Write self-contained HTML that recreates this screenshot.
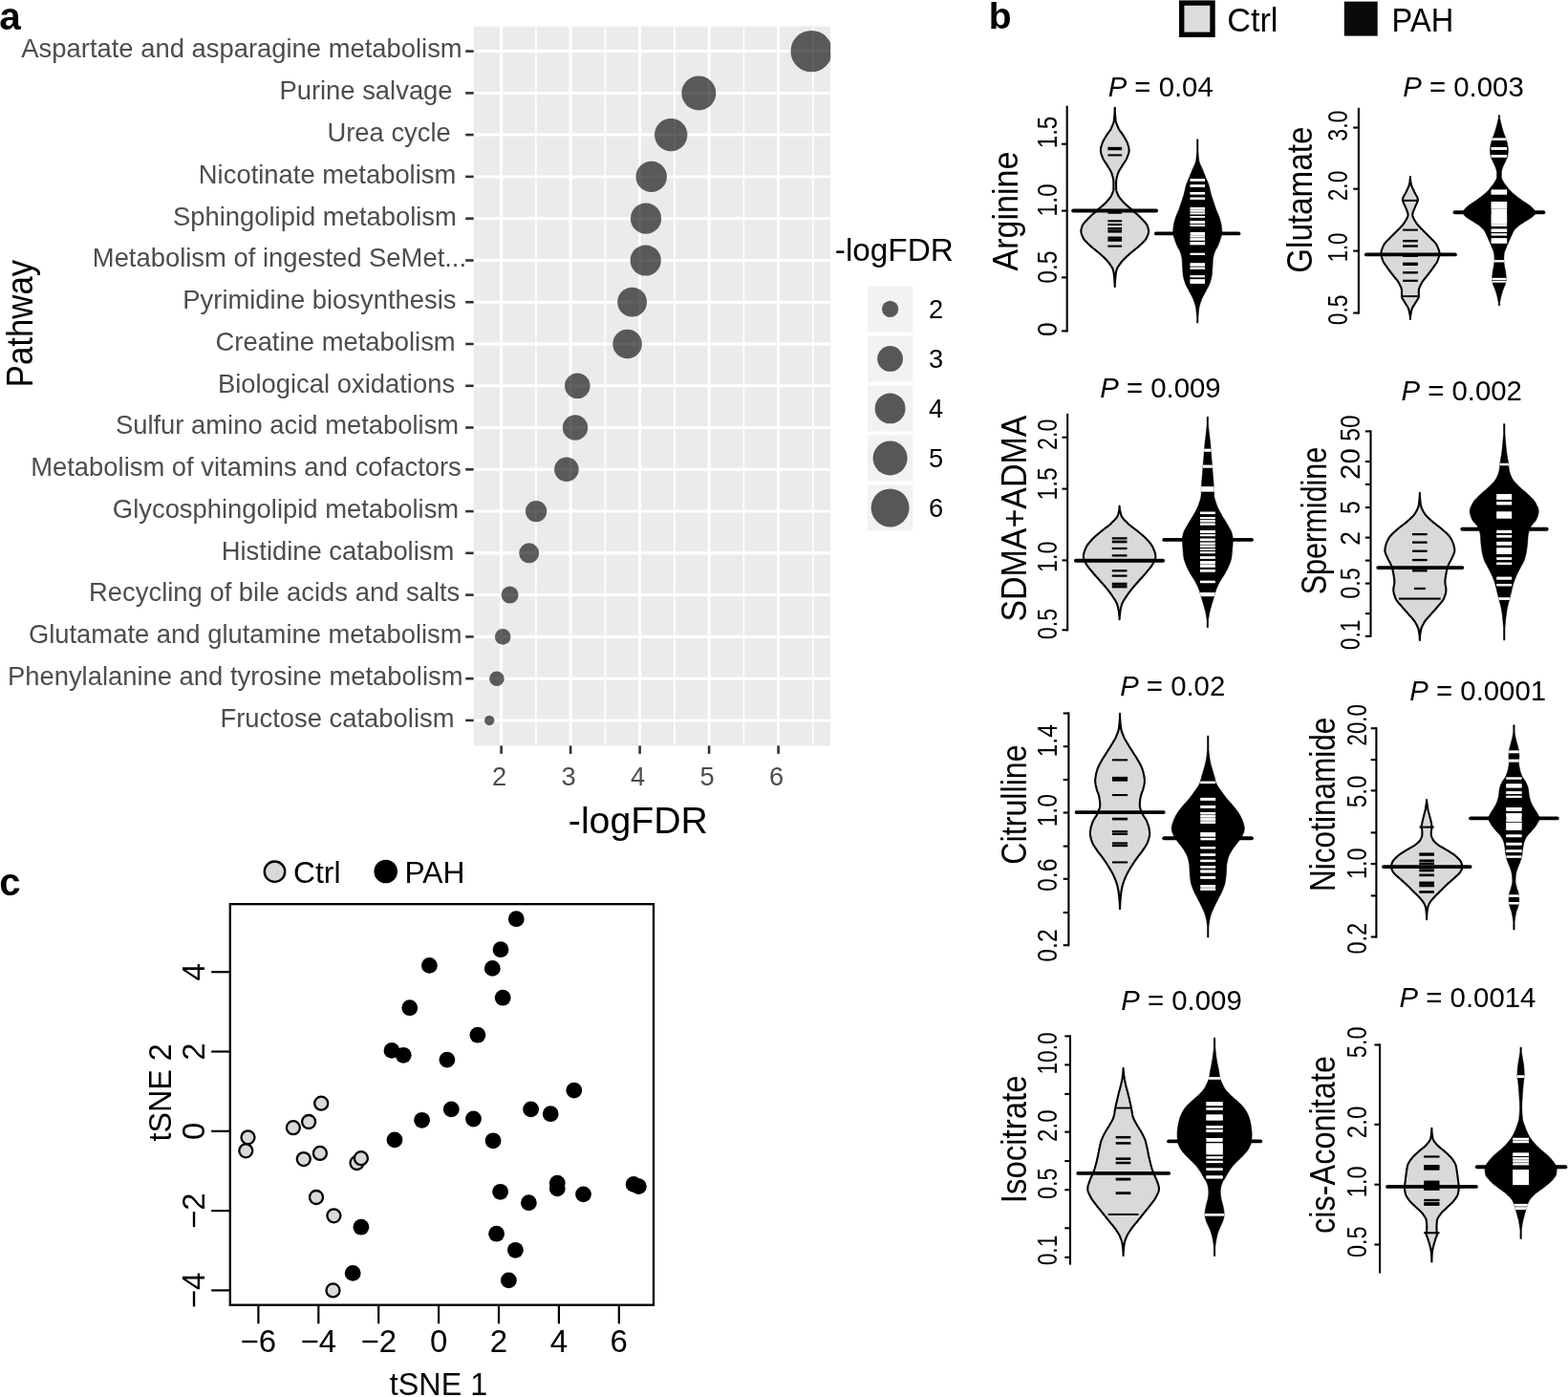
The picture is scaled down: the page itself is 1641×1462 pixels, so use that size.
<!DOCTYPE html>
<html lang="en"><head><meta charset="utf-8"><title>Figure</title>
<style>
html,body{margin:0;padding:0;background:#fff;}
svg{display:block;font-family:"Liberation Sans", Arial, Helvetica, sans-serif;}
</style></head><body>
<svg width="1641" height="1462" viewBox="0 0 1641 1462">
<rect width="1641" height="1462" fill="#fff"/>
<g id="panelA">
<rect x="495.7" y="27.6" width="373.5" height="752.8" fill="#ebebeb"/>
<line x1="560.9" x2="560.9" y1="27.6" y2="780.4" stroke="#fff" stroke-width="1.6"/>
<line x1="633.4" x2="633.4" y1="27.6" y2="780.4" stroke="#fff" stroke-width="1.6"/>
<line x1="705.9" x2="705.9" y1="27.6" y2="780.4" stroke="#fff" stroke-width="1.6"/>
<line x1="778.4" x2="778.4" y1="27.6" y2="780.4" stroke="#fff" stroke-width="1.6"/>
<line x1="850.9" x2="850.9" y1="27.6" y2="780.4" stroke="#fff" stroke-width="1.6"/>
<line x1="524.6" x2="524.6" y1="27.6" y2="780.4" stroke="#fff" stroke-width="3.0"/>
<line x1="597.1" x2="597.1" y1="27.6" y2="780.4" stroke="#fff" stroke-width="3.0"/>
<line x1="669.6" x2="669.6" y1="27.6" y2="780.4" stroke="#fff" stroke-width="3.0"/>
<line x1="742.1" x2="742.1" y1="27.6" y2="780.4" stroke="#fff" stroke-width="3.0"/>
<line x1="814.6" x2="814.6" y1="27.6" y2="780.4" stroke="#fff" stroke-width="3.0"/>
<line x1="495.7" x2="869.2" y1="53.6" y2="53.6" stroke="#fff" stroke-width="3.0"/>
<line x1="495.7" x2="869.2" y1="97.4" y2="97.4" stroke="#fff" stroke-width="3.0"/>
<line x1="495.7" x2="869.2" y1="141.1" y2="141.1" stroke="#fff" stroke-width="3.0"/>
<line x1="495.7" x2="869.2" y1="184.9" y2="184.9" stroke="#fff" stroke-width="3.0"/>
<line x1="495.7" x2="869.2" y1="228.7" y2="228.7" stroke="#fff" stroke-width="3.0"/>
<line x1="495.7" x2="869.2" y1="272.5" y2="272.5" stroke="#fff" stroke-width="3.0"/>
<line x1="495.7" x2="869.2" y1="316.2" y2="316.2" stroke="#fff" stroke-width="3.0"/>
<line x1="495.7" x2="869.2" y1="360.0" y2="360.0" stroke="#fff" stroke-width="3.0"/>
<line x1="495.7" x2="869.2" y1="403.8" y2="403.8" stroke="#fff" stroke-width="3.0"/>
<line x1="495.7" x2="869.2" y1="447.5" y2="447.5" stroke="#fff" stroke-width="3.0"/>
<line x1="495.7" x2="869.2" y1="491.3" y2="491.3" stroke="#fff" stroke-width="3.0"/>
<line x1="495.7" x2="869.2" y1="535.1" y2="535.1" stroke="#fff" stroke-width="3.0"/>
<line x1="495.7" x2="869.2" y1="578.8" y2="578.8" stroke="#fff" stroke-width="3.0"/>
<line x1="495.7" x2="869.2" y1="622.6" y2="622.6" stroke="#fff" stroke-width="3.0"/>
<line x1="495.7" x2="869.2" y1="666.4" y2="666.4" stroke="#fff" stroke-width="3.0"/>
<line x1="495.7" x2="869.2" y1="710.2" y2="710.2" stroke="#fff" stroke-width="3.0"/>
<line x1="495.7" x2="869.2" y1="753.9" y2="753.9" stroke="#fff" stroke-width="3.0"/>
<line x1="487.2" x2="495.7" y1="53.6" y2="53.6" stroke="#333" stroke-width="2.6"/>
<text x="483.7" y="60.4" font-size="27.4" text-anchor="end" fill="#4d4d4d">Aspartate and asparagine metabolism</text>
<line x1="487.2" x2="495.7" y1="97.4" y2="97.4" stroke="#333" stroke-width="2.6"/>
<text x="473.6" y="104.2" font-size="27.4" text-anchor="end" fill="#4d4d4d">Purine salvage</text>
<line x1="487.2" x2="495.7" y1="141.1" y2="141.1" stroke="#333" stroke-width="2.6"/>
<text x="471.8" y="147.9" font-size="27.4" text-anchor="end" fill="#4d4d4d">Urea cycle</text>
<line x1="487.2" x2="495.7" y1="184.9" y2="184.9" stroke="#333" stroke-width="2.6"/>
<text x="477.3" y="191.7" font-size="27.4" text-anchor="end" fill="#4d4d4d">Nicotinate metabolism</text>
<line x1="487.2" x2="495.7" y1="228.7" y2="228.7" stroke="#333" stroke-width="2.6"/>
<text x="477.9" y="235.5" font-size="27.4" text-anchor="end" fill="#4d4d4d">Sphingolipid metabolism</text>
<line x1="487.2" x2="495.7" y1="272.5" y2="272.5" stroke="#333" stroke-width="2.6"/>
<text x="488.1" y="279.3" font-size="27.4" text-anchor="end" fill="#4d4d4d">Metabolism of ingested SeMet...</text>
<line x1="487.2" x2="495.7" y1="316.2" y2="316.2" stroke="#333" stroke-width="2.6"/>
<text x="477.5" y="323.0" font-size="27.4" text-anchor="end" fill="#4d4d4d">Pyrimidine biosynthesis</text>
<line x1="487.2" x2="495.7" y1="360.0" y2="360.0" stroke="#333" stroke-width="2.6"/>
<text x="476.7" y="366.8" font-size="27.4" text-anchor="end" fill="#4d4d4d">Creatine metabolism</text>
<line x1="487.2" x2="495.7" y1="403.8" y2="403.8" stroke="#333" stroke-width="2.6"/>
<text x="476.1" y="410.6" font-size="27.4" text-anchor="end" fill="#4d4d4d">Biological oxidations</text>
<line x1="487.2" x2="495.7" y1="447.5" y2="447.5" stroke="#333" stroke-width="2.6"/>
<text x="480.2" y="454.3" font-size="27.4" text-anchor="end" fill="#4d4d4d">Sulfur amino acid metabolism</text>
<line x1="487.2" x2="495.7" y1="491.3" y2="491.3" stroke="#333" stroke-width="2.6"/>
<text x="482.8" y="498.1" font-size="27.4" text-anchor="end" fill="#4d4d4d">Metabolism of vitamins and cofactors</text>
<line x1="487.2" x2="495.7" y1="535.1" y2="535.1" stroke="#333" stroke-width="2.6"/>
<text x="480.2" y="541.9" font-size="27.4" text-anchor="end" fill="#4d4d4d">Glycosphingolipid metabolism</text>
<line x1="487.2" x2="495.7" y1="578.8" y2="578.8" stroke="#333" stroke-width="2.6"/>
<text x="475.3" y="585.6" font-size="27.4" text-anchor="end" fill="#4d4d4d">Histidine catabolism</text>
<line x1="487.2" x2="495.7" y1="622.6" y2="622.6" stroke="#333" stroke-width="2.6"/>
<text x="481.3" y="629.4" font-size="27.4" text-anchor="end" fill="#4d4d4d">Recycling of bile acids and salts</text>
<line x1="487.2" x2="495.7" y1="666.4" y2="666.4" stroke="#333" stroke-width="2.6"/>
<text x="483.6" y="673.2" font-size="27.4" text-anchor="end" fill="#4d4d4d">Glutamate and glutamine metabolism</text>
<line x1="487.2" x2="495.7" y1="710.2" y2="710.2" stroke="#333" stroke-width="2.6"/>
<text x="484.5" y="717.0" font-size="27.4" text-anchor="end" fill="#4d4d4d">Phenylalanine and tyrosine metabolism</text>
<line x1="487.2" x2="495.7" y1="753.9" y2="753.9" stroke="#333" stroke-width="2.6"/>
<text x="475.5" y="760.7" font-size="27.4" text-anchor="end" fill="#4d4d4d">Fructose catabolism</text>
<g clip-path="url(#clipA)">
<circle cx="849.2" cy="53.6" r="21.7" fill="#000" fill-opacity="0.62"/>
<circle cx="731.3" cy="97.4" r="18.0" fill="#000" fill-opacity="0.62"/>
<circle cx="702.2" cy="141.1" r="17.2" fill="#000" fill-opacity="0.62"/>
<circle cx="681.7" cy="184.9" r="16.2" fill="#000" fill-opacity="0.62"/>
<circle cx="676.0" cy="228.7" r="16.1" fill="#000" fill-opacity="0.62"/>
<circle cx="675.7" cy="272.5" r="16.1" fill="#000" fill-opacity="0.62"/>
<circle cx="661.6" cy="316.2" r="15.4" fill="#000" fill-opacity="0.62"/>
<circle cx="656.6" cy="360.0" r="15.3" fill="#000" fill-opacity="0.62"/>
<circle cx="604.3" cy="403.8" r="13.3" fill="#000" fill-opacity="0.62"/>
<circle cx="602.0" cy="447.5" r="13.2" fill="#000" fill-opacity="0.62"/>
<circle cx="592.9" cy="491.3" r="12.8" fill="#000" fill-opacity="0.62"/>
<circle cx="561.1" cy="535.1" r="11.2" fill="#000" fill-opacity="0.62"/>
<circle cx="553.7" cy="578.8" r="10.5" fill="#000" fill-opacity="0.62"/>
<circle cx="533.6" cy="622.6" r="9.0" fill="#000" fill-opacity="0.62"/>
<circle cx="526.2" cy="666.4" r="8.3" fill="#000" fill-opacity="0.62"/>
<circle cx="519.9" cy="710.2" r="7.8" fill="#000" fill-opacity="0.62"/>
<circle cx="512.2" cy="753.9" r="5.2" fill="#000" fill-opacity="0.62"/>
</g>
<clipPath id="clipA"><rect x="495.7" y="27.6" width="373.5" height="752.8"/></clipPath>
<line x1="524.6" x2="524.6" y1="780.4" y2="788.9" stroke="#333" stroke-width="2.6"/>
<text x="522.6" y="822.1" font-size="27.3" text-anchor="middle" fill="#4d4d4d">2</text>
<line x1="597.1" x2="597.1" y1="780.4" y2="788.9" stroke="#333" stroke-width="2.6"/>
<text x="595.1" y="822.1" font-size="27.3" text-anchor="middle" fill="#4d4d4d">3</text>
<line x1="669.6" x2="669.6" y1="780.4" y2="788.9" stroke="#333" stroke-width="2.6"/>
<text x="667.6" y="822.1" font-size="27.3" text-anchor="middle" fill="#4d4d4d">4</text>
<line x1="742.1" x2="742.1" y1="780.4" y2="788.9" stroke="#333" stroke-width="2.6"/>
<text x="740.1" y="822.1" font-size="27.3" text-anchor="middle" fill="#4d4d4d">5</text>
<line x1="814.6" x2="814.6" y1="780.4" y2="788.9" stroke="#333" stroke-width="2.6"/>
<text x="812.6" y="822.1" font-size="27.3" text-anchor="middle" fill="#4d4d4d">6</text>
<text x="667.8" y="871.5" font-size="39.2" text-anchor="middle" fill="#000">-logFDR</text>
<text x="33.5" y="338.5" font-size="39.2" text-anchor="middle" fill="#000" transform="rotate(-90 33.5 338.5)" textLength="133.5" lengthAdjust="spacingAndGlyphs">Pathway</text>
<text x="873.8" y="272.6" font-size="33.3" text-anchor="start" fill="#000">-logFDR</text>
<rect x="908" y="299.3" width="47.3" height="48.2" fill="#f2f2f2"/>
<circle cx="931.6" cy="323.4" r="8.6" fill="#000" fill-opacity="0.64"/>
<text x="972.0" y="332.8" font-size="27.3" text-anchor="start" fill="#000">2</text>
<rect x="908" y="351.3" width="47.3" height="48.2" fill="#f2f2f2"/>
<circle cx="931.6" cy="375.4" r="13.399999999999999" fill="#000" fill-opacity="0.64"/>
<text x="972.0" y="384.8" font-size="27.3" text-anchor="start" fill="#000">3</text>
<rect x="908" y="403.3" width="47.3" height="48.2" fill="#f2f2f2"/>
<circle cx="931.6" cy="427.4" r="15.95" fill="#000" fill-opacity="0.64"/>
<text x="972.0" y="436.8" font-size="27.3" text-anchor="start" fill="#000">4</text>
<rect x="908" y="455.3" width="47.3" height="48.2" fill="#f2f2f2"/>
<circle cx="931.6" cy="479.4" r="18.0" fill="#000" fill-opacity="0.64"/>
<text x="972.0" y="488.8" font-size="27.3" text-anchor="start" fill="#000">5</text>
<rect x="908" y="507.3" width="47.3" height="48.2" fill="#f2f2f2"/>
<circle cx="931.6" cy="531.4" r="20.0" fill="#000" fill-opacity="0.64"/>
<text x="972.0" y="540.8" font-size="27.3" text-anchor="start" fill="#000">6</text>
<text x="-0.8" y="31.0" font-size="40.5" text-anchor="start" fill="#000" font-weight="bold">a</text>
</g>
<g id="panelC">
<rect x="240.8" y="946.2" width="443.2" height="419.5" fill="none" stroke="#000" stroke-width="2.3"/>
<line x1="270.4" x2="270.4" y1="1365.7" y2="1385.3" stroke="#000" stroke-width="2.2"/>
<text x="270.4" y="1414.6" font-size="33" text-anchor="middle" fill="#000">−6</text>
<line x1="333.3" x2="333.3" y1="1365.7" y2="1385.3" stroke="#000" stroke-width="2.2"/>
<text x="333.3" y="1414.6" font-size="33" text-anchor="middle" fill="#000">−4</text>
<line x1="396.2" x2="396.2" y1="1365.7" y2="1385.3" stroke="#000" stroke-width="2.2"/>
<text x="396.2" y="1414.6" font-size="33" text-anchor="middle" fill="#000">−2</text>
<line x1="459.1" x2="459.1" y1="1365.7" y2="1385.3" stroke="#000" stroke-width="2.2"/>
<text x="459.1" y="1414.6" font-size="33" text-anchor="middle" fill="#000">0</text>
<line x1="522.0" x2="522.0" y1="1365.7" y2="1385.3" stroke="#000" stroke-width="2.2"/>
<text x="522.0" y="1414.6" font-size="33" text-anchor="middle" fill="#000">2</text>
<line x1="584.9" x2="584.9" y1="1365.7" y2="1385.3" stroke="#000" stroke-width="2.2"/>
<text x="584.9" y="1414.6" font-size="33" text-anchor="middle" fill="#000">4</text>
<line x1="647.8" x2="647.8" y1="1365.7" y2="1385.3" stroke="#000" stroke-width="2.2"/>
<text x="647.8" y="1414.6" font-size="33" text-anchor="middle" fill="#000">6</text>
<line x1="221.20000000000002" x2="240.8" y1="1350.4" y2="1350.4" stroke="#000" stroke-width="2.2"/>
<text x="213.6" y="1350.4" font-size="33" text-anchor="middle" fill="#000" transform="rotate(-90 213.6 1350.4)">−4</text>
<line x1="221.20000000000002" x2="240.8" y1="1267.1" y2="1267.1" stroke="#000" stroke-width="2.2"/>
<text x="213.6" y="1267.1" font-size="33" text-anchor="middle" fill="#000" transform="rotate(-90 213.6 1267.1)">−2</text>
<line x1="221.20000000000002" x2="240.8" y1="1183.8" y2="1183.8" stroke="#000" stroke-width="2.2"/>
<text x="213.6" y="1183.8" font-size="33" text-anchor="middle" fill="#000" transform="rotate(-90 213.6 1183.8)">0</text>
<line x1="221.20000000000002" x2="240.8" y1="1100.5" y2="1100.5" stroke="#000" stroke-width="2.2"/>
<text x="213.6" y="1100.5" font-size="33" text-anchor="middle" fill="#000" transform="rotate(-90 213.6 1100.5)">2</text>
<line x1="221.20000000000002" x2="240.8" y1="1017.2" y2="1017.2" stroke="#000" stroke-width="2.2"/>
<text x="213.6" y="1017.2" font-size="33" text-anchor="middle" fill="#000" transform="rotate(-90 213.6 1017.2)">4</text>
<text x="459.0" y="1459.8" font-size="32.3" text-anchor="middle" fill="#000">tSNE 1</text>
<text x="178.7" y="1143.4" font-size="32.3" text-anchor="middle" fill="#000" transform="rotate(-90 178.7 1143.4)">tSNE 2</text>
<circle cx="336.2" cy="1154.7" r="7.0" fill="#d9d9d9" stroke="#000" stroke-width="2.3"/>
<circle cx="323.1" cy="1174.0" r="7.0" fill="#d9d9d9" stroke="#000" stroke-width="2.3"/>
<circle cx="306.9" cy="1180.2" r="7.0" fill="#d9d9d9" stroke="#000" stroke-width="2.3"/>
<circle cx="259.5" cy="1190.3" r="7.0" fill="#d9d9d9" stroke="#000" stroke-width="2.3"/>
<circle cx="257.3" cy="1204.3" r="7.0" fill="#d9d9d9" stroke="#000" stroke-width="2.3"/>
<circle cx="334.9" cy="1206.9" r="7.0" fill="#d9d9d9" stroke="#000" stroke-width="2.3"/>
<circle cx="317.8" cy="1213.1" r="7.0" fill="#d9d9d9" stroke="#000" stroke-width="2.3"/>
<circle cx="373.5" cy="1217.0" r="7.0" fill="#d9d9d9" stroke="#000" stroke-width="2.3"/>
<circle cx="377.9" cy="1212.2" r="7.0" fill="#d9d9d9" stroke="#000" stroke-width="2.3"/>
<circle cx="331.0" cy="1253.0" r="7.0" fill="#d9d9d9" stroke="#000" stroke-width="2.3"/>
<circle cx="349.4" cy="1272.3" r="7.0" fill="#d9d9d9" stroke="#000" stroke-width="2.3"/>
<circle cx="348.5" cy="1350.4" r="7.0" fill="#d9d9d9" stroke="#000" stroke-width="2.3"/>
<circle cx="540.3" cy="961.7" r="8.4" fill="#000"/>
<circle cx="524.0" cy="993.7" r="8.4" fill="#000"/>
<circle cx="449.4" cy="1010.4" r="8.4" fill="#000"/>
<circle cx="515.3" cy="1013.4" r="8.4" fill="#000"/>
<circle cx="526.2" cy="1044.2" r="8.4" fill="#000"/>
<circle cx="428.8" cy="1054.7" r="8.4" fill="#000"/>
<circle cx="499.9" cy="1083.2" r="8.4" fill="#000"/>
<circle cx="410.0" cy="1099.4" r="8.4" fill="#000"/>
<circle cx="422.2" cy="1104.3" r="8.4" fill="#000"/>
<circle cx="467.9" cy="1109.1" r="8.4" fill="#000"/>
<circle cx="600.8" cy="1141.1" r="8.4" fill="#000"/>
<circle cx="472.3" cy="1160.9" r="8.4" fill="#000"/>
<circle cx="555.6" cy="1160.9" r="8.4" fill="#000"/>
<circle cx="576.2" cy="1165.7" r="8.4" fill="#000"/>
<circle cx="441.6" cy="1172.3" r="8.4" fill="#000"/>
<circle cx="495.5" cy="1171.0" r="8.4" fill="#000"/>
<circle cx="413.0" cy="1192.9" r="8.4" fill="#000"/>
<circle cx="516.1" cy="1193.8" r="8.4" fill="#000"/>
<circle cx="583.3" cy="1238.1" r="8.4" fill="#000"/>
<circle cx="583.3" cy="1243.8" r="8.4" fill="#000"/>
<circle cx="663.1" cy="1239.4" r="8.4" fill="#000"/>
<circle cx="668.4" cy="1241.6" r="8.4" fill="#000"/>
<circle cx="523.6" cy="1247.3" r="8.4" fill="#000"/>
<circle cx="610.5" cy="1249.9" r="8.4" fill="#000"/>
<circle cx="553.4" cy="1258.7" r="8.4" fill="#000"/>
<circle cx="377.9" cy="1284.2" r="8.4" fill="#000"/>
<circle cx="519.6" cy="1291.2" r="8.4" fill="#000"/>
<circle cx="539.4" cy="1308.3" r="8.4" fill="#000"/>
<circle cx="369.2" cy="1332.4" r="8.4" fill="#000"/>
<circle cx="532.4" cy="1339.9" r="8.4" fill="#000"/>
<circle cx="287.5" cy="912.2" r="10.7" fill="#d9d9d9" stroke="#000" stroke-width="2.4"/>
<text x="307.0" y="924.0" font-size="32" text-anchor="start" fill="#000" textLength="49.5" lengthAdjust="spacingAndGlyphs">Ctrl</text>
<circle cx="403.7" cy="912" r="12.3" fill="#000"/>
<text x="423.4" y="924.0" font-size="32" text-anchor="start" fill="#000" textLength="63.0" lengthAdjust="spacingAndGlyphs">PAH</text>
<text x="-0.8" y="937.0" font-size="40" text-anchor="start" fill="#000" font-weight="bold">c</text>
</g>
<g id="panelB">
<text x="1034.8" y="30.2" font-size="39" text-anchor="start" fill="#000" font-weight="bold">b</text>
<rect x="1236.7" y="3.1" width="32.3" height="33.2" fill="#dcdcdc" stroke="#000" stroke-width="5.4"/>
<text x="1284.3" y="32.8" font-size="34.2" text-anchor="start" fill="#000">Ctrl</text>
<rect x="1406.8" y="1.6" width="34.9" height="36" fill="#0a0a0a"/>
<text x="1456.6" y="32.8" font-size="34.2" text-anchor="start" fill="#000" textLength="64.6" lengthAdjust="spacingAndGlyphs">PAH</text>
<line x1="1116.7" x2="1116.7" y1="110.7" y2="347.4" stroke="#000" stroke-width="2.1" stroke-linecap="butt"/>
<line x1="1111.0" x2="1117.2" y1="150.7" y2="150.7" stroke="#000" stroke-width="2.1"/>
<line x1="1111.0" x2="1117.2" y1="220.6" y2="220.6" stroke="#000" stroke-width="2.1"/>
<line x1="1111.0" x2="1117.2" y1="290.4" y2="290.4" stroke="#000" stroke-width="2.1"/>
<line x1="1111.0" x2="1117.2" y1="346.4" y2="346.4" stroke="#000" stroke-width="2.1"/>
<text x="1105.6" y="138.5" font-size="28.6" text-anchor="middle" fill="#000" transform="rotate(-90 1105.6 138.5)" textLength="33.7" lengthAdjust="spacingAndGlyphs">1.5</text>
<text x="1105.6" y="209.4" font-size="28.6" text-anchor="middle" fill="#000" transform="rotate(-90 1105.6 209.4)" textLength="34.2" lengthAdjust="spacingAndGlyphs">1.0</text>
<text x="1105.6" y="279.7" font-size="28.6" text-anchor="middle" fill="#000" transform="rotate(-90 1105.6 279.7)" textLength="34.2" lengthAdjust="spacingAndGlyphs">0.5</text>
<text x="1105.6" y="344.7" font-size="28.6" text-anchor="middle" fill="#000" transform="rotate(-90 1105.6 344.7)" textLength="14.7" lengthAdjust="spacingAndGlyphs">0</text>
<text x="1064.7" y="221.0" font-size="36" text-anchor="middle" fill="#000" transform="rotate(-90 1064.7 221.0)" textLength="124.8" lengthAdjust="spacingAndGlyphs">Arginine</text>
<text x="1214.7" y="101.0" font-size="30" text-anchor="middle" textLength="110.1" lengthAdjust="spacingAndGlyphs"><tspan font-style="italic">P</tspan> = 0.04</text>
<path d="M1166.8,112.8 L1166.8,113.6 L1166.8,114.4 L1166.8,115.2 L1166.8,116.0 L1166.8,116.8 L1166.9,117.6 L1166.9,118.4 L1167.0,119.2 L1167.1,120.0 L1167.1,120.8 L1167.2,121.6 L1167.3,122.4 L1167.3,123.2 L1167.4,124.0 L1167.5,124.8 L1167.6,125.6 L1167.7,126.4 L1167.9,127.2 L1168.1,128.0 L1168.3,128.8 L1168.6,129.6 L1168.9,130.4 L1169.2,131.2 L1169.6,132.0 L1169.9,132.8 L1170.3,133.6 L1170.6,134.4 L1171.0,135.2 L1171.5,136.0 L1172.0,136.8 L1172.6,137.6 L1173.2,138.4 L1173.8,139.2 L1174.4,140.0 L1174.9,140.8 L1175.5,141.6 L1176.0,142.4 L1176.4,143.2 L1176.9,144.0 L1177.4,144.8 L1177.8,145.6 L1178.3,146.4 L1178.7,147.2 L1179.1,148.0 L1179.5,148.8 L1179.9,149.6 L1180.2,150.4 L1180.4,151.2 L1180.6,152.0 L1180.9,152.8 L1181.1,153.6 L1181.3,154.4 L1181.4,155.2 L1181.5,156.0 L1181.6,156.8 L1181.6,157.6 L1181.6,158.4 L1181.4,159.2 L1181.3,160.0 L1181.0,160.8 L1180.8,161.6 L1180.5,162.4 L1180.2,163.2 L1179.9,164.0 L1179.6,164.8 L1179.3,165.6 L1178.9,166.4 L1178.5,167.2 L1178.0,168.0 L1177.5,168.8 L1177.0,169.6 L1176.4,170.4 L1175.9,171.2 L1175.4,172.0 L1174.8,172.8 L1174.4,173.6 L1173.9,174.4 L1173.4,175.2 L1172.9,176.0 L1172.4,176.8 L1171.9,177.6 L1171.5,178.4 L1171.0,179.2 L1170.6,180.0 L1170.3,180.8 L1170.0,181.6 L1169.7,182.4 L1169.5,183.2 L1169.3,184.0 L1169.0,184.8 L1168.8,185.6 L1168.6,186.4 L1168.5,187.2 L1168.3,188.0 L1168.2,188.8 L1168.2,189.6 L1168.1,190.4 L1168.1,191.2 L1168.1,192.0 L1168.1,192.8 L1168.1,193.6 L1168.1,194.4 L1168.1,195.2 L1168.1,196.0 L1168.1,196.8 L1168.1,197.6 L1168.2,198.4 L1168.3,199.2 L1168.5,200.0 L1168.8,200.8 L1169.1,201.6 L1169.4,202.4 L1169.7,203.2 L1170.1,204.0 L1170.4,204.8 L1170.9,205.6 L1171.4,206.4 L1172.0,207.2 L1172.6,208.0 L1173.3,208.8 L1174.0,209.6 L1174.7,210.4 L1175.4,211.2 L1176.1,212.0 L1176.9,212.8 L1177.8,213.6 L1178.7,214.4 L1179.6,215.2 L1180.5,216.0 L1181.4,216.8 L1182.4,217.6 L1183.3,218.4 L1184.2,219.2 L1185.1,220.0 L1186.0,220.8 L1186.9,221.6 L1187.8,222.4 L1188.8,223.2 L1189.7,224.0 L1190.6,224.8 L1191.5,225.6 L1192.3,226.4 L1193.2,227.2 L1193.9,228.0 L1194.7,228.8 L1195.4,229.6 L1196.2,230.4 L1197.0,231.2 L1197.7,232.0 L1198.4,232.8 L1199.1,233.6 L1199.7,234.4 L1200.2,235.2 L1200.6,236.0 L1201.0,236.8 L1201.2,237.6 L1201.5,238.4 L1201.7,239.2 L1201.9,240.0 L1202.1,240.8 L1202.1,241.6 L1202.1,242.4 L1202.0,243.2 L1201.9,244.0 L1201.6,244.8 L1201.4,245.6 L1201.1,246.4 L1200.7,247.2 L1200.4,248.0 L1200.0,248.8 L1199.6,249.6 L1199.1,250.4 L1198.5,251.2 L1197.8,252.0 L1197.0,252.8 L1196.2,253.6 L1195.4,254.4 L1194.6,255.2 L1193.7,256.0 L1192.9,256.8 L1192.0,257.6 L1191.1,258.4 L1190.2,259.2 L1189.2,260.0 L1188.2,260.8 L1187.2,261.6 L1186.2,262.4 L1185.2,263.2 L1184.2,264.0 L1183.3,264.8 L1182.3,265.6 L1181.5,266.4 L1180.6,267.2 L1179.7,268.0 L1178.8,268.8 L1178.0,269.6 L1177.2,270.4 L1176.3,271.2 L1175.6,272.0 L1174.8,272.8 L1174.2,273.6 L1173.5,274.4 L1172.9,275.2 L1172.3,276.0 L1171.7,276.8 L1171.2,277.6 L1170.6,278.4 L1170.1,279.2 L1169.6,280.0 L1169.2,280.8 L1168.9,281.6 L1168.6,282.4 L1168.4,283.2 L1168.2,284.0 L1168.1,284.8 L1167.9,285.6 L1167.8,286.4 L1167.7,287.2 L1167.6,288.0 L1167.5,288.8 L1167.4,289.6 L1167.4,290.4 L1167.3,291.2 L1167.2,292.0 L1167.2,292.8 L1167.1,293.6 L1167.0,294.4 L1167.0,295.2 L1166.9,296.0 L1166.9,296.8 L1166.8,297.6 L1166.8,298.4 L1166.8,299.2 L1166.8,300.0 L1166.8,300.0 L1166.7,299.2 L1166.7,298.4 L1166.7,297.6 L1166.6,296.8 L1166.6,296.0 L1166.5,295.2 L1166.5,294.4 L1166.4,293.6 L1166.4,292.8 L1166.3,292.0 L1166.2,291.2 L1166.1,290.4 L1166.1,289.6 L1166.0,288.8 L1165.9,288.0 L1165.8,287.2 L1165.7,286.4 L1165.6,285.6 L1165.4,284.8 L1165.3,284.0 L1165.1,283.2 L1164.9,282.4 L1164.6,281.6 L1164.3,280.8 L1163.9,280.0 L1163.4,279.2 L1162.9,278.4 L1162.3,277.6 L1161.8,276.8 L1161.2,276.0 L1160.6,275.2 L1160.0,274.4 L1159.3,273.6 L1158.7,272.8 L1157.9,272.0 L1157.2,271.2 L1156.4,270.4 L1155.5,269.6 L1154.7,268.8 L1153.8,268.0 L1152.9,267.2 L1152.0,266.4 L1151.2,265.6 L1150.2,264.8 L1149.3,264.0 L1148.3,263.2 L1147.3,262.4 L1146.3,261.6 L1145.3,260.8 L1144.3,260.0 L1143.3,259.2 L1142.4,258.4 L1141.5,257.6 L1140.6,256.8 L1139.8,256.0 L1138.9,255.2 L1138.1,254.4 L1137.3,253.6 L1136.5,252.8 L1135.7,252.0 L1135.0,251.2 L1134.4,250.4 L1133.9,249.6 L1133.5,248.8 L1133.1,248.0 L1132.8,247.2 L1132.4,246.4 L1132.1,245.6 L1131.9,244.8 L1131.6,244.0 L1131.5,243.2 L1131.4,242.4 L1131.4,241.6 L1131.4,240.8 L1131.6,240.0 L1131.8,239.2 L1132.0,238.4 L1132.3,237.6 L1132.5,236.8 L1132.9,236.0 L1133.3,235.2 L1133.8,234.4 L1134.4,233.6 L1135.1,232.8 L1135.8,232.0 L1136.5,231.2 L1137.3,230.4 L1138.1,229.6 L1138.8,228.8 L1139.6,228.0 L1140.4,227.2 L1141.2,226.4 L1142.0,225.6 L1142.9,224.8 L1143.8,224.0 L1144.7,223.2 L1145.7,222.4 L1146.6,221.6 L1147.5,220.8 L1148.4,220.0 L1149.3,219.2 L1150.2,218.4 L1151.1,217.6 L1152.1,216.8 L1153.0,216.0 L1153.9,215.2 L1154.8,214.4 L1155.7,213.6 L1156.6,212.8 L1157.4,212.0 L1158.1,211.2 L1158.8,210.4 L1159.5,209.6 L1160.2,208.8 L1160.9,208.0 L1161.5,207.2 L1162.1,206.4 L1162.6,205.6 L1163.1,204.8 L1163.4,204.0 L1163.8,203.2 L1164.1,202.4 L1164.4,201.6 L1164.7,200.8 L1165.0,200.0 L1165.2,199.2 L1165.3,198.4 L1165.4,197.6 L1165.4,196.8 L1165.4,196.0 L1165.4,195.2 L1165.4,194.4 L1165.4,193.6 L1165.4,192.8 L1165.4,192.0 L1165.4,191.2 L1165.4,190.4 L1165.4,189.6 L1165.3,188.8 L1165.2,188.0 L1165.0,187.2 L1164.9,186.4 L1164.7,185.6 L1164.5,184.8 L1164.2,184.0 L1164.0,183.2 L1163.8,182.4 L1163.5,181.6 L1163.2,180.8 L1162.9,180.0 L1162.5,179.2 L1162.0,178.4 L1161.6,177.6 L1161.1,176.8 L1160.6,176.0 L1160.1,175.2 L1159.6,174.4 L1159.1,173.6 L1158.7,172.8 L1158.2,172.0 L1157.6,171.2 L1157.1,170.4 L1156.5,169.6 L1156.0,168.8 L1155.5,168.0 L1155.0,167.2 L1154.6,166.4 L1154.2,165.6 L1153.9,164.8 L1153.6,164.0 L1153.3,163.2 L1153.0,162.4 L1152.7,161.6 L1152.5,160.8 L1152.2,160.0 L1152.1,159.2 L1152.0,158.4 L1151.9,157.6 L1151.9,156.8 L1152.0,156.0 L1152.1,155.2 L1152.2,154.4 L1152.4,153.6 L1152.6,152.8 L1152.9,152.0 L1153.1,151.2 L1153.3,150.4 L1153.7,149.6 L1154.0,148.8 L1154.4,148.0 L1154.8,147.2 L1155.2,146.4 L1155.7,145.6 L1156.1,144.8 L1156.6,144.0 L1157.1,143.2 L1157.5,142.4 L1158.0,141.6 L1158.6,140.8 L1159.2,140.0 L1159.7,139.2 L1160.3,138.4 L1160.9,137.6 L1161.5,136.8 L1162.0,136.0 L1162.5,135.2 L1162.9,134.4 L1163.2,133.6 L1163.6,132.8 L1164.0,132.0 L1164.3,131.2 L1164.6,130.4 L1164.9,129.6 L1165.2,128.8 L1165.4,128.0 L1165.6,127.2 L1165.8,126.4 L1165.9,125.6 L1166.0,124.8 L1166.1,124.0 L1166.2,123.2 L1166.2,122.4 L1166.3,121.6 L1166.4,120.8 L1166.5,120.0 L1166.5,119.2 L1166.6,118.4 L1166.6,117.6 L1166.7,116.8 L1166.7,116.0 L1166.7,115.2 L1166.7,114.4 L1166.7,113.6 L1166.8,112.8Z" fill="#d9d9d9" stroke="#000" stroke-width="2.1" stroke-linejoin="round"/>
<g fill="#000"><rect x="1159.4" y="153.86" width="14.7" height="3.39"/><rect x="1159.4" y="161.38" width="14.7" height="2.03"/><rect x="1159.4" y="221.72" width="14.7" height="2.03"/><rect x="1159.4" y="230.27" width="14.7" height="2.03"/><rect x="1159.4" y="234.03" width="14.7" height="2.03"/><rect x="1159.4" y="237.96" width="14.7" height="2.71"/><rect x="1159.4" y="240.87" width="14.7" height="2.71"/><rect x="1159.4" y="247.53" width="14.7" height="2.37"/><rect x="1159.4" y="249.76" width="14.7" height="3.05"/><rect x="1159.4" y="256.59" width="14.7" height="2.03"/></g>
<line x1="1123.2" x2="1210.1" y1="220.5" y2="220.5" stroke="#000" stroke-width="3.9" stroke-linecap="round"/>
<path d="M1254.0,145.8 L1254.0,146.6 L1254.0,147.4 L1254.0,148.2 L1254.0,149.0 L1254.0,149.8 L1254.0,150.6 L1254.0,151.4 L1254.0,152.2 L1254.0,153.0 L1254.0,153.8 L1254.0,154.6 L1254.0,155.4 L1254.0,156.2 L1254.0,157.0 L1254.0,157.8 L1254.0,158.6 L1254.1,159.4 L1254.1,160.2 L1254.2,161.0 L1254.3,161.8 L1254.3,162.6 L1254.4,163.4 L1254.5,164.2 L1254.5,165.0 L1254.6,165.8 L1254.7,166.6 L1254.8,167.4 L1254.9,168.2 L1255.1,169.0 L1255.3,169.8 L1255.6,170.6 L1255.9,171.4 L1256.2,172.2 L1256.6,173.0 L1257.0,173.8 L1257.3,174.6 L1257.7,175.4 L1258.1,176.2 L1258.4,177.0 L1258.7,177.8 L1259.1,178.6 L1259.4,179.4 L1259.7,180.2 L1260.0,181.0 L1260.3,181.8 L1260.7,182.6 L1261.0,183.4 L1261.3,184.2 L1261.6,185.0 L1261.9,185.8 L1262.3,186.6 L1262.6,187.4 L1263.0,188.2 L1263.3,189.0 L1263.6,189.8 L1264.0,190.6 L1264.3,191.4 L1264.6,192.2 L1264.9,193.0 L1265.2,193.8 L1265.4,194.6 L1265.6,195.4 L1265.8,196.2 L1266.0,197.0 L1266.2,197.8 L1266.3,198.6 L1266.5,199.4 L1266.7,200.2 L1266.9,201.0 L1267.1,201.8 L1267.3,202.6 L1267.5,203.4 L1267.7,204.2 L1268.0,205.0 L1268.2,205.8 L1268.5,206.6 L1268.8,207.4 L1269.0,208.2 L1269.3,209.0 L1269.6,209.8 L1269.8,210.6 L1270.1,211.4 L1270.4,212.2 L1270.6,213.0 L1270.9,213.8 L1271.2,214.6 L1271.4,215.4 L1271.7,216.2 L1272.0,217.0 L1272.2,217.8 L1272.5,218.6 L1272.8,219.4 L1273.1,220.2 L1273.4,221.0 L1273.8,221.8 L1274.1,222.6 L1274.5,223.4 L1274.8,224.2 L1275.1,225.0 L1275.5,225.8 L1275.8,226.6 L1276.1,227.4 L1276.3,228.2 L1276.6,229.0 L1276.8,229.8 L1277.0,230.6 L1277.3,231.4 L1277.5,232.2 L1277.7,233.0 L1277.9,233.8 L1278.0,234.6 L1278.2,235.4 L1278.3,236.2 L1278.4,237.0 L1278.5,237.8 L1278.6,238.6 L1278.7,239.4 L1278.7,240.2 L1278.8,241.0 L1278.8,241.8 L1278.9,242.6 L1278.9,243.4 L1278.9,244.2 L1278.8,245.0 L1278.6,245.8 L1278.4,246.6 L1278.2,247.4 L1277.9,248.2 L1277.6,249.0 L1277.4,249.8 L1277.1,250.6 L1276.9,251.4 L1276.6,252.2 L1276.3,253.0 L1276.0,253.8 L1275.7,254.6 L1275.4,255.4 L1275.1,256.2 L1274.7,257.0 L1274.4,257.8 L1274.0,258.6 L1273.5,259.4 L1273.1,260.2 L1272.6,261.0 L1272.2,261.8 L1271.8,262.6 L1271.5,263.4 L1271.2,264.2 L1270.9,265.0 L1270.6,265.8 L1270.4,266.6 L1270.2,267.4 L1270.0,268.2 L1269.8,269.0 L1269.6,269.8 L1269.5,270.6 L1269.4,271.4 L1269.4,272.2 L1269.3,273.0 L1269.3,273.8 L1269.2,274.6 L1269.2,275.4 L1269.2,276.2 L1269.1,277.0 L1269.1,277.8 L1269.0,278.6 L1269.0,279.4 L1268.9,280.2 L1268.9,281.0 L1268.8,281.8 L1268.8,282.6 L1268.7,283.4 L1268.7,284.2 L1268.6,285.0 L1268.5,285.8 L1268.4,286.6 L1268.4,287.4 L1268.3,288.2 L1268.2,289.0 L1268.0,289.8 L1267.8,290.6 L1267.6,291.4 L1267.4,292.2 L1267.2,293.0 L1267.0,293.8 L1266.7,294.6 L1266.5,295.4 L1266.2,296.2 L1265.9,297.0 L1265.6,297.8 L1265.2,298.6 L1264.9,299.4 L1264.4,300.2 L1264.0,301.0 L1263.6,301.8 L1263.1,302.6 L1262.7,303.4 L1262.3,304.2 L1261.9,305.0 L1261.4,305.8 L1261.0,306.6 L1260.6,307.4 L1260.2,308.2 L1259.7,309.0 L1259.3,309.8 L1258.9,310.6 L1258.5,311.4 L1258.1,312.2 L1257.8,313.0 L1257.5,313.8 L1257.2,314.6 L1256.9,315.4 L1256.6,316.2 L1256.3,317.0 L1256.0,317.8 L1255.8,318.6 L1255.6,319.4 L1255.4,320.2 L1255.2,321.0 L1255.0,321.8 L1254.9,322.6 L1254.8,323.4 L1254.7,324.2 L1254.6,325.0 L1254.5,325.8 L1254.5,326.6 L1254.4,327.4 L1254.3,328.2 L1254.3,329.0 L1254.2,329.8 L1254.1,330.6 L1254.0,331.4 L1254.0,332.2 L1254.0,333.0 L1254.0,333.8 L1254.0,334.6 L1254.0,335.4 L1254.0,336.2 L1254.0,337.0 L1254.0,337.8 L1254.0,337.9 L1252.5,337.9 L1252.5,337.8 L1252.5,337.0 L1252.5,336.2 L1252.5,335.4 L1252.5,334.6 L1252.5,333.8 L1252.5,333.0 L1252.5,332.2 L1252.5,331.4 L1252.4,330.6 L1252.3,329.8 L1252.2,329.0 L1252.2,328.2 L1252.1,327.4 L1252.0,326.6 L1251.9,325.8 L1251.9,325.0 L1251.8,324.2 L1251.7,323.4 L1251.6,322.6 L1251.5,321.8 L1251.3,321.0 L1251.1,320.2 L1250.9,319.4 L1250.7,318.6 L1250.5,317.8 L1250.2,317.0 L1249.9,316.2 L1249.6,315.4 L1249.3,314.6 L1249.0,313.8 L1248.7,313.0 L1248.4,312.2 L1248.0,311.4 L1247.6,310.6 L1247.2,309.8 L1246.8,309.0 L1246.3,308.2 L1245.9,307.4 L1245.5,306.6 L1245.0,305.8 L1244.6,305.0 L1244.2,304.2 L1243.8,303.4 L1243.4,302.6 L1242.9,301.8 L1242.5,301.0 L1242.1,300.2 L1241.6,299.4 L1241.3,298.6 L1240.9,297.8 L1240.6,297.0 L1240.3,296.2 L1240.0,295.4 L1239.8,294.6 L1239.5,293.8 L1239.3,293.0 L1239.1,292.2 L1238.8,291.4 L1238.7,290.6 L1238.5,289.8 L1238.3,289.0 L1238.2,288.2 L1238.1,287.4 L1238.0,286.6 L1238.0,285.8 L1237.9,285.0 L1237.8,284.2 L1237.8,283.4 L1237.7,282.6 L1237.7,281.8 L1237.6,281.0 L1237.6,280.2 L1237.5,279.4 L1237.5,278.6 L1237.4,277.8 L1237.4,277.0 L1237.3,276.2 L1237.3,275.4 L1237.3,274.6 L1237.2,273.8 L1237.2,273.0 L1237.1,272.2 L1237.1,271.4 L1237.0,270.6 L1236.9,269.8 L1236.7,269.0 L1236.5,268.2 L1236.3,267.4 L1236.1,266.6 L1235.9,265.8 L1235.6,265.0 L1235.3,264.2 L1235.0,263.4 L1234.7,262.6 L1234.3,261.8 L1233.9,261.0 L1233.4,260.2 L1233.0,259.4 L1232.5,258.6 L1232.1,257.8 L1231.8,257.0 L1231.4,256.2 L1231.1,255.4 L1230.8,254.6 L1230.5,253.8 L1230.2,253.0 L1229.9,252.2 L1229.6,251.4 L1229.4,250.6 L1229.1,249.8 L1228.9,249.0 L1228.6,248.2 L1228.3,247.4 L1228.1,246.6 L1227.9,245.8 L1227.7,245.0 L1227.6,244.2 L1227.6,243.4 L1227.6,242.6 L1227.7,241.8 L1227.7,241.0 L1227.8,240.2 L1227.8,239.4 L1227.9,238.6 L1228.0,237.8 L1228.1,237.0 L1228.2,236.2 L1228.3,235.4 L1228.5,234.6 L1228.6,233.8 L1228.8,233.0 L1229.0,232.2 L1229.2,231.4 L1229.5,230.6 L1229.7,229.8 L1229.9,229.0 L1230.2,228.2 L1230.4,227.4 L1230.7,226.6 L1231.0,225.8 L1231.3,225.0 L1231.7,224.2 L1232.0,223.4 L1232.4,222.6 L1232.7,221.8 L1233.1,221.0 L1233.4,220.2 L1233.7,219.4 L1234.0,218.6 L1234.3,217.8 L1234.5,217.0 L1234.8,216.2 L1235.1,215.4 L1235.3,214.6 L1235.6,213.8 L1235.9,213.0 L1236.1,212.2 L1236.4,211.4 L1236.7,210.6 L1236.9,209.8 L1237.2,209.0 L1237.5,208.2 L1237.7,207.4 L1238.0,206.6 L1238.3,205.8 L1238.5,205.0 L1238.8,204.2 L1239.0,203.4 L1239.2,202.6 L1239.4,201.8 L1239.6,201.0 L1239.8,200.2 L1240.0,199.4 L1240.2,198.6 L1240.3,197.8 L1240.5,197.0 L1240.7,196.2 L1240.9,195.4 L1241.1,194.6 L1241.3,193.8 L1241.6,193.0 L1241.9,192.2 L1242.2,191.4 L1242.5,190.6 L1242.9,189.8 L1243.2,189.0 L1243.5,188.2 L1243.9,187.4 L1244.2,186.6 L1244.6,185.8 L1244.9,185.0 L1245.2,184.2 L1245.5,183.4 L1245.8,182.6 L1246.2,181.8 L1246.5,181.0 L1246.8,180.2 L1247.1,179.4 L1247.4,178.6 L1247.8,177.8 L1248.1,177.0 L1248.4,176.2 L1248.8,175.4 L1249.2,174.6 L1249.5,173.8 L1249.9,173.0 L1250.3,172.2 L1250.6,171.4 L1250.9,170.6 L1251.2,169.8 L1251.4,169.0 L1251.6,168.2 L1251.7,167.4 L1251.8,166.6 L1251.9,165.8 L1252.0,165.0 L1252.0,164.2 L1252.1,163.4 L1252.2,162.6 L1252.2,161.8 L1252.3,161.0 L1252.4,160.2 L1252.4,159.4 L1252.5,158.6 L1252.5,157.8 L1252.5,157.0 L1252.5,156.2 L1252.5,155.4 L1252.5,154.6 L1252.5,153.8 L1252.5,153.0 L1252.5,152.2 L1252.5,151.4 L1252.5,150.6 L1252.5,149.8 L1252.5,149.0 L1252.5,148.2 L1252.5,147.4 L1252.5,146.6 L1252.5,145.8Z" fill="#000" stroke="#000" stroke-width="0.5" stroke-linejoin="round"/>
<clipPath id="bc1"><path d="M1254.0,145.8 L1254.0,146.6 L1254.0,147.4 L1254.0,148.2 L1254.0,149.0 L1254.0,149.8 L1254.0,150.6 L1254.0,151.4 L1254.0,152.2 L1254.0,153.0 L1254.0,153.8 L1254.0,154.6 L1254.0,155.4 L1254.0,156.2 L1254.0,157.0 L1254.0,157.8 L1254.0,158.6 L1254.1,159.4 L1254.1,160.2 L1254.2,161.0 L1254.3,161.8 L1254.3,162.6 L1254.4,163.4 L1254.5,164.2 L1254.5,165.0 L1254.6,165.8 L1254.7,166.6 L1254.8,167.4 L1254.9,168.2 L1255.1,169.0 L1255.3,169.8 L1255.6,170.6 L1255.9,171.4 L1256.2,172.2 L1256.6,173.0 L1257.0,173.8 L1257.3,174.6 L1257.7,175.4 L1258.1,176.2 L1258.4,177.0 L1258.7,177.8 L1259.1,178.6 L1259.4,179.4 L1259.7,180.2 L1260.0,181.0 L1260.3,181.8 L1260.7,182.6 L1261.0,183.4 L1261.3,184.2 L1261.6,185.0 L1261.9,185.8 L1262.3,186.6 L1262.6,187.4 L1263.0,188.2 L1263.3,189.0 L1263.6,189.8 L1264.0,190.6 L1264.3,191.4 L1264.6,192.2 L1264.9,193.0 L1265.2,193.8 L1265.4,194.6 L1265.6,195.4 L1265.8,196.2 L1266.0,197.0 L1266.2,197.8 L1266.3,198.6 L1266.5,199.4 L1266.7,200.2 L1266.9,201.0 L1267.1,201.8 L1267.3,202.6 L1267.5,203.4 L1267.7,204.2 L1268.0,205.0 L1268.2,205.8 L1268.5,206.6 L1268.8,207.4 L1269.0,208.2 L1269.3,209.0 L1269.6,209.8 L1269.8,210.6 L1270.1,211.4 L1270.4,212.2 L1270.6,213.0 L1270.9,213.8 L1271.2,214.6 L1271.4,215.4 L1271.7,216.2 L1272.0,217.0 L1272.2,217.8 L1272.5,218.6 L1272.8,219.4 L1273.1,220.2 L1273.4,221.0 L1273.8,221.8 L1274.1,222.6 L1274.5,223.4 L1274.8,224.2 L1275.1,225.0 L1275.5,225.8 L1275.8,226.6 L1276.1,227.4 L1276.3,228.2 L1276.6,229.0 L1276.8,229.8 L1277.0,230.6 L1277.3,231.4 L1277.5,232.2 L1277.7,233.0 L1277.9,233.8 L1278.0,234.6 L1278.2,235.4 L1278.3,236.2 L1278.4,237.0 L1278.5,237.8 L1278.6,238.6 L1278.7,239.4 L1278.7,240.2 L1278.8,241.0 L1278.8,241.8 L1278.9,242.6 L1278.9,243.4 L1278.9,244.2 L1278.8,245.0 L1278.6,245.8 L1278.4,246.6 L1278.2,247.4 L1277.9,248.2 L1277.6,249.0 L1277.4,249.8 L1277.1,250.6 L1276.9,251.4 L1276.6,252.2 L1276.3,253.0 L1276.0,253.8 L1275.7,254.6 L1275.4,255.4 L1275.1,256.2 L1274.7,257.0 L1274.4,257.8 L1274.0,258.6 L1273.5,259.4 L1273.1,260.2 L1272.6,261.0 L1272.2,261.8 L1271.8,262.6 L1271.5,263.4 L1271.2,264.2 L1270.9,265.0 L1270.6,265.8 L1270.4,266.6 L1270.2,267.4 L1270.0,268.2 L1269.8,269.0 L1269.6,269.8 L1269.5,270.6 L1269.4,271.4 L1269.4,272.2 L1269.3,273.0 L1269.3,273.8 L1269.2,274.6 L1269.2,275.4 L1269.2,276.2 L1269.1,277.0 L1269.1,277.8 L1269.0,278.6 L1269.0,279.4 L1268.9,280.2 L1268.9,281.0 L1268.8,281.8 L1268.8,282.6 L1268.7,283.4 L1268.7,284.2 L1268.6,285.0 L1268.5,285.8 L1268.4,286.6 L1268.4,287.4 L1268.3,288.2 L1268.2,289.0 L1268.0,289.8 L1267.8,290.6 L1267.6,291.4 L1267.4,292.2 L1267.2,293.0 L1267.0,293.8 L1266.7,294.6 L1266.5,295.4 L1266.2,296.2 L1265.9,297.0 L1265.6,297.8 L1265.2,298.6 L1264.9,299.4 L1264.4,300.2 L1264.0,301.0 L1263.6,301.8 L1263.1,302.6 L1262.7,303.4 L1262.3,304.2 L1261.9,305.0 L1261.4,305.8 L1261.0,306.6 L1260.6,307.4 L1260.2,308.2 L1259.7,309.0 L1259.3,309.8 L1258.9,310.6 L1258.5,311.4 L1258.1,312.2 L1257.8,313.0 L1257.5,313.8 L1257.2,314.6 L1256.9,315.4 L1256.6,316.2 L1256.3,317.0 L1256.0,317.8 L1255.8,318.6 L1255.6,319.4 L1255.4,320.2 L1255.2,321.0 L1255.0,321.8 L1254.9,322.6 L1254.8,323.4 L1254.7,324.2 L1254.6,325.0 L1254.5,325.8 L1254.5,326.6 L1254.4,327.4 L1254.3,328.2 L1254.3,329.0 L1254.2,329.8 L1254.1,330.6 L1254.0,331.4 L1254.0,332.2 L1254.0,333.0 L1254.0,333.8 L1254.0,334.6 L1254.0,335.4 L1254.0,336.2 L1254.0,337.0 L1254.0,337.8 L1254.0,337.9 L1252.5,337.9 L1252.5,337.8 L1252.5,337.0 L1252.5,336.2 L1252.5,335.4 L1252.5,334.6 L1252.5,333.8 L1252.5,333.0 L1252.5,332.2 L1252.5,331.4 L1252.4,330.6 L1252.3,329.8 L1252.2,329.0 L1252.2,328.2 L1252.1,327.4 L1252.0,326.6 L1251.9,325.8 L1251.9,325.0 L1251.8,324.2 L1251.7,323.4 L1251.6,322.6 L1251.5,321.8 L1251.3,321.0 L1251.1,320.2 L1250.9,319.4 L1250.7,318.6 L1250.5,317.8 L1250.2,317.0 L1249.9,316.2 L1249.6,315.4 L1249.3,314.6 L1249.0,313.8 L1248.7,313.0 L1248.4,312.2 L1248.0,311.4 L1247.6,310.6 L1247.2,309.8 L1246.8,309.0 L1246.3,308.2 L1245.9,307.4 L1245.5,306.6 L1245.0,305.8 L1244.6,305.0 L1244.2,304.2 L1243.8,303.4 L1243.4,302.6 L1242.9,301.8 L1242.5,301.0 L1242.1,300.2 L1241.6,299.4 L1241.3,298.6 L1240.9,297.8 L1240.6,297.0 L1240.3,296.2 L1240.0,295.4 L1239.8,294.6 L1239.5,293.8 L1239.3,293.0 L1239.1,292.2 L1238.8,291.4 L1238.7,290.6 L1238.5,289.8 L1238.3,289.0 L1238.2,288.2 L1238.1,287.4 L1238.0,286.6 L1238.0,285.8 L1237.9,285.0 L1237.8,284.2 L1237.8,283.4 L1237.7,282.6 L1237.7,281.8 L1237.6,281.0 L1237.6,280.2 L1237.5,279.4 L1237.5,278.6 L1237.4,277.8 L1237.4,277.0 L1237.3,276.2 L1237.3,275.4 L1237.3,274.6 L1237.2,273.8 L1237.2,273.0 L1237.1,272.2 L1237.1,271.4 L1237.0,270.6 L1236.9,269.8 L1236.7,269.0 L1236.5,268.2 L1236.3,267.4 L1236.1,266.6 L1235.9,265.8 L1235.6,265.0 L1235.3,264.2 L1235.0,263.4 L1234.7,262.6 L1234.3,261.8 L1233.9,261.0 L1233.4,260.2 L1233.0,259.4 L1232.5,258.6 L1232.1,257.8 L1231.8,257.0 L1231.4,256.2 L1231.1,255.4 L1230.8,254.6 L1230.5,253.8 L1230.2,253.0 L1229.9,252.2 L1229.6,251.4 L1229.4,250.6 L1229.1,249.8 L1228.9,249.0 L1228.6,248.2 L1228.3,247.4 L1228.1,246.6 L1227.9,245.8 L1227.7,245.0 L1227.6,244.2 L1227.6,243.4 L1227.6,242.6 L1227.7,241.8 L1227.7,241.0 L1227.8,240.2 L1227.8,239.4 L1227.9,238.6 L1228.0,237.8 L1228.1,237.0 L1228.2,236.2 L1228.3,235.4 L1228.5,234.6 L1228.6,233.8 L1228.8,233.0 L1229.0,232.2 L1229.2,231.4 L1229.5,230.6 L1229.7,229.8 L1229.9,229.0 L1230.2,228.2 L1230.4,227.4 L1230.7,226.6 L1231.0,225.8 L1231.3,225.0 L1231.7,224.2 L1232.0,223.4 L1232.4,222.6 L1232.7,221.8 L1233.1,221.0 L1233.4,220.2 L1233.7,219.4 L1234.0,218.6 L1234.3,217.8 L1234.5,217.0 L1234.8,216.2 L1235.1,215.4 L1235.3,214.6 L1235.6,213.8 L1235.9,213.0 L1236.1,212.2 L1236.4,211.4 L1236.7,210.6 L1236.9,209.8 L1237.2,209.0 L1237.5,208.2 L1237.7,207.4 L1238.0,206.6 L1238.3,205.8 L1238.5,205.0 L1238.8,204.2 L1239.0,203.4 L1239.2,202.6 L1239.4,201.8 L1239.6,201.0 L1239.8,200.2 L1240.0,199.4 L1240.2,198.6 L1240.3,197.8 L1240.5,197.0 L1240.7,196.2 L1240.9,195.4 L1241.1,194.6 L1241.3,193.8 L1241.6,193.0 L1241.9,192.2 L1242.2,191.4 L1242.5,190.6 L1242.9,189.8 L1243.2,189.0 L1243.5,188.2 L1243.9,187.4 L1244.2,186.6 L1244.6,185.8 L1244.9,185.0 L1245.2,184.2 L1245.5,183.4 L1245.8,182.6 L1246.2,181.8 L1246.5,181.0 L1246.8,180.2 L1247.1,179.4 L1247.4,178.6 L1247.8,177.8 L1248.1,177.0 L1248.4,176.2 L1248.8,175.4 L1249.2,174.6 L1249.5,173.8 L1249.9,173.0 L1250.3,172.2 L1250.6,171.4 L1250.9,170.6 L1251.2,169.8 L1251.4,169.0 L1251.6,168.2 L1251.7,167.4 L1251.8,166.6 L1251.9,165.8 L1252.0,165.0 L1252.0,164.2 L1252.1,163.4 L1252.2,162.6 L1252.2,161.8 L1252.3,161.0 L1252.4,160.2 L1252.4,159.4 L1252.5,158.6 L1252.5,157.8 L1252.5,157.0 L1252.5,156.2 L1252.5,155.4 L1252.5,154.6 L1252.5,153.8 L1252.5,153.0 L1252.5,152.2 L1252.5,151.4 L1252.5,150.6 L1252.5,149.8 L1252.5,149.0 L1252.5,148.2 L1252.5,147.4 L1252.5,146.6 L1252.5,145.8Z"/></clipPath>
<g fill="#fff" clip-path="url(#bc1)"><rect x="1245.6" y="187.22" width="15.4" height="2.31"/><rect x="1245.6" y="193.38" width="15.4" height="2.31"/><rect x="1245.6" y="201.07" width="15.4" height="2.31"/><rect x="1245.6" y="206.71" width="15.4" height="1.97"/><rect x="1245.6" y="216.96" width="15.4" height="1.97"/><rect x="1245.6" y="219.53" width="15.4" height="1.97"/><rect x="1245.6" y="222.61" width="15.4" height="1.63"/><rect x="1245.6" y="226.02" width="15.4" height="1.63"/><rect x="1245.6" y="231.15" width="15.4" height="2.65"/><rect x="1245.6" y="234.91" width="15.4" height="1.97"/><rect x="1245.6" y="242.95" width="15.4" height="2.99"/><rect x="1245.6" y="246.37" width="15.4" height="1.97"/><rect x="1245.6" y="249.27" width="15.4" height="2.31"/><rect x="1245.6" y="253.20" width="15.4" height="2.99"/><rect x="1245.6" y="264.83" width="15.4" height="1.97"/><rect x="1245.6" y="275.43" width="15.4" height="2.99"/><rect x="1245.6" y="279.70" width="15.4" height="1.97"/><rect x="1245.6" y="288.25" width="15.4" height="1.97"/><rect x="1245.6" y="292.35" width="15.4" height="4.36"/></g>
<line x1="1209.9" x2="1296.4" y1="244.4" y2="244.4" stroke="#000" stroke-width="3.9" stroke-linecap="round"/>
<g fill="#fff" clip-path="url(#bc1)"><rect x="1245.6" y="187.22" width="15.4" height="2.31"/><rect x="1245.6" y="193.38" width="15.4" height="2.31"/><rect x="1245.6" y="201.07" width="15.4" height="2.31"/><rect x="1245.6" y="206.71" width="15.4" height="1.97"/><rect x="1245.6" y="216.96" width="15.4" height="1.97"/><rect x="1245.6" y="219.53" width="15.4" height="1.97"/><rect x="1245.6" y="222.61" width="15.4" height="1.63"/><rect x="1245.6" y="226.02" width="15.4" height="1.63"/><rect x="1245.6" y="231.15" width="15.4" height="2.65"/><rect x="1245.6" y="234.91" width="15.4" height="1.97"/><rect x="1245.6" y="242.95" width="15.4" height="2.99"/><rect x="1245.6" y="246.37" width="15.4" height="1.97"/><rect x="1245.6" y="249.27" width="15.4" height="2.31"/><rect x="1245.6" y="253.20" width="15.4" height="2.99"/><rect x="1245.6" y="264.83" width="15.4" height="1.97"/><rect x="1245.6" y="275.43" width="15.4" height="2.99"/><rect x="1245.6" y="279.70" width="15.4" height="1.97"/><rect x="1245.6" y="288.25" width="15.4" height="1.97"/><rect x="1245.6" y="292.35" width="15.4" height="4.36"/></g>
<line x1="1421.9" x2="1421.9" y1="112.8" y2="328.5" stroke="#000" stroke-width="2.1" stroke-linecap="butt"/>
<line x1="1416.2" x2="1422.4" y1="133.6" y2="133.6" stroke="#000" stroke-width="2.1"/>
<line x1="1416.2" x2="1422.4" y1="197.7" y2="197.7" stroke="#000" stroke-width="2.1"/>
<line x1="1416.2" x2="1422.4" y1="262.6" y2="262.6" stroke="#000" stroke-width="2.1"/>
<line x1="1416.2" x2="1422.4" y1="327.5" y2="327.5" stroke="#000" stroke-width="2.1"/>
<text x="1410.3" y="131.6" font-size="28.6" text-anchor="middle" fill="#000" transform="rotate(-90 1410.3 131.6)" textLength="32.1" lengthAdjust="spacingAndGlyphs">3.0</text>
<text x="1410.3" y="194.5" font-size="28.6" text-anchor="middle" fill="#000" transform="rotate(-90 1410.3 194.5)" textLength="31.5" lengthAdjust="spacingAndGlyphs">2.0</text>
<text x="1410.3" y="259.0" font-size="28.6" text-anchor="middle" fill="#000" transform="rotate(-90 1410.3 259.0)" textLength="30.7" lengthAdjust="spacingAndGlyphs">1.0</text>
<text x="1410.3" y="324.4" font-size="28.6" text-anchor="middle" fill="#000" transform="rotate(-90 1410.3 324.4)" textLength="31.5" lengthAdjust="spacingAndGlyphs">0.5</text>
<text x="1372.9" y="209.2" font-size="36" text-anchor="middle" fill="#000" transform="rotate(-90 1372.9 209.2)" textLength="153.2" lengthAdjust="spacingAndGlyphs">Glutamate</text>
<text x="1531.5" y="100.5" font-size="30" text-anchor="middle" textLength="126.5" lengthAdjust="spacingAndGlyphs"><tspan font-style="italic">P</tspan> = 0.003</text>
<path d="M1475.9,185.1 L1475.9,185.9 L1476.0,186.7 L1476.0,187.5 L1476.1,188.3 L1476.2,189.1 L1476.3,189.9 L1476.5,190.7 L1476.6,191.5 L1476.8,192.3 L1476.9,193.1 L1477.1,193.9 L1477.4,194.7 L1477.7,195.5 L1478.0,196.3 L1478.4,197.1 L1478.8,197.9 L1479.2,198.7 L1479.6,199.5 L1480.0,200.3 L1480.3,201.1 L1480.7,201.9 L1481.2,202.7 L1481.6,203.5 L1482.1,204.3 L1482.6,205.1 L1483.0,205.9 L1483.4,206.7 L1483.6,207.5 L1483.8,208.3 L1483.8,209.1 L1483.8,209.9 L1483.6,210.7 L1483.3,211.5 L1483.0,212.3 L1482.6,213.1 L1482.2,213.9 L1481.8,214.7 L1481.4,215.5 L1481.1,216.3 L1480.8,217.1 L1480.5,217.9 L1480.1,218.7 L1479.8,219.5 L1479.4,220.3 L1479.1,221.1 L1478.8,221.9 L1478.6,222.7 L1478.4,223.5 L1478.3,224.3 L1478.3,225.1 L1478.4,225.9 L1478.6,226.7 L1478.9,227.5 L1479.3,228.3 L1479.7,229.1 L1480.1,229.9 L1480.6,230.7 L1481.1,231.5 L1481.6,232.3 L1482.1,233.1 L1482.6,233.9 L1483.3,234.7 L1483.9,235.5 L1484.6,236.3 L1485.4,237.1 L1486.2,237.9 L1486.9,238.7 L1487.7,239.5 L1488.5,240.3 L1489.2,241.1 L1490.0,241.9 L1490.8,242.7 L1491.6,243.5 L1492.4,244.3 L1493.3,245.1 L1494.1,245.9 L1494.9,246.7 L1495.7,247.5 L1496.5,248.3 L1497.2,249.1 L1498.0,249.9 L1498.8,250.7 L1499.6,251.5 L1500.4,252.3 L1501.2,253.1 L1501.9,253.9 L1502.6,254.7 L1503.1,255.5 L1503.6,256.3 L1504.0,257.1 L1504.3,257.9 L1504.7,258.7 L1505.0,259.5 L1505.3,260.3 L1505.6,261.1 L1505.9,261.9 L1506.1,262.7 L1506.3,263.5 L1506.4,264.3 L1506.5,265.1 L1506.5,265.9 L1506.4,266.7 L1506.2,267.5 L1506.1,268.3 L1505.8,269.1 L1505.6,269.9 L1505.3,270.7 L1505.0,271.5 L1504.7,272.3 L1504.4,273.1 L1504.0,273.9 L1503.6,274.7 L1503.1,275.5 L1502.6,276.3 L1502.0,277.1 L1501.4,277.9 L1500.9,278.7 L1500.3,279.5 L1499.7,280.3 L1499.2,281.1 L1498.6,281.9 L1498.0,282.7 L1497.4,283.5 L1496.8,284.3 L1496.2,285.1 L1495.6,285.9 L1495.0,286.7 L1494.4,287.5 L1493.8,288.3 L1493.1,289.1 L1492.5,289.9 L1491.8,290.7 L1491.2,291.5 L1490.5,292.3 L1489.9,293.1 L1489.3,293.9 L1488.7,294.7 L1488.2,295.5 L1487.8,296.3 L1487.4,297.1 L1486.9,297.9 L1486.5,298.7 L1486.1,299.5 L1485.8,300.3 L1485.5,301.1 L1485.2,301.9 L1485.0,302.7 L1484.9,303.5 L1484.8,304.3 L1484.8,305.1 L1484.8,305.9 L1484.8,306.7 L1484.8,307.5 L1484.8,308.3 L1484.8,309.1 L1484.8,309.9 L1484.8,310.7 L1484.6,311.5 L1484.2,312.3 L1483.7,313.1 L1483.2,313.9 L1482.7,314.7 L1482.2,315.5 L1481.7,316.3 L1481.3,317.1 L1480.8,317.9 L1480.3,318.7 L1479.7,319.5 L1479.2,320.3 L1478.8,321.1 L1478.3,321.9 L1477.9,322.7 L1477.6,323.5 L1477.4,324.3 L1477.2,325.1 L1477.0,325.9 L1476.8,326.7 L1476.7,327.5 L1476.5,328.3 L1476.4,329.1 L1476.2,329.9 L1476.1,330.7 L1476.0,331.5 L1476.0,332.3 L1475.9,333.1 L1475.9,333.9 L1475.9,333.9 L1475.9,333.9 L1475.9,333.9 L1475.9,333.1 L1475.9,332.3 L1475.8,331.5 L1475.7,330.7 L1475.6,329.9 L1475.5,329.1 L1475.3,328.3 L1475.2,327.5 L1475.0,326.7 L1474.8,325.9 L1474.6,325.1 L1474.4,324.3 L1474.2,323.5 L1473.9,322.7 L1473.5,321.9 L1473.1,321.1 L1472.6,320.3 L1472.1,319.5 L1471.6,318.7 L1471.0,317.9 L1470.6,317.1 L1470.1,316.3 L1469.7,315.5 L1469.1,314.7 L1468.6,313.9 L1468.1,313.1 L1467.6,312.3 L1467.3,311.5 L1467.0,310.7 L1467.0,309.9 L1467.0,309.1 L1467.0,308.3 L1467.0,307.5 L1467.0,306.7 L1467.0,305.9 L1467.0,305.1 L1467.0,304.3 L1467.0,303.5 L1466.8,302.7 L1466.6,301.9 L1466.4,301.1 L1466.0,300.3 L1465.7,299.5 L1465.3,298.7 L1464.9,297.9 L1464.5,297.1 L1464.1,296.3 L1463.6,295.5 L1463.1,294.7 L1462.6,293.9 L1462.0,293.1 L1461.3,292.3 L1460.7,291.5 L1460.0,290.7 L1459.3,289.9 L1458.7,289.1 L1458.1,288.3 L1457.5,287.5 L1456.9,286.7 L1456.2,285.9 L1455.6,285.1 L1455.0,284.3 L1454.4,283.5 L1453.8,282.7 L1453.2,281.9 L1452.6,281.1 L1452.1,280.3 L1451.5,279.5 L1450.9,278.7 L1450.4,277.9 L1449.8,277.1 L1449.3,276.3 L1448.7,275.5 L1448.2,274.7 L1447.8,273.9 L1447.4,273.1 L1447.1,272.3 L1446.8,271.5 L1446.5,270.7 L1446.2,269.9 L1446.0,269.1 L1445.8,268.3 L1445.6,267.5 L1445.4,266.7 L1445.4,265.9 L1445.4,265.1 L1445.4,264.3 L1445.5,263.5 L1445.7,262.7 L1445.9,261.9 L1446.2,261.1 L1446.5,260.3 L1446.8,259.5 L1447.1,258.7 L1447.5,257.9 L1447.9,257.1 L1448.2,256.3 L1448.7,255.5 L1449.3,254.7 L1449.9,253.9 L1450.6,253.1 L1451.4,252.3 L1452.2,251.5 L1453.0,250.7 L1453.8,249.9 L1454.6,249.1 L1455.4,248.3 L1456.1,247.5 L1456.9,246.7 L1457.7,245.9 L1458.6,245.1 L1459.4,244.3 L1460.2,243.5 L1461.0,242.7 L1461.8,241.9 L1462.6,241.1 L1463.4,240.3 L1464.1,239.5 L1464.9,238.7 L1465.7,237.9 L1466.4,237.1 L1467.2,236.3 L1467.9,235.5 L1468.6,234.7 L1469.2,233.9 L1469.7,233.1 L1470.2,232.3 L1470.7,231.5 L1471.2,230.7 L1471.7,229.9 L1472.1,229.1 L1472.6,228.3 L1472.9,227.5 L1473.2,226.7 L1473.4,225.9 L1473.5,225.1 L1473.5,224.3 L1473.4,223.5 L1473.2,222.7 L1473.0,221.9 L1472.7,221.1 L1472.4,220.3 L1472.0,219.5 L1471.7,218.7 L1471.4,217.9 L1471.0,217.1 L1470.7,216.3 L1470.4,215.5 L1470.0,214.7 L1469.6,213.9 L1469.2,213.1 L1468.9,212.3 L1468.5,211.5 L1468.3,210.7 L1468.1,209.9 L1468.0,209.1 L1468.0,208.3 L1468.2,207.5 L1468.5,206.7 L1468.8,205.9 L1469.2,205.1 L1469.7,204.3 L1470.2,203.5 L1470.7,202.7 L1471.1,201.9 L1471.5,201.1 L1471.9,200.3 L1472.2,199.5 L1472.6,198.7 L1473.0,197.9 L1473.4,197.1 L1473.8,196.3 L1474.2,195.5 L1474.5,194.7 L1474.7,193.9 L1474.9,193.1 L1475.1,192.3 L1475.2,191.5 L1475.4,190.7 L1475.5,189.9 L1475.6,189.1 L1475.7,188.3 L1475.8,187.5 L1475.9,186.7 L1475.9,185.9 L1475.9,185.1Z" fill="#d9d9d9" stroke="#000" stroke-width="2.1" stroke-linejoin="round"/>
<g fill="#000"><rect x="1468.0" y="208.88" width="15.9" height="1.99"/><rect x="1468.0" y="239.64" width="15.9" height="1.99"/><rect x="1468.0" y="250.95" width="15.9" height="2.39"/><rect x="1468.0" y="256.31" width="15.9" height="2.39"/><rect x="1468.0" y="265.93" width="15.9" height="2.98"/><rect x="1468.0" y="274.66" width="15.9" height="3.38"/><rect x="1468.0" y="284.08" width="15.9" height="2.39"/><rect x="1468.0" y="292.71" width="15.9" height="2.19"/><rect x="1468.0" y="309.08" width="15.9" height="1.99"/></g>
<line x1="1429.9" x2="1522.9" y1="266.4" y2="266.4" stroke="#000" stroke-width="3.9" stroke-linecap="round"/>
<path d="M1569.7,120.6 L1569.7,121.4 L1569.7,122.2 L1569.7,123.0 L1569.7,123.8 L1569.8,124.6 L1570.0,125.4 L1570.2,126.2 L1570.4,127.0 L1570.6,127.8 L1570.8,128.6 L1571.0,129.4 L1571.2,130.2 L1571.4,131.0 L1571.6,131.8 L1571.8,132.6 L1572.0,133.4 L1572.2,134.2 L1572.5,135.0 L1572.7,135.8 L1572.9,136.6 L1573.2,137.4 L1573.4,138.2 L1573.7,139.0 L1574.0,139.8 L1574.3,140.6 L1574.6,141.4 L1574.9,142.2 L1575.2,143.0 L1575.5,143.8 L1575.8,144.6 L1576.1,145.4 L1576.4,146.2 L1576.6,147.0 L1576.8,147.8 L1577.1,148.6 L1577.3,149.4 L1577.5,150.2 L1577.7,151.0 L1577.8,151.8 L1578.0,152.6 L1578.1,153.4 L1578.2,154.2 L1578.3,155.0 L1578.4,155.8 L1578.4,156.6 L1578.5,157.4 L1578.4,158.2 L1578.4,159.0 L1578.3,159.8 L1578.2,160.6 L1578.1,161.4 L1578.0,162.2 L1577.9,163.0 L1577.7,163.8 L1577.4,164.6 L1577.1,165.4 L1576.8,166.2 L1576.4,167.0 L1576.0,167.8 L1575.7,168.6 L1575.3,169.4 L1575.0,170.2 L1574.6,171.0 L1574.2,171.8 L1573.8,172.6 L1573.4,173.4 L1573.1,174.2 L1572.7,175.0 L1572.5,175.8 L1572.2,176.6 L1572.0,177.4 L1571.7,178.2 L1571.6,179.0 L1571.4,179.8 L1571.4,180.6 L1571.4,181.4 L1571.4,182.2 L1571.4,183.0 L1571.4,183.8 L1571.4,184.6 L1571.4,185.4 L1571.5,186.2 L1571.7,187.0 L1572.1,187.8 L1572.5,188.6 L1573.0,189.4 L1573.4,190.2 L1573.9,191.0 L1574.4,191.8 L1575.0,192.6 L1575.6,193.4 L1576.3,194.2 L1576.9,195.0 L1577.5,195.8 L1578.1,196.6 L1578.8,197.4 L1579.4,198.2 L1580.1,199.0 L1580.8,199.8 L1581.6,200.6 L1582.5,201.4 L1583.4,202.2 L1584.3,203.0 L1585.3,203.8 L1586.3,204.6 L1587.3,205.4 L1588.3,206.2 L1589.3,207.0 L1590.4,207.8 L1591.5,208.6 L1592.6,209.4 L1593.7,210.2 L1594.9,211.0 L1596.2,211.8 L1597.5,212.6 L1598.7,213.4 L1599.9,214.2 L1600.9,215.0 L1601.9,215.8 L1602.8,216.6 L1603.7,217.4 L1604.5,218.2 L1605.2,219.0 L1605.8,219.8 L1606.3,220.6 L1606.8,221.4 L1607.0,222.2 L1606.9,223.0 L1606.6,223.8 L1606.0,224.6 L1605.3,225.4 L1604.5,226.2 L1603.7,227.0 L1602.7,227.8 L1601.5,228.6 L1600.2,229.4 L1598.8,230.2 L1597.5,231.0 L1596.3,231.8 L1595.0,232.6 L1593.8,233.4 L1592.5,234.2 L1591.3,235.0 L1590.2,235.8 L1589.2,236.6 L1588.2,237.4 L1587.3,238.2 L1586.5,239.0 L1585.7,239.8 L1585.0,240.6 L1584.5,241.4 L1584.0,242.2 L1583.5,243.0 L1583.2,243.8 L1582.8,244.6 L1582.4,245.4 L1582.1,246.2 L1581.7,247.0 L1581.3,247.8 L1581.0,248.6 L1580.6,249.4 L1580.2,250.2 L1579.9,251.0 L1579.5,251.8 L1579.2,252.6 L1578.8,253.4 L1578.5,254.2 L1578.1,255.0 L1577.8,255.8 L1577.4,256.6 L1577.1,257.4 L1576.8,258.2 L1576.5,259.0 L1576.2,259.8 L1575.8,260.6 L1575.5,261.4 L1575.2,262.2 L1574.9,263.0 L1574.6,263.8 L1574.4,264.6 L1574.2,265.4 L1574.2,266.2 L1574.1,267.0 L1574.0,267.8 L1574.0,268.6 L1573.9,269.4 L1573.9,270.2 L1573.9,271.0 L1573.9,271.8 L1573.9,272.6 L1573.9,273.4 L1573.9,274.2 L1574.0,275.0 L1574.2,275.8 L1574.3,276.6 L1574.4,277.4 L1574.5,278.2 L1574.7,279.0 L1574.8,279.8 L1574.9,280.6 L1575.1,281.4 L1575.3,282.2 L1575.4,283.0 L1575.6,283.8 L1575.7,284.6 L1575.8,285.4 L1575.9,286.2 L1576.0,287.0 L1576.1,287.8 L1576.1,288.6 L1576.2,289.4 L1576.3,290.2 L1576.3,291.0 L1576.3,291.8 L1576.3,292.6 L1576.3,293.4 L1576.1,294.2 L1576.0,295.0 L1575.8,295.8 L1575.6,296.6 L1575.4,297.4 L1575.2,298.2 L1574.8,299.0 L1574.5,299.8 L1574.1,300.6 L1573.8,301.4 L1573.5,302.2 L1573.2,303.0 L1572.9,303.8 L1572.6,304.6 L1572.4,305.4 L1572.1,306.2 L1571.9,307.0 L1571.6,307.8 L1571.4,308.6 L1571.2,309.4 L1571.0,310.2 L1570.8,311.0 L1570.6,311.8 L1570.5,312.6 L1570.3,313.4 L1570.1,314.2 L1570.0,315.0 L1569.8,315.8 L1569.7,316.6 L1569.7,317.4 L1569.7,318.2 L1569.7,319.0 L1569.7,319.8 L1568.2,319.8 L1568.2,319.0 L1568.2,318.2 L1568.2,317.4 L1568.2,316.6 L1568.1,315.8 L1567.9,315.0 L1567.7,314.2 L1567.6,313.4 L1567.4,312.6 L1567.2,311.8 L1567.0,311.0 L1566.9,310.2 L1566.7,309.4 L1566.5,308.6 L1566.2,307.8 L1566.0,307.0 L1565.8,306.2 L1565.5,305.4 L1565.2,304.6 L1565.0,303.8 L1564.7,303.0 L1564.4,302.2 L1564.1,301.4 L1563.7,300.6 L1563.4,299.8 L1563.0,299.0 L1562.7,298.2 L1562.4,297.4 L1562.2,296.6 L1562.1,295.8 L1561.9,295.0 L1561.7,294.2 L1561.6,293.4 L1561.6,292.6 L1561.5,291.8 L1561.6,291.0 L1561.6,290.2 L1561.7,289.4 L1561.7,288.6 L1561.8,287.8 L1561.9,287.0 L1562.0,286.2 L1562.1,285.4 L1562.2,284.6 L1562.3,283.8 L1562.4,283.0 L1562.6,282.2 L1562.8,281.4 L1562.9,280.6 L1563.1,279.8 L1563.2,279.0 L1563.3,278.2 L1563.5,277.4 L1563.6,276.6 L1563.7,275.8 L1563.8,275.0 L1563.9,274.2 L1564.0,273.4 L1564.0,272.6 L1564.0,271.8 L1564.0,271.0 L1564.0,270.2 L1563.9,269.4 L1563.9,268.6 L1563.8,267.8 L1563.8,267.0 L1563.7,266.2 L1563.6,265.4 L1563.5,264.6 L1563.2,263.8 L1563.0,263.0 L1562.7,262.2 L1562.4,261.4 L1562.0,260.6 L1561.7,259.8 L1561.4,259.0 L1561.1,258.2 L1560.8,257.4 L1560.4,256.6 L1560.1,255.8 L1559.7,255.0 L1559.4,254.2 L1559.0,253.4 L1558.7,252.6 L1558.3,251.8 L1558.0,251.0 L1557.6,250.2 L1557.3,249.4 L1556.9,248.6 L1556.5,247.8 L1556.2,247.0 L1555.8,246.2 L1555.4,245.4 L1555.1,244.6 L1554.7,243.8 L1554.3,243.0 L1553.9,242.2 L1553.4,241.4 L1552.8,240.6 L1552.1,239.8 L1551.4,239.0 L1550.5,238.2 L1549.6,237.4 L1548.7,236.6 L1547.7,235.8 L1546.6,235.0 L1545.4,234.2 L1544.1,233.4 L1542.8,232.6 L1541.6,231.8 L1540.3,231.0 L1539.0,230.2 L1537.7,229.4 L1536.4,228.6 L1535.2,227.8 L1534.1,227.0 L1533.3,226.2 L1532.6,225.4 L1531.9,224.6 L1531.3,223.8 L1530.9,223.0 L1530.9,222.2 L1531.1,221.4 L1531.6,220.6 L1532.1,219.8 L1532.7,219.0 L1533.4,218.2 L1534.2,217.4 L1535.1,216.6 L1536.0,215.8 L1536.9,215.0 L1538.0,214.2 L1539.2,213.4 L1540.4,212.6 L1541.7,211.8 L1543.0,211.0 L1544.1,210.2 L1545.3,209.4 L1546.4,208.6 L1547.5,207.8 L1548.5,207.0 L1549.6,206.2 L1550.6,205.4 L1551.6,204.6 L1552.6,203.8 L1553.6,203.0 L1554.5,202.2 L1555.4,201.4 L1556.3,200.6 L1557.0,199.8 L1557.8,199.0 L1558.4,198.2 L1559.1,197.4 L1559.7,196.6 L1560.3,195.8 L1561.0,195.0 L1561.6,194.2 L1562.2,193.4 L1562.9,192.6 L1563.4,191.8 L1564.0,191.0 L1564.4,190.2 L1564.9,189.4 L1565.4,188.6 L1565.8,187.8 L1566.2,187.0 L1566.4,186.2 L1566.5,185.4 L1566.5,184.6 L1566.5,183.8 L1566.5,183.0 L1566.5,182.2 L1566.5,181.4 L1566.5,180.6 L1566.4,179.8 L1566.3,179.0 L1566.1,178.2 L1565.9,177.4 L1565.6,176.6 L1565.4,175.8 L1565.1,175.0 L1564.8,174.2 L1564.4,173.4 L1564.1,172.6 L1563.7,171.8 L1563.3,171.0 L1562.9,170.2 L1562.5,169.4 L1562.2,168.6 L1561.8,167.8 L1561.5,167.0 L1561.1,166.2 L1560.8,165.4 L1560.5,164.6 L1560.2,163.8 L1560.0,163.0 L1559.9,162.2 L1559.7,161.4 L1559.6,160.6 L1559.5,159.8 L1559.5,159.0 L1559.4,158.2 L1559.4,157.4 L1559.4,156.6 L1559.5,155.8 L1559.6,155.0 L1559.7,154.2 L1559.8,153.4 L1559.9,152.6 L1560.0,151.8 L1560.2,151.0 L1560.4,150.2 L1560.6,149.4 L1560.8,148.6 L1561.0,147.8 L1561.3,147.0 L1561.5,146.2 L1561.8,145.4 L1562.0,144.6 L1562.3,143.8 L1562.7,143.0 L1563.0,142.2 L1563.3,141.4 L1563.6,140.6 L1563.9,139.8 L1564.2,139.0 L1564.4,138.2 L1564.7,137.4 L1564.9,136.6 L1565.2,135.8 L1565.4,135.0 L1565.6,134.2 L1565.8,133.4 L1566.1,132.6 L1566.3,131.8 L1566.5,131.0 L1566.7,130.2 L1566.9,129.4 L1567.1,128.6 L1567.3,127.8 L1567.5,127.0 L1567.7,126.2 L1567.8,125.4 L1568.0,124.6 L1568.2,123.8 L1568.2,123.0 L1568.2,122.2 L1568.2,121.4 L1568.2,120.6Z" fill="#000" stroke="#000" stroke-width="0.5" stroke-linejoin="round"/>
<clipPath id="bc2"><path d="M1569.7,120.6 L1569.7,121.4 L1569.7,122.2 L1569.7,123.0 L1569.7,123.8 L1569.8,124.6 L1570.0,125.4 L1570.2,126.2 L1570.4,127.0 L1570.6,127.8 L1570.8,128.6 L1571.0,129.4 L1571.2,130.2 L1571.4,131.0 L1571.6,131.8 L1571.8,132.6 L1572.0,133.4 L1572.2,134.2 L1572.5,135.0 L1572.7,135.8 L1572.9,136.6 L1573.2,137.4 L1573.4,138.2 L1573.7,139.0 L1574.0,139.8 L1574.3,140.6 L1574.6,141.4 L1574.9,142.2 L1575.2,143.0 L1575.5,143.8 L1575.8,144.6 L1576.1,145.4 L1576.4,146.2 L1576.6,147.0 L1576.8,147.8 L1577.1,148.6 L1577.3,149.4 L1577.5,150.2 L1577.7,151.0 L1577.8,151.8 L1578.0,152.6 L1578.1,153.4 L1578.2,154.2 L1578.3,155.0 L1578.4,155.8 L1578.4,156.6 L1578.5,157.4 L1578.4,158.2 L1578.4,159.0 L1578.3,159.8 L1578.2,160.6 L1578.1,161.4 L1578.0,162.2 L1577.9,163.0 L1577.7,163.8 L1577.4,164.6 L1577.1,165.4 L1576.8,166.2 L1576.4,167.0 L1576.0,167.8 L1575.7,168.6 L1575.3,169.4 L1575.0,170.2 L1574.6,171.0 L1574.2,171.8 L1573.8,172.6 L1573.4,173.4 L1573.1,174.2 L1572.7,175.0 L1572.5,175.8 L1572.2,176.6 L1572.0,177.4 L1571.7,178.2 L1571.6,179.0 L1571.4,179.8 L1571.4,180.6 L1571.4,181.4 L1571.4,182.2 L1571.4,183.0 L1571.4,183.8 L1571.4,184.6 L1571.4,185.4 L1571.5,186.2 L1571.7,187.0 L1572.1,187.8 L1572.5,188.6 L1573.0,189.4 L1573.4,190.2 L1573.9,191.0 L1574.4,191.8 L1575.0,192.6 L1575.6,193.4 L1576.3,194.2 L1576.9,195.0 L1577.5,195.8 L1578.1,196.6 L1578.8,197.4 L1579.4,198.2 L1580.1,199.0 L1580.8,199.8 L1581.6,200.6 L1582.5,201.4 L1583.4,202.2 L1584.3,203.0 L1585.3,203.8 L1586.3,204.6 L1587.3,205.4 L1588.3,206.2 L1589.3,207.0 L1590.4,207.8 L1591.5,208.6 L1592.6,209.4 L1593.7,210.2 L1594.9,211.0 L1596.2,211.8 L1597.5,212.6 L1598.7,213.4 L1599.9,214.2 L1600.9,215.0 L1601.9,215.8 L1602.8,216.6 L1603.7,217.4 L1604.5,218.2 L1605.2,219.0 L1605.8,219.8 L1606.3,220.6 L1606.8,221.4 L1607.0,222.2 L1606.9,223.0 L1606.6,223.8 L1606.0,224.6 L1605.3,225.4 L1604.5,226.2 L1603.7,227.0 L1602.7,227.8 L1601.5,228.6 L1600.2,229.4 L1598.8,230.2 L1597.5,231.0 L1596.3,231.8 L1595.0,232.6 L1593.8,233.4 L1592.5,234.2 L1591.3,235.0 L1590.2,235.8 L1589.2,236.6 L1588.2,237.4 L1587.3,238.2 L1586.5,239.0 L1585.7,239.8 L1585.0,240.6 L1584.5,241.4 L1584.0,242.2 L1583.5,243.0 L1583.2,243.8 L1582.8,244.6 L1582.4,245.4 L1582.1,246.2 L1581.7,247.0 L1581.3,247.8 L1581.0,248.6 L1580.6,249.4 L1580.2,250.2 L1579.9,251.0 L1579.5,251.8 L1579.2,252.6 L1578.8,253.4 L1578.5,254.2 L1578.1,255.0 L1577.8,255.8 L1577.4,256.6 L1577.1,257.4 L1576.8,258.2 L1576.5,259.0 L1576.2,259.8 L1575.8,260.6 L1575.5,261.4 L1575.2,262.2 L1574.9,263.0 L1574.6,263.8 L1574.4,264.6 L1574.2,265.4 L1574.2,266.2 L1574.1,267.0 L1574.0,267.8 L1574.0,268.6 L1573.9,269.4 L1573.9,270.2 L1573.9,271.0 L1573.9,271.8 L1573.9,272.6 L1573.9,273.4 L1573.9,274.2 L1574.0,275.0 L1574.2,275.8 L1574.3,276.6 L1574.4,277.4 L1574.5,278.2 L1574.7,279.0 L1574.8,279.8 L1574.9,280.6 L1575.1,281.4 L1575.3,282.2 L1575.4,283.0 L1575.6,283.8 L1575.7,284.6 L1575.8,285.4 L1575.9,286.2 L1576.0,287.0 L1576.1,287.8 L1576.1,288.6 L1576.2,289.4 L1576.3,290.2 L1576.3,291.0 L1576.3,291.8 L1576.3,292.6 L1576.3,293.4 L1576.1,294.2 L1576.0,295.0 L1575.8,295.8 L1575.6,296.6 L1575.4,297.4 L1575.2,298.2 L1574.8,299.0 L1574.5,299.8 L1574.1,300.6 L1573.8,301.4 L1573.5,302.2 L1573.2,303.0 L1572.9,303.8 L1572.6,304.6 L1572.4,305.4 L1572.1,306.2 L1571.9,307.0 L1571.6,307.8 L1571.4,308.6 L1571.2,309.4 L1571.0,310.2 L1570.8,311.0 L1570.6,311.8 L1570.5,312.6 L1570.3,313.4 L1570.1,314.2 L1570.0,315.0 L1569.8,315.8 L1569.7,316.6 L1569.7,317.4 L1569.7,318.2 L1569.7,319.0 L1569.7,319.8 L1568.2,319.8 L1568.2,319.0 L1568.2,318.2 L1568.2,317.4 L1568.2,316.6 L1568.1,315.8 L1567.9,315.0 L1567.7,314.2 L1567.6,313.4 L1567.4,312.6 L1567.2,311.8 L1567.0,311.0 L1566.9,310.2 L1566.7,309.4 L1566.5,308.6 L1566.2,307.8 L1566.0,307.0 L1565.8,306.2 L1565.5,305.4 L1565.2,304.6 L1565.0,303.8 L1564.7,303.0 L1564.4,302.2 L1564.1,301.4 L1563.7,300.6 L1563.4,299.8 L1563.0,299.0 L1562.7,298.2 L1562.4,297.4 L1562.2,296.6 L1562.1,295.8 L1561.9,295.0 L1561.7,294.2 L1561.6,293.4 L1561.6,292.6 L1561.5,291.8 L1561.6,291.0 L1561.6,290.2 L1561.7,289.4 L1561.7,288.6 L1561.8,287.8 L1561.9,287.0 L1562.0,286.2 L1562.1,285.4 L1562.2,284.6 L1562.3,283.8 L1562.4,283.0 L1562.6,282.2 L1562.8,281.4 L1562.9,280.6 L1563.1,279.8 L1563.2,279.0 L1563.3,278.2 L1563.5,277.4 L1563.6,276.6 L1563.7,275.8 L1563.8,275.0 L1563.9,274.2 L1564.0,273.4 L1564.0,272.6 L1564.0,271.8 L1564.0,271.0 L1564.0,270.2 L1563.9,269.4 L1563.9,268.6 L1563.8,267.8 L1563.8,267.0 L1563.7,266.2 L1563.6,265.4 L1563.5,264.6 L1563.2,263.8 L1563.0,263.0 L1562.7,262.2 L1562.4,261.4 L1562.0,260.6 L1561.7,259.8 L1561.4,259.0 L1561.1,258.2 L1560.8,257.4 L1560.4,256.6 L1560.1,255.8 L1559.7,255.0 L1559.4,254.2 L1559.0,253.4 L1558.7,252.6 L1558.3,251.8 L1558.0,251.0 L1557.6,250.2 L1557.3,249.4 L1556.9,248.6 L1556.5,247.8 L1556.2,247.0 L1555.8,246.2 L1555.4,245.4 L1555.1,244.6 L1554.7,243.8 L1554.3,243.0 L1553.9,242.2 L1553.4,241.4 L1552.8,240.6 L1552.1,239.8 L1551.4,239.0 L1550.5,238.2 L1549.6,237.4 L1548.7,236.6 L1547.7,235.8 L1546.6,235.0 L1545.4,234.2 L1544.1,233.4 L1542.8,232.6 L1541.6,231.8 L1540.3,231.0 L1539.0,230.2 L1537.7,229.4 L1536.4,228.6 L1535.2,227.8 L1534.1,227.0 L1533.3,226.2 L1532.6,225.4 L1531.9,224.6 L1531.3,223.8 L1530.9,223.0 L1530.9,222.2 L1531.1,221.4 L1531.6,220.6 L1532.1,219.8 L1532.7,219.0 L1533.4,218.2 L1534.2,217.4 L1535.1,216.6 L1536.0,215.8 L1536.9,215.0 L1538.0,214.2 L1539.2,213.4 L1540.4,212.6 L1541.7,211.8 L1543.0,211.0 L1544.1,210.2 L1545.3,209.4 L1546.4,208.6 L1547.5,207.8 L1548.5,207.0 L1549.6,206.2 L1550.6,205.4 L1551.6,204.6 L1552.6,203.8 L1553.6,203.0 L1554.5,202.2 L1555.4,201.4 L1556.3,200.6 L1557.0,199.8 L1557.8,199.0 L1558.4,198.2 L1559.1,197.4 L1559.7,196.6 L1560.3,195.8 L1561.0,195.0 L1561.6,194.2 L1562.2,193.4 L1562.9,192.6 L1563.4,191.8 L1564.0,191.0 L1564.4,190.2 L1564.9,189.4 L1565.4,188.6 L1565.8,187.8 L1566.2,187.0 L1566.4,186.2 L1566.5,185.4 L1566.5,184.6 L1566.5,183.8 L1566.5,183.0 L1566.5,182.2 L1566.5,181.4 L1566.5,180.6 L1566.4,179.8 L1566.3,179.0 L1566.1,178.2 L1565.9,177.4 L1565.6,176.6 L1565.4,175.8 L1565.1,175.0 L1564.8,174.2 L1564.4,173.4 L1564.1,172.6 L1563.7,171.8 L1563.3,171.0 L1562.9,170.2 L1562.5,169.4 L1562.2,168.6 L1561.8,167.8 L1561.5,167.0 L1561.1,166.2 L1560.8,165.4 L1560.5,164.6 L1560.2,163.8 L1560.0,163.0 L1559.9,162.2 L1559.7,161.4 L1559.6,160.6 L1559.5,159.8 L1559.5,159.0 L1559.4,158.2 L1559.4,157.4 L1559.4,156.6 L1559.5,155.8 L1559.6,155.0 L1559.7,154.2 L1559.8,153.4 L1559.9,152.6 L1560.0,151.8 L1560.2,151.0 L1560.4,150.2 L1560.6,149.4 L1560.8,148.6 L1561.0,147.8 L1561.3,147.0 L1561.5,146.2 L1561.8,145.4 L1562.0,144.6 L1562.3,143.8 L1562.7,143.0 L1563.0,142.2 L1563.3,141.4 L1563.6,140.6 L1563.9,139.8 L1564.2,139.0 L1564.4,138.2 L1564.7,137.4 L1564.9,136.6 L1565.2,135.8 L1565.4,135.0 L1565.6,134.2 L1565.8,133.4 L1566.1,132.6 L1566.3,131.8 L1566.5,131.0 L1566.7,130.2 L1566.9,129.4 L1567.1,128.6 L1567.3,127.8 L1567.5,127.0 L1567.7,126.2 L1567.8,125.4 L1568.0,124.6 L1568.2,123.8 L1568.2,123.0 L1568.2,122.2 L1568.2,121.4 L1568.2,120.6Z"/></clipPath>
<g fill="#fff" clip-path="url(#bc2)"><rect x="1560.7" y="144.60" width="16.4" height="2.24"/><rect x="1560.7" y="154.13" width="16.4" height="2.57"/><rect x="1560.7" y="162.01" width="16.4" height="2.57"/><rect x="1560.7" y="198.62" width="16.4" height="4.87"/><rect x="1560.7" y="211.10" width="16.4" height="6.84"/><rect x="1560.7" y="218.49" width="16.4" height="15.38"/><rect x="1560.7" y="234.42" width="16.4" height="2.24"/><rect x="1560.7" y="239.68" width="16.4" height="3.23"/><rect x="1560.7" y="244.44" width="16.4" height="1.91"/><rect x="1560.7" y="249.36" width="16.4" height="5.20"/><rect x="1560.7" y="272.35" width="16.4" height="1.91"/><rect x="1560.7" y="290.91" width="16.4" height="1.91"/><rect x="1560.7" y="293.86" width="16.4" height="1.59"/></g>
<line x1="1522.6" x2="1615.4" y1="222.2" y2="222.2" stroke="#000" stroke-width="3.9" stroke-linecap="round"/>
<g fill="#fff" clip-path="url(#bc2)"><rect x="1560.7" y="144.60" width="16.4" height="2.24"/><rect x="1560.7" y="154.13" width="16.4" height="2.57"/><rect x="1560.7" y="162.01" width="16.4" height="2.57"/><rect x="1560.7" y="198.62" width="16.4" height="4.87"/><rect x="1560.7" y="211.10" width="16.4" height="6.84"/><rect x="1560.7" y="218.49" width="16.4" height="15.38"/><rect x="1560.7" y="234.42" width="16.4" height="2.24"/><rect x="1560.7" y="239.68" width="16.4" height="3.23"/><rect x="1560.7" y="244.44" width="16.4" height="1.91"/><rect x="1560.7" y="249.36" width="16.4" height="5.20"/><rect x="1560.7" y="272.35" width="16.4" height="1.91"/><rect x="1560.7" y="290.91" width="16.4" height="1.91"/><rect x="1560.7" y="293.86" width="16.4" height="1.59"/></g>
<line x1="1117.2" x2="1117.2" y1="432.8" y2="660.3" stroke="#000" stroke-width="2.1" stroke-linecap="butt"/>
<line x1="1111.5" x2="1117.7" y1="457.7" y2="457.7" stroke="#000" stroke-width="2.1"/>
<line x1="1111.5" x2="1117.7" y1="511.6" y2="511.6" stroke="#000" stroke-width="2.1"/>
<line x1="1111.5" x2="1117.7" y1="586.4" y2="586.4" stroke="#000" stroke-width="2.1"/>
<line x1="1111.5" x2="1117.7" y1="659.3" y2="659.3" stroke="#000" stroke-width="2.1"/>
<text x="1106.2" y="454.7" font-size="28.6" text-anchor="middle" fill="#000" transform="rotate(-90 1106.2 454.7)" textLength="32.4" lengthAdjust="spacingAndGlyphs">2.0</text>
<text x="1106.2" y="506.3" font-size="28.6" text-anchor="middle" fill="#000" transform="rotate(-90 1106.2 506.3)" textLength="34.2" lengthAdjust="spacingAndGlyphs">1.5</text>
<text x="1106.2" y="582.8" font-size="28.6" text-anchor="middle" fill="#000" transform="rotate(-90 1106.2 582.8)" textLength="32.4" lengthAdjust="spacingAndGlyphs">1.0</text>
<text x="1106.2" y="653.1" font-size="28.6" text-anchor="middle" fill="#000" transform="rotate(-90 1106.2 653.1)" textLength="32.4" lengthAdjust="spacingAndGlyphs">0.5</text>
<text x="1073.6" y="542.6" font-size="36" text-anchor="middle" fill="#000" transform="rotate(-90 1073.6 542.6)" textLength="215.8" lengthAdjust="spacingAndGlyphs">SDMA+ADMA</text>
<text x="1214.4" y="415.7" font-size="30" text-anchor="middle" textLength="126.5" lengthAdjust="spacingAndGlyphs"><tspan font-style="italic">P</tspan> = 0.009</text>
<path d="M1171.6,529.5 L1171.6,530.3 L1171.7,531.1 L1171.8,531.9 L1171.8,532.7 L1172.0,533.5 L1172.1,534.3 L1172.3,535.1 L1172.5,535.9 L1172.7,536.7 L1172.9,537.5 L1173.1,538.3 L1173.3,539.1 L1173.6,539.9 L1174.1,540.7 L1174.6,541.5 L1175.2,542.3 L1175.8,543.1 L1176.5,543.9 L1177.3,544.7 L1178.1,545.5 L1178.9,546.3 L1179.7,547.1 L1180.5,547.9 L1181.3,548.7 L1182.3,549.5 L1183.3,550.3 L1184.3,551.1 L1185.4,551.9 L1186.4,552.7 L1187.5,553.5 L1188.6,554.3 L1189.6,555.1 L1190.6,555.9 L1191.5,556.7 L1192.5,557.5 L1193.5,558.3 L1194.4,559.1 L1195.4,559.9 L1196.3,560.7 L1197.2,561.5 L1198.1,562.3 L1198.9,563.1 L1199.7,563.9 L1200.4,564.7 L1201.2,565.5 L1201.9,566.3 L1202.6,567.1 L1203.3,567.9 L1203.9,568.7 L1204.5,569.5 L1205.1,570.3 L1205.6,571.1 L1206.1,571.9 L1206.5,572.7 L1206.8,573.5 L1207.2,574.3 L1207.5,575.1 L1207.8,575.9 L1208.1,576.7 L1208.4,577.5 L1208.7,578.3 L1208.9,579.1 L1209.1,579.9 L1209.2,580.7 L1209.3,581.5 L1209.3,582.3 L1209.3,583.1 L1209.2,583.9 L1209.0,584.7 L1208.7,585.5 L1208.4,586.3 L1208.0,587.1 L1207.6,587.9 L1207.2,588.7 L1206.8,589.5 L1206.4,590.3 L1205.9,591.1 L1205.4,591.9 L1204.9,592.7 L1204.3,593.5 L1203.6,594.3 L1203.0,595.1 L1202.3,595.9 L1201.6,596.7 L1201.0,597.5 L1200.3,598.3 L1199.7,599.1 L1199.0,599.9 L1198.3,600.7 L1197.6,601.5 L1196.9,602.3 L1196.2,603.1 L1195.5,603.9 L1194.8,604.7 L1194.0,605.5 L1193.3,606.3 L1192.6,607.1 L1191.9,607.9 L1191.2,608.7 L1190.5,609.5 L1189.8,610.3 L1189.1,611.1 L1188.3,611.9 L1187.6,612.7 L1186.9,613.5 L1186.3,614.3 L1185.6,615.1 L1185.0,615.9 L1184.3,616.7 L1183.7,617.5 L1183.1,618.3 L1182.4,619.1 L1181.8,619.9 L1181.2,620.7 L1180.6,621.5 L1180.1,622.3 L1179.5,623.1 L1179.0,623.9 L1178.5,624.7 L1177.9,625.5 L1177.4,626.3 L1176.9,627.1 L1176.4,627.9 L1175.9,628.7 L1175.4,629.5 L1175.0,630.3 L1174.6,631.1 L1174.3,631.9 L1174.0,632.7 L1173.8,633.5 L1173.6,634.3 L1173.3,635.1 L1173.1,635.9 L1173.0,636.7 L1172.8,637.5 L1172.6,638.3 L1172.5,639.1 L1172.4,639.9 L1172.3,640.7 L1172.2,641.5 L1172.1,642.3 L1172.0,643.1 L1171.9,643.9 L1171.8,644.7 L1171.8,645.5 L1171.7,646.3 L1171.7,647.1 L1171.6,647.9 L1171.6,648.2 L1171.6,648.2 L1171.6,647.9 L1171.6,647.1 L1171.5,646.3 L1171.5,645.5 L1171.4,644.7 L1171.3,643.9 L1171.2,643.1 L1171.2,642.3 L1171.1,641.5 L1171.0,640.7 L1170.9,639.9 L1170.7,639.1 L1170.6,638.3 L1170.4,637.5 L1170.3,636.7 L1170.1,635.9 L1169.9,635.1 L1169.7,634.3 L1169.4,633.5 L1169.2,632.7 L1168.9,631.9 L1168.6,631.1 L1168.2,630.3 L1167.8,629.5 L1167.4,628.7 L1166.9,627.9 L1166.4,627.1 L1165.8,626.3 L1165.3,625.5 L1164.8,624.7 L1164.2,623.9 L1163.7,623.1 L1163.2,622.3 L1162.6,621.5 L1162.0,620.7 L1161.4,619.9 L1160.8,619.1 L1160.2,618.3 L1159.5,617.5 L1158.9,616.7 L1158.3,615.9 L1157.6,615.1 L1157.0,614.3 L1156.3,613.5 L1155.6,612.7 L1154.9,611.9 L1154.2,611.1 L1153.5,610.3 L1152.7,609.5 L1152.0,608.7 L1151.3,607.9 L1150.6,607.1 L1149.9,606.3 L1149.2,605.5 L1148.5,604.7 L1147.8,603.9 L1147.0,603.1 L1146.3,602.3 L1145.6,601.5 L1144.9,600.7 L1144.2,599.9 L1143.6,599.1 L1142.9,598.3 L1142.3,597.5 L1141.6,596.7 L1140.9,595.9 L1140.2,595.1 L1139.6,594.3 L1139.0,593.5 L1138.4,592.7 L1137.8,591.9 L1137.3,591.1 L1136.8,590.3 L1136.4,589.5 L1136.0,588.7 L1135.6,587.9 L1135.2,587.1 L1134.8,586.3 L1134.5,585.5 L1134.2,584.7 L1134.0,583.9 L1133.9,583.1 L1133.9,582.3 L1133.9,581.5 L1134.0,580.7 L1134.2,579.9 L1134.4,579.1 L1134.6,578.3 L1134.8,577.5 L1135.1,576.7 L1135.4,575.9 L1135.7,575.1 L1136.1,574.3 L1136.4,573.5 L1136.7,572.7 L1137.1,571.9 L1137.6,571.1 L1138.1,570.3 L1138.7,569.5 L1139.3,568.7 L1140.0,567.9 L1140.7,567.1 L1141.4,566.3 L1142.1,565.5 L1142.8,564.7 L1143.5,563.9 L1144.3,563.1 L1145.2,562.3 L1146.0,561.5 L1146.9,560.7 L1147.9,559.9 L1148.8,559.1 L1149.8,558.3 L1150.7,557.5 L1151.7,556.7 L1152.7,555.9 L1153.6,555.1 L1154.7,554.3 L1155.7,553.5 L1156.8,552.7 L1157.9,551.9 L1158.9,551.1 L1160.0,550.3 L1161.0,549.5 L1161.9,548.7 L1162.8,547.9 L1163.5,547.1 L1164.3,546.3 L1165.1,545.5 L1165.9,544.7 L1166.7,543.9 L1167.4,543.1 L1168.1,542.3 L1168.7,541.5 L1169.2,540.7 L1169.6,539.9 L1169.9,539.1 L1170.1,538.3 L1170.4,537.5 L1170.6,536.7 L1170.8,535.9 L1170.9,535.1 L1171.1,534.3 L1171.3,533.5 L1171.4,532.7 L1171.5,531.9 L1171.6,531.1 L1171.6,530.3 L1171.6,529.5Z" fill="#d9d9d9" stroke="#000" stroke-width="2.1" stroke-linejoin="round"/>
<g fill="#000"><rect x="1163.8" y="562.24" width="15.7" height="2.27"/><rect x="1163.8" y="565.64" width="15.7" height="2.70"/><rect x="1163.8" y="572.84" width="15.7" height="2.27"/><rect x="1163.8" y="580.26" width="15.7" height="2.27"/><rect x="1163.8" y="596.16" width="15.7" height="2.27"/><rect x="1163.8" y="601.46" width="15.7" height="2.27"/><rect x="1163.8" y="609.73" width="15.7" height="2.70"/><rect x="1163.8" y="612.28" width="15.7" height="3.12"/></g>
<line x1="1125.9" x2="1217.1" y1="586.7" y2="586.7" stroke="#000" stroke-width="3.9" stroke-linecap="round"/>
<path d="M1264.6,436.2 L1264.6,437.0 L1264.6,437.8 L1264.6,438.6 L1264.6,439.4 L1264.6,440.2 L1264.6,441.0 L1264.6,441.8 L1264.6,442.6 L1264.6,443.4 L1264.6,444.2 L1264.6,445.0 L1264.7,445.8 L1264.8,446.6 L1264.8,447.4 L1264.9,448.2 L1265.0,449.0 L1265.1,449.8 L1265.2,450.6 L1265.2,451.4 L1265.3,452.2 L1265.4,453.0 L1265.5,453.8 L1265.6,454.6 L1265.7,455.4 L1265.8,456.2 L1265.9,457.0 L1266.0,457.8 L1266.1,458.6 L1266.2,459.4 L1266.3,460.2 L1266.4,461.0 L1266.5,461.8 L1266.6,462.6 L1266.7,463.4 L1266.7,464.2 L1266.8,465.0 L1266.9,465.8 L1267.0,466.6 L1267.0,467.4 L1267.1,468.2 L1267.2,469.0 L1267.2,469.8 L1267.3,470.6 L1267.3,471.4 L1267.4,472.2 L1267.5,473.0 L1267.5,473.8 L1267.6,474.6 L1267.6,475.4 L1267.7,476.2 L1267.8,477.0 L1267.8,477.8 L1267.9,478.6 L1268.0,479.4 L1268.0,480.2 L1268.1,481.0 L1268.2,481.8 L1268.2,482.6 L1268.3,483.4 L1268.4,484.2 L1268.4,485.0 L1268.5,485.8 L1268.5,486.6 L1268.6,487.4 L1268.7,488.2 L1268.7,489.0 L1268.8,489.8 L1268.9,490.6 L1268.9,491.4 L1269.0,492.2 L1269.1,493.0 L1269.1,493.8 L1269.2,494.6 L1269.2,495.4 L1269.3,496.2 L1269.4,497.0 L1269.4,497.8 L1269.5,498.6 L1269.6,499.4 L1269.7,500.2 L1269.7,501.0 L1269.8,501.8 L1269.9,502.6 L1269.9,503.4 L1270.0,504.2 L1270.1,505.0 L1270.1,505.8 L1270.2,506.6 L1270.2,507.4 L1270.2,508.2 L1270.3,509.0 L1270.3,509.8 L1270.3,510.6 L1270.4,511.4 L1270.4,512.2 L1270.4,513.0 L1270.4,513.8 L1270.5,514.6 L1270.5,515.4 L1270.5,516.2 L1270.6,517.0 L1270.6,517.8 L1270.7,518.6 L1270.8,519.4 L1270.9,520.2 L1271.1,521.0 L1271.3,521.8 L1271.5,522.6 L1271.7,523.4 L1272.0,524.2 L1272.2,525.0 L1272.5,525.8 L1272.8,526.6 L1273.0,527.4 L1273.3,528.2 L1273.6,529.0 L1273.9,529.8 L1274.2,530.6 L1274.6,531.4 L1275.0,532.2 L1275.4,533.0 L1275.8,533.8 L1276.2,534.6 L1276.7,535.4 L1277.1,536.2 L1277.6,537.0 L1278.0,537.8 L1278.4,538.6 L1278.9,539.4 L1279.3,540.2 L1279.8,541.0 L1280.3,541.8 L1280.8,542.6 L1281.3,543.4 L1281.8,544.2 L1282.3,545.0 L1282.8,545.8 L1283.3,546.6 L1283.8,547.4 L1284.2,548.2 L1284.7,549.0 L1285.1,549.8 L1285.6,550.6 L1286.0,551.4 L1286.5,552.2 L1287.0,553.0 L1287.4,553.8 L1287.9,554.6 L1288.3,555.4 L1288.6,556.2 L1288.9,557.0 L1289.2,557.8 L1289.4,558.6 L1289.6,559.4 L1289.8,560.2 L1289.9,561.0 L1290.1,561.8 L1290.2,562.6 L1290.3,563.4 L1290.3,564.2 L1290.3,565.0 L1290.3,565.8 L1290.3,566.6 L1290.3,567.4 L1290.2,568.2 L1290.2,569.0 L1290.1,569.8 L1290.1,570.6 L1290.0,571.4 L1289.9,572.2 L1289.9,573.0 L1289.8,573.8 L1289.7,574.6 L1289.7,575.4 L1289.6,576.2 L1289.6,577.0 L1289.5,577.8 L1289.4,578.6 L1289.3,579.4 L1289.3,580.2 L1289.2,581.0 L1289.1,581.8 L1289.0,582.6 L1288.9,583.4 L1288.7,584.2 L1288.6,585.0 L1288.4,585.8 L1288.1,586.6 L1287.9,587.4 L1287.6,588.2 L1287.3,589.0 L1287.0,589.8 L1286.7,590.6 L1286.3,591.4 L1286.0,592.2 L1285.7,593.0 L1285.3,593.8 L1285.0,594.6 L1284.6,595.4 L1284.2,596.2 L1283.8,597.0 L1283.3,597.8 L1282.9,598.6 L1282.5,599.4 L1282.0,600.2 L1281.6,601.0 L1281.1,601.8 L1280.6,602.6 L1280.1,603.4 L1279.5,604.2 L1279.0,605.0 L1278.5,605.8 L1278.0,606.6 L1277.5,607.4 L1277.0,608.2 L1276.5,609.0 L1276.1,609.8 L1275.7,610.6 L1275.3,611.4 L1274.9,612.2 L1274.6,613.0 L1274.2,613.8 L1273.9,614.6 L1273.5,615.4 L1273.2,616.2 L1272.9,617.0 L1272.6,617.8 L1272.3,618.6 L1272.1,619.4 L1271.8,620.2 L1271.6,621.0 L1271.4,621.8 L1271.1,622.6 L1270.9,623.4 L1270.7,624.2 L1270.5,625.0 L1270.2,625.8 L1270.0,626.6 L1269.8,627.4 L1269.5,628.2 L1269.3,629.0 L1269.0,629.8 L1268.8,630.6 L1268.5,631.4 L1268.3,632.2 L1268.0,633.0 L1267.8,633.8 L1267.6,634.6 L1267.4,635.4 L1267.2,636.2 L1266.9,637.0 L1266.7,637.8 L1266.5,638.6 L1266.3,639.4 L1266.1,640.2 L1265.9,641.0 L1265.7,641.8 L1265.6,642.6 L1265.4,643.4 L1265.3,644.2 L1265.2,645.0 L1265.1,645.8 L1264.9,646.6 L1264.8,647.4 L1264.7,648.2 L1264.6,649.0 L1264.6,649.8 L1264.6,650.6 L1264.6,651.4 L1264.6,652.2 L1264.6,653.0 L1264.6,653.8 L1264.6,654.6 L1264.6,655.4 L1264.6,656.2 L1264.6,656.7 L1263.1,656.7 L1263.1,656.2 L1263.1,655.4 L1263.1,654.6 L1263.1,653.8 L1263.1,653.0 L1263.1,652.2 L1263.1,651.4 L1263.1,650.6 L1263.1,649.8 L1263.1,649.0 L1263.0,648.2 L1262.9,647.4 L1262.7,646.6 L1262.6,645.8 L1262.5,645.0 L1262.4,644.2 L1262.2,643.4 L1262.1,642.6 L1261.9,641.8 L1261.8,641.0 L1261.6,640.2 L1261.4,639.4 L1261.2,638.6 L1261.0,637.8 L1260.7,637.0 L1260.5,636.2 L1260.3,635.4 L1260.1,634.6 L1259.8,633.8 L1259.6,633.0 L1259.4,632.2 L1259.1,631.4 L1258.9,630.6 L1258.7,629.8 L1258.4,629.0 L1258.2,628.2 L1257.9,627.4 L1257.7,626.6 L1257.4,625.8 L1257.2,625.0 L1257.0,624.2 L1256.7,623.4 L1256.5,622.6 L1256.3,621.8 L1256.1,621.0 L1255.8,620.2 L1255.6,619.4 L1255.3,618.6 L1255.1,617.8 L1254.8,617.0 L1254.5,616.2 L1254.1,615.4 L1253.8,614.6 L1253.5,613.8 L1253.1,613.0 L1252.7,612.2 L1252.3,611.4 L1251.9,610.6 L1251.5,609.8 L1251.1,609.0 L1250.7,608.2 L1250.2,607.4 L1249.7,606.6 L1249.2,605.8 L1248.7,605.0 L1248.1,604.2 L1247.6,603.4 L1247.1,602.6 L1246.6,601.8 L1246.1,601.0 L1245.6,600.2 L1245.2,599.4 L1244.8,598.6 L1244.3,597.8 L1243.9,597.0 L1243.5,596.2 L1243.1,595.4 L1242.7,594.6 L1242.3,593.8 L1242.0,593.0 L1241.6,592.2 L1241.3,591.4 L1241.0,590.6 L1240.7,589.8 L1240.4,589.0 L1240.1,588.2 L1239.8,587.4 L1239.6,586.6 L1239.3,585.8 L1239.1,585.0 L1238.9,584.2 L1238.8,583.4 L1238.7,582.6 L1238.6,581.8 L1238.5,581.0 L1238.4,580.2 L1238.3,579.4 L1238.3,578.6 L1238.2,577.8 L1238.1,577.0 L1238.1,576.2 L1238.0,575.4 L1237.9,574.6 L1237.9,573.8 L1237.8,573.0 L1237.7,572.2 L1237.7,571.4 L1237.6,570.6 L1237.6,569.8 L1237.5,569.0 L1237.5,568.2 L1237.4,567.4 L1237.4,566.6 L1237.4,565.8 L1237.3,565.0 L1237.3,564.2 L1237.4,563.4 L1237.5,562.6 L1237.6,561.8 L1237.7,561.0 L1237.9,560.2 L1238.1,559.4 L1238.3,558.6 L1238.5,557.8 L1238.7,557.0 L1239.0,556.2 L1239.4,555.4 L1239.8,554.6 L1240.2,553.8 L1240.7,553.0 L1241.2,552.2 L1241.6,551.4 L1242.1,550.6 L1242.5,549.8 L1243.0,549.0 L1243.4,548.2 L1243.9,547.4 L1244.4,546.6 L1244.9,545.8 L1245.4,545.0 L1245.9,544.2 L1246.4,543.4 L1246.9,542.6 L1247.4,541.8 L1247.9,541.0 L1248.3,540.2 L1248.8,539.4 L1249.2,538.6 L1249.7,537.8 L1250.1,537.0 L1250.6,536.2 L1251.0,535.4 L1251.4,534.6 L1251.9,533.8 L1252.3,533.0 L1252.7,532.2 L1253.1,531.4 L1253.4,530.6 L1253.8,529.8 L1254.1,529.0 L1254.4,528.2 L1254.6,527.4 L1254.9,526.6 L1255.2,525.8 L1255.5,525.0 L1255.7,524.2 L1256.0,523.4 L1256.2,522.6 L1256.4,521.8 L1256.6,521.0 L1256.7,520.2 L1256.9,519.4 L1257.0,518.6 L1257.1,517.8 L1257.1,517.0 L1257.1,516.2 L1257.2,515.4 L1257.2,514.6 L1257.2,513.8 L1257.3,513.0 L1257.3,512.2 L1257.3,511.4 L1257.3,510.6 L1257.4,509.8 L1257.4,509.0 L1257.4,508.2 L1257.5,507.4 L1257.5,506.6 L1257.6,505.8 L1257.6,505.0 L1257.7,504.2 L1257.7,503.4 L1257.8,502.6 L1257.9,501.8 L1257.9,501.0 L1258.0,500.2 L1258.1,499.4 L1258.2,498.6 L1258.2,497.8 L1258.3,497.0 L1258.4,496.2 L1258.4,495.4 L1258.5,494.6 L1258.5,493.8 L1258.6,493.0 L1258.7,492.2 L1258.7,491.4 L1258.8,490.6 L1258.9,489.8 L1258.9,489.0 L1259.0,488.2 L1259.1,487.4 L1259.1,486.6 L1259.2,485.8 L1259.3,485.0 L1259.3,484.2 L1259.4,483.4 L1259.4,482.6 L1259.5,481.8 L1259.6,481.0 L1259.6,480.2 L1259.7,479.4 L1259.8,478.6 L1259.8,477.8 L1259.9,477.0 L1260.0,476.2 L1260.0,475.4 L1260.1,474.6 L1260.1,473.8 L1260.2,473.0 L1260.3,472.2 L1260.3,471.4 L1260.4,470.6 L1260.4,469.8 L1260.5,469.0 L1260.6,468.2 L1260.6,467.4 L1260.7,466.6 L1260.8,465.8 L1260.8,465.0 L1260.9,464.2 L1261.0,463.4 L1261.1,462.6 L1261.2,461.8 L1261.3,461.0 L1261.4,460.2 L1261.5,459.4 L1261.6,458.6 L1261.7,457.8 L1261.8,457.0 L1261.9,456.2 L1262.0,455.4 L1262.1,454.6 L1262.2,453.8 L1262.3,453.0 L1262.4,452.2 L1262.4,451.4 L1262.5,450.6 L1262.6,449.8 L1262.7,449.0 L1262.8,448.2 L1262.8,447.4 L1262.9,446.6 L1263.0,445.8 L1263.1,445.0 L1263.1,444.2 L1263.1,443.4 L1263.1,442.6 L1263.1,441.8 L1263.1,441.0 L1263.1,440.2 L1263.1,439.4 L1263.1,438.6 L1263.1,437.8 L1263.1,437.0 L1263.1,436.2Z" fill="#000" stroke="#000" stroke-width="0.5" stroke-linejoin="round"/>
<clipPath id="bc3"><path d="M1264.6,436.2 L1264.6,437.0 L1264.6,437.8 L1264.6,438.6 L1264.6,439.4 L1264.6,440.2 L1264.6,441.0 L1264.6,441.8 L1264.6,442.6 L1264.6,443.4 L1264.6,444.2 L1264.6,445.0 L1264.7,445.8 L1264.8,446.6 L1264.8,447.4 L1264.9,448.2 L1265.0,449.0 L1265.1,449.8 L1265.2,450.6 L1265.2,451.4 L1265.3,452.2 L1265.4,453.0 L1265.5,453.8 L1265.6,454.6 L1265.7,455.4 L1265.8,456.2 L1265.9,457.0 L1266.0,457.8 L1266.1,458.6 L1266.2,459.4 L1266.3,460.2 L1266.4,461.0 L1266.5,461.8 L1266.6,462.6 L1266.7,463.4 L1266.7,464.2 L1266.8,465.0 L1266.9,465.8 L1267.0,466.6 L1267.0,467.4 L1267.1,468.2 L1267.2,469.0 L1267.2,469.8 L1267.3,470.6 L1267.3,471.4 L1267.4,472.2 L1267.5,473.0 L1267.5,473.8 L1267.6,474.6 L1267.6,475.4 L1267.7,476.2 L1267.8,477.0 L1267.8,477.8 L1267.9,478.6 L1268.0,479.4 L1268.0,480.2 L1268.1,481.0 L1268.2,481.8 L1268.2,482.6 L1268.3,483.4 L1268.4,484.2 L1268.4,485.0 L1268.5,485.8 L1268.5,486.6 L1268.6,487.4 L1268.7,488.2 L1268.7,489.0 L1268.8,489.8 L1268.9,490.6 L1268.9,491.4 L1269.0,492.2 L1269.1,493.0 L1269.1,493.8 L1269.2,494.6 L1269.2,495.4 L1269.3,496.2 L1269.4,497.0 L1269.4,497.8 L1269.5,498.6 L1269.6,499.4 L1269.7,500.2 L1269.7,501.0 L1269.8,501.8 L1269.9,502.6 L1269.9,503.4 L1270.0,504.2 L1270.1,505.0 L1270.1,505.8 L1270.2,506.6 L1270.2,507.4 L1270.2,508.2 L1270.3,509.0 L1270.3,509.8 L1270.3,510.6 L1270.4,511.4 L1270.4,512.2 L1270.4,513.0 L1270.4,513.8 L1270.5,514.6 L1270.5,515.4 L1270.5,516.2 L1270.6,517.0 L1270.6,517.8 L1270.7,518.6 L1270.8,519.4 L1270.9,520.2 L1271.1,521.0 L1271.3,521.8 L1271.5,522.6 L1271.7,523.4 L1272.0,524.2 L1272.2,525.0 L1272.5,525.8 L1272.8,526.6 L1273.0,527.4 L1273.3,528.2 L1273.6,529.0 L1273.9,529.8 L1274.2,530.6 L1274.6,531.4 L1275.0,532.2 L1275.4,533.0 L1275.8,533.8 L1276.2,534.6 L1276.7,535.4 L1277.1,536.2 L1277.6,537.0 L1278.0,537.8 L1278.4,538.6 L1278.9,539.4 L1279.3,540.2 L1279.8,541.0 L1280.3,541.8 L1280.8,542.6 L1281.3,543.4 L1281.8,544.2 L1282.3,545.0 L1282.8,545.8 L1283.3,546.6 L1283.8,547.4 L1284.2,548.2 L1284.7,549.0 L1285.1,549.8 L1285.6,550.6 L1286.0,551.4 L1286.5,552.2 L1287.0,553.0 L1287.4,553.8 L1287.9,554.6 L1288.3,555.4 L1288.6,556.2 L1288.9,557.0 L1289.2,557.8 L1289.4,558.6 L1289.6,559.4 L1289.8,560.2 L1289.9,561.0 L1290.1,561.8 L1290.2,562.6 L1290.3,563.4 L1290.3,564.2 L1290.3,565.0 L1290.3,565.8 L1290.3,566.6 L1290.3,567.4 L1290.2,568.2 L1290.2,569.0 L1290.1,569.8 L1290.1,570.6 L1290.0,571.4 L1289.9,572.2 L1289.9,573.0 L1289.8,573.8 L1289.7,574.6 L1289.7,575.4 L1289.6,576.2 L1289.6,577.0 L1289.5,577.8 L1289.4,578.6 L1289.3,579.4 L1289.3,580.2 L1289.2,581.0 L1289.1,581.8 L1289.0,582.6 L1288.9,583.4 L1288.7,584.2 L1288.6,585.0 L1288.4,585.8 L1288.1,586.6 L1287.9,587.4 L1287.6,588.2 L1287.3,589.0 L1287.0,589.8 L1286.7,590.6 L1286.3,591.4 L1286.0,592.2 L1285.7,593.0 L1285.3,593.8 L1285.0,594.6 L1284.6,595.4 L1284.2,596.2 L1283.8,597.0 L1283.3,597.8 L1282.9,598.6 L1282.5,599.4 L1282.0,600.2 L1281.6,601.0 L1281.1,601.8 L1280.6,602.6 L1280.1,603.4 L1279.5,604.2 L1279.0,605.0 L1278.5,605.8 L1278.0,606.6 L1277.5,607.4 L1277.0,608.2 L1276.5,609.0 L1276.1,609.8 L1275.7,610.6 L1275.3,611.4 L1274.9,612.2 L1274.6,613.0 L1274.2,613.8 L1273.9,614.6 L1273.5,615.4 L1273.2,616.2 L1272.9,617.0 L1272.6,617.8 L1272.3,618.6 L1272.1,619.4 L1271.8,620.2 L1271.6,621.0 L1271.4,621.8 L1271.1,622.6 L1270.9,623.4 L1270.7,624.2 L1270.5,625.0 L1270.2,625.8 L1270.0,626.6 L1269.8,627.4 L1269.5,628.2 L1269.3,629.0 L1269.0,629.8 L1268.8,630.6 L1268.5,631.4 L1268.3,632.2 L1268.0,633.0 L1267.8,633.8 L1267.6,634.6 L1267.4,635.4 L1267.2,636.2 L1266.9,637.0 L1266.7,637.8 L1266.5,638.6 L1266.3,639.4 L1266.1,640.2 L1265.9,641.0 L1265.7,641.8 L1265.6,642.6 L1265.4,643.4 L1265.3,644.2 L1265.2,645.0 L1265.1,645.8 L1264.9,646.6 L1264.8,647.4 L1264.7,648.2 L1264.6,649.0 L1264.6,649.8 L1264.6,650.6 L1264.6,651.4 L1264.6,652.2 L1264.6,653.0 L1264.6,653.8 L1264.6,654.6 L1264.6,655.4 L1264.6,656.2 L1264.6,656.7 L1263.1,656.7 L1263.1,656.2 L1263.1,655.4 L1263.1,654.6 L1263.1,653.8 L1263.1,653.0 L1263.1,652.2 L1263.1,651.4 L1263.1,650.6 L1263.1,649.8 L1263.1,649.0 L1263.0,648.2 L1262.9,647.4 L1262.7,646.6 L1262.6,645.8 L1262.5,645.0 L1262.4,644.2 L1262.2,643.4 L1262.1,642.6 L1261.9,641.8 L1261.8,641.0 L1261.6,640.2 L1261.4,639.4 L1261.2,638.6 L1261.0,637.8 L1260.7,637.0 L1260.5,636.2 L1260.3,635.4 L1260.1,634.6 L1259.8,633.8 L1259.6,633.0 L1259.4,632.2 L1259.1,631.4 L1258.9,630.6 L1258.7,629.8 L1258.4,629.0 L1258.2,628.2 L1257.9,627.4 L1257.7,626.6 L1257.4,625.8 L1257.2,625.0 L1257.0,624.2 L1256.7,623.4 L1256.5,622.6 L1256.3,621.8 L1256.1,621.0 L1255.8,620.2 L1255.6,619.4 L1255.3,618.6 L1255.1,617.8 L1254.8,617.0 L1254.5,616.2 L1254.1,615.4 L1253.8,614.6 L1253.5,613.8 L1253.1,613.0 L1252.7,612.2 L1252.3,611.4 L1251.9,610.6 L1251.5,609.8 L1251.1,609.0 L1250.7,608.2 L1250.2,607.4 L1249.7,606.6 L1249.2,605.8 L1248.7,605.0 L1248.1,604.2 L1247.6,603.4 L1247.1,602.6 L1246.6,601.8 L1246.1,601.0 L1245.6,600.2 L1245.2,599.4 L1244.8,598.6 L1244.3,597.8 L1243.9,597.0 L1243.5,596.2 L1243.1,595.4 L1242.7,594.6 L1242.3,593.8 L1242.0,593.0 L1241.6,592.2 L1241.3,591.4 L1241.0,590.6 L1240.7,589.8 L1240.4,589.0 L1240.1,588.2 L1239.8,587.4 L1239.6,586.6 L1239.3,585.8 L1239.1,585.0 L1238.9,584.2 L1238.8,583.4 L1238.7,582.6 L1238.6,581.8 L1238.5,581.0 L1238.4,580.2 L1238.3,579.4 L1238.3,578.6 L1238.2,577.8 L1238.1,577.0 L1238.1,576.2 L1238.0,575.4 L1237.9,574.6 L1237.9,573.8 L1237.8,573.0 L1237.7,572.2 L1237.7,571.4 L1237.6,570.6 L1237.6,569.8 L1237.5,569.0 L1237.5,568.2 L1237.4,567.4 L1237.4,566.6 L1237.4,565.8 L1237.3,565.0 L1237.3,564.2 L1237.4,563.4 L1237.5,562.6 L1237.6,561.8 L1237.7,561.0 L1237.9,560.2 L1238.1,559.4 L1238.3,558.6 L1238.5,557.8 L1238.7,557.0 L1239.0,556.2 L1239.4,555.4 L1239.8,554.6 L1240.2,553.8 L1240.7,553.0 L1241.2,552.2 L1241.6,551.4 L1242.1,550.6 L1242.5,549.8 L1243.0,549.0 L1243.4,548.2 L1243.9,547.4 L1244.4,546.6 L1244.9,545.8 L1245.4,545.0 L1245.9,544.2 L1246.4,543.4 L1246.9,542.6 L1247.4,541.8 L1247.9,541.0 L1248.3,540.2 L1248.8,539.4 L1249.2,538.6 L1249.7,537.8 L1250.1,537.0 L1250.6,536.2 L1251.0,535.4 L1251.4,534.6 L1251.9,533.8 L1252.3,533.0 L1252.7,532.2 L1253.1,531.4 L1253.4,530.6 L1253.8,529.8 L1254.1,529.0 L1254.4,528.2 L1254.6,527.4 L1254.9,526.6 L1255.2,525.8 L1255.5,525.0 L1255.7,524.2 L1256.0,523.4 L1256.2,522.6 L1256.4,521.8 L1256.6,521.0 L1256.7,520.2 L1256.9,519.4 L1257.0,518.6 L1257.1,517.8 L1257.1,517.0 L1257.1,516.2 L1257.2,515.4 L1257.2,514.6 L1257.2,513.8 L1257.3,513.0 L1257.3,512.2 L1257.3,511.4 L1257.3,510.6 L1257.4,509.8 L1257.4,509.0 L1257.4,508.2 L1257.5,507.4 L1257.5,506.6 L1257.6,505.8 L1257.6,505.0 L1257.7,504.2 L1257.7,503.4 L1257.8,502.6 L1257.9,501.8 L1257.9,501.0 L1258.0,500.2 L1258.1,499.4 L1258.2,498.6 L1258.2,497.8 L1258.3,497.0 L1258.4,496.2 L1258.4,495.4 L1258.5,494.6 L1258.5,493.8 L1258.6,493.0 L1258.7,492.2 L1258.7,491.4 L1258.8,490.6 L1258.9,489.8 L1258.9,489.0 L1259.0,488.2 L1259.1,487.4 L1259.1,486.6 L1259.2,485.8 L1259.3,485.0 L1259.3,484.2 L1259.4,483.4 L1259.4,482.6 L1259.5,481.8 L1259.6,481.0 L1259.6,480.2 L1259.7,479.4 L1259.8,478.6 L1259.8,477.8 L1259.9,477.0 L1260.0,476.2 L1260.0,475.4 L1260.1,474.6 L1260.1,473.8 L1260.2,473.0 L1260.3,472.2 L1260.3,471.4 L1260.4,470.6 L1260.4,469.8 L1260.5,469.0 L1260.6,468.2 L1260.6,467.4 L1260.7,466.6 L1260.8,465.8 L1260.8,465.0 L1260.9,464.2 L1261.0,463.4 L1261.1,462.6 L1261.2,461.8 L1261.3,461.0 L1261.4,460.2 L1261.5,459.4 L1261.6,458.6 L1261.7,457.8 L1261.8,457.0 L1261.9,456.2 L1262.0,455.4 L1262.1,454.6 L1262.2,453.8 L1262.3,453.0 L1262.4,452.2 L1262.4,451.4 L1262.5,450.6 L1262.6,449.8 L1262.7,449.0 L1262.8,448.2 L1262.8,447.4 L1262.9,446.6 L1263.0,445.8 L1263.1,445.0 L1263.1,444.2 L1263.1,443.4 L1263.1,442.6 L1263.1,441.8 L1263.1,441.0 L1263.1,440.2 L1263.1,439.4 L1263.1,438.6 L1263.1,437.8 L1263.1,437.0 L1263.1,436.2Z"/></clipPath>
<g fill="#fff" clip-path="url(#bc3)"><rect x="1256.0" y="469.80" width="15.7" height="2.72"/><rect x="1256.0" y="486.76" width="15.7" height="2.72"/><rect x="1256.0" y="509.34" width="15.7" height="5.05"/><rect x="1256.0" y="535.73" width="15.7" height="2.30"/><rect x="1256.0" y="541.24" width="15.7" height="1.87"/><rect x="1256.0" y="544.42" width="15.7" height="1.87"/><rect x="1256.0" y="547.60" width="15.7" height="1.87"/><rect x="1256.0" y="555.02" width="15.7" height="2.72"/><rect x="1256.0" y="559.26" width="15.7" height="1.87"/><rect x="1256.0" y="563.50" width="15.7" height="2.72"/><rect x="1256.0" y="567.74" width="15.7" height="1.87"/><rect x="1256.0" y="570.71" width="15.7" height="2.30"/><rect x="1256.0" y="574.10" width="15.7" height="1.87"/><rect x="1256.0" y="577.28" width="15.7" height="1.87"/><rect x="1256.0" y="582.37" width="15.7" height="2.30"/><rect x="1256.0" y="587.25" width="15.7" height="3.14"/><rect x="1256.0" y="591.28" width="15.7" height="2.30"/><rect x="1256.0" y="596.15" width="15.7" height="2.30"/><rect x="1256.0" y="607.81" width="15.7" height="2.30"/><rect x="1256.0" y="620.11" width="15.7" height="3.99"/></g>
<line x1="1218.2" x2="1309.9" y1="564.9" y2="564.9" stroke="#000" stroke-width="3.9" stroke-linecap="round"/>
<g fill="#fff" clip-path="url(#bc3)"><rect x="1256.0" y="469.80" width="15.7" height="2.72"/><rect x="1256.0" y="486.76" width="15.7" height="2.72"/><rect x="1256.0" y="509.34" width="15.7" height="5.05"/><rect x="1256.0" y="535.73" width="15.7" height="2.30"/><rect x="1256.0" y="541.24" width="15.7" height="1.87"/><rect x="1256.0" y="544.42" width="15.7" height="1.87"/><rect x="1256.0" y="547.60" width="15.7" height="1.87"/><rect x="1256.0" y="555.02" width="15.7" height="2.72"/><rect x="1256.0" y="559.26" width="15.7" height="1.87"/><rect x="1256.0" y="563.50" width="15.7" height="2.72"/><rect x="1256.0" y="567.74" width="15.7" height="1.87"/><rect x="1256.0" y="570.71" width="15.7" height="2.30"/><rect x="1256.0" y="574.10" width="15.7" height="1.87"/><rect x="1256.0" y="577.28" width="15.7" height="1.87"/><rect x="1256.0" y="582.37" width="15.7" height="2.30"/><rect x="1256.0" y="587.25" width="15.7" height="3.14"/><rect x="1256.0" y="591.28" width="15.7" height="2.30"/><rect x="1256.0" y="596.15" width="15.7" height="2.30"/><rect x="1256.0" y="607.81" width="15.7" height="2.30"/><rect x="1256.0" y="620.11" width="15.7" height="3.99"/></g>
<line x1="1434.5" x2="1434.5" y1="450.4" y2="666.8" stroke="#000" stroke-width="2.1" stroke-linecap="butt"/>
<line x1="1428.8" x2="1435.0" y1="451.4" y2="451.4" stroke="#000" stroke-width="2.1"/>
<line x1="1428.8" x2="1435.0" y1="483.0" y2="483.0" stroke="#000" stroke-width="2.1"/>
<line x1="1428.8" x2="1435.0" y1="506.9" y2="506.9" stroke="#000" stroke-width="2.1"/>
<line x1="1428.8" x2="1435.0" y1="531.1" y2="531.1" stroke="#000" stroke-width="2.1"/>
<line x1="1428.8" x2="1435.0" y1="562.6" y2="562.6" stroke="#000" stroke-width="2.1"/>
<line x1="1428.8" x2="1435.0" y1="586.6" y2="586.6" stroke="#000" stroke-width="2.1"/>
<line x1="1428.8" x2="1435.0" y1="610.6" y2="610.6" stroke="#000" stroke-width="2.1"/>
<line x1="1428.8" x2="1435.0" y1="642.1" y2="642.1" stroke="#000" stroke-width="2.1"/>
<line x1="1428.8" x2="1435.0" y1="665.8" y2="665.8" stroke="#000" stroke-width="2.1"/>
<text x="1422.6" y="448.0" font-size="28.6" text-anchor="middle" fill="#000" transform="rotate(-90 1422.6 448.0)" textLength="27.5" lengthAdjust="spacingAndGlyphs">50</text>
<text x="1422.6" y="485.6" font-size="28.6" text-anchor="middle" fill="#000" transform="rotate(-90 1422.6 485.6)" textLength="32.8" lengthAdjust="spacingAndGlyphs">20</text>
<text x="1422.6" y="531.0" font-size="28.6" text-anchor="middle" fill="#000" transform="rotate(-90 1422.6 531.0)" textLength="13.8" lengthAdjust="spacingAndGlyphs">5</text>
<text x="1422.6" y="563.5" font-size="28.6" text-anchor="middle" fill="#000" transform="rotate(-90 1422.6 563.5)" textLength="14.7" lengthAdjust="spacingAndGlyphs">2</text>
<text x="1422.6" y="610.6" font-size="28.6" text-anchor="middle" fill="#000" transform="rotate(-90 1422.6 610.6)" textLength="32.4" lengthAdjust="spacingAndGlyphs">0.5</text>
<text x="1422.6" y="664.4" font-size="28.6" text-anchor="middle" fill="#000" transform="rotate(-90 1422.6 664.4)" textLength="31.5" lengthAdjust="spacingAndGlyphs">0.1</text>
<text x="1387.7" y="545.0" font-size="36" text-anchor="middle" fill="#000" transform="rotate(-90 1387.7 545.0)" textLength="154.5" lengthAdjust="spacingAndGlyphs">Spermidine</text>
<text x="1529.7" y="418.9" font-size="30" text-anchor="middle" textLength="126.5" lengthAdjust="spacingAndGlyphs"><tspan font-style="italic">P</tspan> = 0.002</text>
<path d="M1485.9,515.7 L1485.9,516.5 L1485.9,517.3 L1485.9,518.1 L1485.9,518.9 L1486.0,519.7 L1486.0,520.5 L1486.1,521.3 L1486.2,522.1 L1486.2,522.9 L1486.3,523.7 L1486.4,524.5 L1486.5,525.3 L1486.6,526.1 L1486.7,526.9 L1486.8,527.7 L1486.9,528.5 L1487.1,529.3 L1487.3,530.1 L1487.5,530.9 L1487.8,531.7 L1488.2,532.5 L1488.6,533.3 L1489.0,534.1 L1489.4,534.9 L1489.8,535.7 L1490.3,536.5 L1490.8,537.3 L1491.3,538.1 L1491.9,538.9 L1492.6,539.7 L1493.4,540.5 L1494.2,541.3 L1495.0,542.1 L1495.9,542.9 L1496.7,543.7 L1497.6,544.5 L1498.5,545.3 L1499.4,546.1 L1500.3,546.9 L1501.3,547.7 L1502.4,548.5 L1503.4,549.3 L1504.5,550.1 L1505.5,550.9 L1506.6,551.7 L1507.6,552.5 L1508.5,553.3 L1509.4,554.1 L1510.3,554.9 L1511.3,555.7 L1512.2,556.5 L1513.1,557.3 L1513.9,558.1 L1514.8,558.9 L1515.6,559.7 L1516.3,560.5 L1516.9,561.3 L1517.5,562.1 L1518.0,562.9 L1518.5,563.7 L1518.9,564.5 L1519.4,565.3 L1519.8,566.1 L1520.1,566.9 L1520.5,567.7 L1520.8,568.5 L1521.1,569.3 L1521.3,570.1 L1521.5,570.9 L1521.7,571.7 L1521.9,572.5 L1522.0,573.3 L1522.2,574.1 L1522.3,574.9 L1522.3,575.7 L1522.3,576.5 L1522.2,577.3 L1522.0,578.1 L1521.8,578.9 L1521.5,579.7 L1521.1,580.5 L1520.8,581.3 L1520.4,582.1 L1520.0,582.9 L1519.7,583.7 L1519.4,584.5 L1519.0,585.3 L1518.5,586.1 L1518.1,586.9 L1517.6,587.7 L1517.2,588.5 L1516.7,589.3 L1516.3,590.1 L1516.0,590.9 L1515.6,591.7 L1515.4,592.5 L1515.1,593.3 L1514.9,594.1 L1514.7,594.9 L1514.4,595.7 L1514.2,596.5 L1514.0,597.3 L1513.9,598.1 L1513.7,598.9 L1513.6,599.7 L1513.4,600.5 L1513.3,601.3 L1513.1,602.1 L1513.0,602.9 L1512.9,603.7 L1512.7,604.5 L1512.6,605.3 L1512.5,606.1 L1512.5,606.9 L1512.4,607.7 L1512.4,608.5 L1512.4,609.3 L1512.4,610.1 L1512.5,610.9 L1512.6,611.7 L1512.8,612.5 L1512.9,613.3 L1513.0,614.1 L1513.2,614.9 L1513.3,615.7 L1513.4,616.5 L1513.4,617.3 L1513.4,618.1 L1513.3,618.9 L1513.2,619.7 L1513.1,620.5 L1512.9,621.3 L1512.6,622.1 L1512.4,622.9 L1512.1,623.7 L1511.8,624.5 L1511.5,625.3 L1511.2,626.1 L1510.9,626.9 L1510.4,627.7 L1509.9,628.5 L1509.3,629.3 L1508.6,630.1 L1508.0,630.9 L1507.3,631.7 L1506.6,632.5 L1505.9,633.3 L1505.2,634.1 L1504.5,634.9 L1503.9,635.7 L1503.2,636.5 L1502.5,637.3 L1501.8,638.1 L1501.1,638.9 L1500.3,639.7 L1499.6,640.5 L1498.9,641.3 L1498.2,642.1 L1497.5,642.9 L1496.8,643.7 L1496.1,644.5 L1495.4,645.3 L1494.6,646.1 L1493.9,646.9 L1493.2,647.7 L1492.5,648.5 L1491.9,649.3 L1491.3,650.1 L1490.8,650.9 L1490.3,651.7 L1489.9,652.5 L1489.5,653.3 L1489.0,654.1 L1488.6,654.9 L1488.3,655.7 L1487.9,656.5 L1487.6,657.3 L1487.3,658.1 L1487.1,658.9 L1486.9,659.7 L1486.8,660.5 L1486.7,661.3 L1486.6,662.1 L1486.4,662.9 L1486.3,663.7 L1486.2,664.5 L1486.1,665.3 L1486.0,666.1 L1486.0,666.9 L1485.9,667.7 L1485.9,668.5 L1485.9,669.3 L1485.9,670.0 L1485.9,670.0 L1485.8,669.3 L1485.8,668.5 L1485.8,667.7 L1485.7,666.9 L1485.7,666.1 L1485.6,665.3 L1485.5,664.5 L1485.4,663.7 L1485.3,662.9 L1485.2,662.1 L1485.0,661.3 L1484.9,660.5 L1484.8,659.7 L1484.6,658.9 L1484.4,658.1 L1484.1,657.3 L1483.8,656.5 L1483.4,655.7 L1483.1,654.9 L1482.7,654.1 L1482.2,653.3 L1481.8,652.5 L1481.4,651.7 L1480.9,650.9 L1480.4,650.1 L1479.8,649.3 L1479.2,648.5 L1478.5,647.7 L1477.8,646.9 L1477.1,646.1 L1476.3,645.3 L1475.6,644.5 L1474.9,643.7 L1474.2,642.9 L1473.5,642.1 L1472.8,641.3 L1472.1,640.5 L1471.4,639.7 L1470.7,638.9 L1469.9,638.1 L1469.2,637.3 L1468.5,636.5 L1467.8,635.7 L1467.2,634.9 L1466.5,634.1 L1465.8,633.3 L1465.1,632.5 L1464.4,631.7 L1463.7,630.9 L1463.1,630.1 L1462.4,629.3 L1461.8,628.5 L1461.3,627.7 L1460.8,626.9 L1460.5,626.1 L1460.2,625.3 L1459.9,624.5 L1459.6,623.7 L1459.3,622.9 L1459.1,622.1 L1458.8,621.3 L1458.7,620.5 L1458.5,619.7 L1458.4,618.9 L1458.3,618.1 L1458.3,617.3 L1458.3,616.5 L1458.4,615.7 L1458.5,614.9 L1458.7,614.1 L1458.8,613.3 L1459.0,612.5 L1459.1,611.7 L1459.2,610.9 L1459.3,610.1 L1459.4,609.3 L1459.3,608.5 L1459.3,607.7 L1459.3,606.9 L1459.2,606.1 L1459.1,605.3 L1459.0,604.5 L1458.8,603.7 L1458.7,602.9 L1458.6,602.1 L1458.4,601.3 L1458.3,600.5 L1458.2,599.7 L1458.0,598.9 L1457.8,598.1 L1457.7,597.3 L1457.5,596.5 L1457.3,595.7 L1457.1,594.9 L1456.8,594.1 L1456.6,593.3 L1456.3,592.5 L1456.1,591.7 L1455.7,590.9 L1455.4,590.1 L1455.0,589.3 L1454.5,588.5 L1454.1,587.7 L1453.6,586.9 L1453.2,586.1 L1452.8,585.3 L1452.4,584.5 L1452.0,583.7 L1451.7,582.9 L1451.3,582.1 L1450.9,581.3 L1450.6,580.5 L1450.2,579.7 L1449.9,578.9 L1449.7,578.1 L1449.5,577.3 L1449.4,576.5 L1449.4,575.7 L1449.5,574.9 L1449.6,574.1 L1449.7,573.3 L1449.9,572.5 L1450.0,571.7 L1450.2,570.9 L1450.4,570.1 L1450.7,569.3 L1450.9,568.5 L1451.2,567.7 L1451.6,566.9 L1452.0,566.1 L1452.4,565.3 L1452.8,564.5 L1453.2,563.7 L1453.7,562.9 L1454.2,562.1 L1454.8,561.3 L1455.4,560.5 L1456.2,559.7 L1456.9,558.9 L1457.8,558.1 L1458.6,557.3 L1459.5,556.5 L1460.5,555.7 L1461.4,554.9 L1462.3,554.1 L1463.2,553.3 L1464.1,552.5 L1465.1,551.7 L1466.2,550.9 L1467.2,550.1 L1468.3,549.3 L1469.3,548.5 L1470.4,547.7 L1471.4,546.9 L1472.3,546.1 L1473.2,545.3 L1474.1,544.5 L1475.0,543.7 L1475.8,542.9 L1476.7,542.1 L1477.5,541.3 L1478.3,540.5 L1479.1,539.7 L1479.8,538.9 L1480.4,538.1 L1480.9,537.3 L1481.4,536.5 L1481.9,535.7 L1482.3,534.9 L1482.8,534.1 L1483.2,533.3 L1483.5,532.5 L1483.9,531.7 L1484.2,530.9 L1484.4,530.1 L1484.6,529.3 L1484.8,528.5 L1484.9,527.7 L1485.0,526.9 L1485.1,526.1 L1485.2,525.3 L1485.3,524.5 L1485.4,523.7 L1485.5,522.9 L1485.6,522.1 L1485.6,521.3 L1485.7,520.5 L1485.7,519.7 L1485.8,518.9 L1485.8,518.1 L1485.8,517.3 L1485.9,516.5 L1485.9,515.7Z" fill="#d9d9d9" stroke="#000" stroke-width="2.1" stroke-linejoin="round"/>
<g fill="#000"><rect x="1478.0" y="558.00" width="15.7" height="2.27"/><rect x="1478.0" y="566.48" width="15.7" height="2.27"/><rect x="1478.0" y="575.60" width="15.7" height="2.27"/><rect x="1478.0" y="584.93" width="15.7" height="2.27"/><rect x="1478.0" y="596.16" width="15.7" height="2.27"/><rect x="1479.9" y="614.82" width="11.9" height="2.27"/><rect x="1464.0" y="625.53" width="43.7" height="2.06"/></g>
<line x1="1442.3" x2="1530.3" y1="594.1" y2="594.1" stroke="#000" stroke-width="3.9" stroke-linecap="round"/>
<path d="M1575.0,443.6 L1575.0,444.4 L1575.0,445.2 L1575.0,446.0 L1575.0,446.8 L1575.0,447.6 L1575.0,448.4 L1575.0,449.2 L1575.0,450.0 L1575.0,450.8 L1575.0,451.6 L1575.0,452.4 L1575.0,453.2 L1575.0,454.0 L1575.1,454.8 L1575.1,455.6 L1575.2,456.4 L1575.2,457.2 L1575.3,458.0 L1575.4,458.8 L1575.4,459.6 L1575.5,460.4 L1575.6,461.2 L1575.7,462.0 L1575.7,462.8 L1575.8,463.6 L1575.9,464.4 L1575.9,465.2 L1576.0,466.0 L1576.1,466.8 L1576.2,467.6 L1576.3,468.4 L1576.3,469.2 L1576.4,470.0 L1576.5,470.8 L1576.6,471.6 L1576.7,472.4 L1576.8,473.2 L1576.9,474.0 L1577.0,474.8 L1577.1,475.6 L1577.3,476.4 L1577.4,477.2 L1577.5,478.0 L1577.7,478.8 L1577.8,479.6 L1577.9,480.4 L1578.1,481.2 L1578.2,482.0 L1578.3,482.8 L1578.5,483.6 L1578.6,484.4 L1578.7,485.2 L1578.8,486.0 L1578.8,486.8 L1578.9,487.6 L1579.0,488.4 L1579.1,489.2 L1579.2,490.0 L1579.3,490.8 L1579.4,491.6 L1579.6,492.4 L1579.7,493.2 L1579.9,494.0 L1580.2,494.8 L1580.4,495.6 L1580.7,496.4 L1581.0,497.2 L1581.4,498.0 L1581.7,498.8 L1582.1,499.6 L1582.5,500.4 L1582.9,501.2 L1583.4,502.0 L1584.0,502.8 L1584.6,503.6 L1585.3,504.4 L1586.1,505.2 L1586.8,506.0 L1587.6,506.8 L1588.4,507.6 L1589.2,508.4 L1590.0,509.2 L1590.9,510.0 L1591.7,510.8 L1592.6,511.6 L1593.5,512.4 L1594.5,513.2 L1595.5,514.0 L1596.4,514.8 L1597.3,515.6 L1598.2,516.4 L1599.1,517.2 L1599.9,518.0 L1600.7,518.8 L1601.5,519.6 L1602.3,520.4 L1603.1,521.2 L1603.9,522.0 L1604.6,522.8 L1605.3,523.6 L1605.9,524.4 L1606.5,525.2 L1607.0,526.0 L1607.4,526.8 L1607.8,527.6 L1608.2,528.4 L1608.6,529.2 L1609.0,530.0 L1609.4,530.8 L1609.7,531.6 L1609.9,532.4 L1610.1,533.2 L1610.3,534.0 L1610.3,534.8 L1610.3,535.6 L1610.2,536.4 L1610.1,537.2 L1609.9,538.0 L1609.7,538.8 L1609.5,539.6 L1609.2,540.4 L1608.9,541.2 L1608.6,542.0 L1608.3,542.8 L1608.0,543.6 L1607.6,544.4 L1607.0,545.2 L1606.4,546.0 L1605.7,546.8 L1604.9,547.6 L1604.2,548.4 L1603.5,549.2 L1602.9,550.0 L1602.3,550.8 L1601.9,551.6 L1601.5,552.4 L1601.2,553.2 L1600.9,554.0 L1600.6,554.8 L1600.3,555.6 L1600.1,556.4 L1599.9,557.2 L1599.7,558.0 L1599.5,558.8 L1599.4,559.6 L1599.3,560.4 L1599.2,561.2 L1599.1,562.0 L1599.0,562.8 L1599.0,563.6 L1598.9,564.4 L1598.9,565.2 L1598.8,566.0 L1598.8,566.8 L1598.7,567.6 L1598.7,568.4 L1598.6,569.2 L1598.5,570.0 L1598.4,570.8 L1598.3,571.6 L1598.2,572.4 L1598.2,573.2 L1598.0,574.0 L1597.9,574.8 L1597.8,575.6 L1597.7,576.4 L1597.6,577.2 L1597.4,578.0 L1597.3,578.8 L1597.1,579.6 L1596.9,580.4 L1596.7,581.2 L1596.5,582.0 L1596.3,582.8 L1596.1,583.6 L1595.9,584.4 L1595.6,585.2 L1595.3,586.0 L1595.0,586.8 L1594.7,587.6 L1594.3,588.4 L1593.9,589.2 L1593.5,590.0 L1593.0,590.8 L1592.6,591.6 L1592.1,592.4 L1591.7,593.2 L1591.3,594.0 L1590.9,594.8 L1590.5,595.6 L1590.0,596.4 L1589.6,597.2 L1589.2,598.0 L1588.8,598.8 L1588.4,599.6 L1588.0,600.4 L1587.6,601.2 L1587.2,602.0 L1586.9,602.8 L1586.6,603.6 L1586.2,604.4 L1585.9,605.2 L1585.6,606.0 L1585.3,606.8 L1585.0,607.6 L1584.7,608.4 L1584.4,609.2 L1584.1,610.0 L1583.9,610.8 L1583.6,611.6 L1583.4,612.4 L1583.2,613.2 L1583.0,614.0 L1582.8,614.8 L1582.6,615.6 L1582.4,616.4 L1582.2,617.2 L1582.1,618.0 L1581.9,618.8 L1581.7,619.6 L1581.5,620.4 L1581.3,621.2 L1581.1,622.0 L1580.9,622.8 L1580.7,623.6 L1580.5,624.4 L1580.3,625.2 L1580.1,626.0 L1579.9,626.8 L1579.7,627.6 L1579.5,628.4 L1579.3,629.2 L1579.0,630.0 L1578.8,630.8 L1578.6,631.6 L1578.4,632.4 L1578.2,633.2 L1578.0,634.0 L1577.8,634.8 L1577.6,635.6 L1577.5,636.4 L1577.3,637.2 L1577.2,638.0 L1577.0,638.8 L1576.9,639.6 L1576.8,640.4 L1576.7,641.2 L1576.6,642.0 L1576.5,642.8 L1576.4,643.6 L1576.3,644.4 L1576.2,645.2 L1576.1,646.0 L1576.0,646.8 L1575.9,647.6 L1575.8,648.4 L1575.7,649.2 L1575.7,650.0 L1575.6,650.8 L1575.5,651.6 L1575.4,652.4 L1575.4,653.2 L1575.3,654.0 L1575.2,654.8 L1575.1,655.6 L1575.1,656.4 L1575.0,657.2 L1575.0,658.0 L1575.0,658.8 L1575.0,659.6 L1575.0,660.4 L1575.0,661.2 L1575.0,662.0 L1575.0,662.8 L1575.0,663.6 L1575.0,664.4 L1575.0,665.2 L1575.0,666.0 L1575.0,666.8 L1575.0,667.6 L1575.0,668.4 L1575.0,669.2 L1575.0,670.0 L1575.0,670.0 L1573.5,670.0 L1573.5,670.0 L1573.5,669.2 L1573.5,668.4 L1573.5,667.6 L1573.5,666.8 L1573.5,666.0 L1573.5,665.2 L1573.5,664.4 L1573.5,663.6 L1573.5,662.8 L1573.5,662.0 L1573.5,661.2 L1573.5,660.4 L1573.5,659.6 L1573.5,658.8 L1573.5,658.0 L1573.5,657.2 L1573.4,656.4 L1573.4,655.6 L1573.3,654.8 L1573.2,654.0 L1573.2,653.2 L1573.1,652.4 L1573.0,651.6 L1572.9,650.8 L1572.8,650.0 L1572.8,649.2 L1572.7,648.4 L1572.6,647.6 L1572.5,646.8 L1572.4,646.0 L1572.4,645.2 L1572.3,644.4 L1572.2,643.6 L1572.1,642.8 L1572.0,642.0 L1571.8,641.2 L1571.7,640.4 L1571.6,639.6 L1571.5,638.8 L1571.3,638.0 L1571.2,637.2 L1571.1,636.4 L1570.9,635.6 L1570.7,634.8 L1570.5,634.0 L1570.3,633.2 L1570.1,632.4 L1569.9,631.6 L1569.7,630.8 L1569.5,630.0 L1569.3,629.2 L1569.1,628.4 L1568.8,627.6 L1568.6,626.8 L1568.4,626.0 L1568.2,625.2 L1568.0,624.4 L1567.8,623.6 L1567.6,622.8 L1567.4,622.0 L1567.2,621.2 L1567.0,620.4 L1566.8,619.6 L1566.7,618.8 L1566.5,618.0 L1566.3,617.2 L1566.1,616.4 L1565.9,615.6 L1565.7,614.8 L1565.5,614.0 L1565.3,613.2 L1565.1,612.4 L1564.9,611.6 L1564.6,610.8 L1564.4,610.0 L1564.1,609.2 L1563.8,608.4 L1563.6,607.6 L1563.3,606.8 L1562.9,606.0 L1562.6,605.2 L1562.3,604.4 L1562.0,603.6 L1561.6,602.8 L1561.3,602.0 L1560.9,601.2 L1560.5,600.4 L1560.1,599.6 L1559.7,598.8 L1559.3,598.0 L1558.9,597.2 L1558.5,596.4 L1558.1,595.6 L1557.6,594.8 L1557.2,594.0 L1556.8,593.2 L1556.4,592.4 L1556.0,591.6 L1555.5,590.8 L1555.1,590.0 L1554.6,589.2 L1554.2,588.4 L1553.8,587.6 L1553.5,586.8 L1553.2,586.0 L1552.9,585.2 L1552.7,584.4 L1552.4,583.6 L1552.2,582.8 L1552.0,582.0 L1551.8,581.2 L1551.6,580.4 L1551.4,579.6 L1551.2,578.8 L1551.1,578.0 L1550.9,577.2 L1550.8,576.4 L1550.7,575.6 L1550.6,574.8 L1550.5,574.0 L1550.4,573.2 L1550.3,572.4 L1550.2,571.6 L1550.1,570.8 L1550.0,570.0 L1549.9,569.2 L1549.9,568.4 L1549.8,567.6 L1549.7,566.8 L1549.7,566.0 L1549.6,565.2 L1549.6,564.4 L1549.5,563.6 L1549.5,562.8 L1549.4,562.0 L1549.4,561.2 L1549.3,560.4 L1549.2,559.6 L1549.0,558.8 L1548.9,558.0 L1548.7,557.2 L1548.4,556.4 L1548.2,555.6 L1547.9,554.8 L1547.6,554.0 L1547.3,553.2 L1547.0,552.4 L1546.6,551.6 L1546.2,550.8 L1545.7,550.0 L1545.0,549.2 L1544.3,548.4 L1543.6,547.6 L1542.8,546.8 L1542.1,546.0 L1541.5,545.2 L1540.9,544.4 L1540.5,543.6 L1540.2,542.8 L1539.9,542.0 L1539.6,541.2 L1539.3,540.4 L1539.1,539.6 L1538.8,538.8 L1538.6,538.0 L1538.5,537.2 L1538.3,536.4 L1538.2,535.6 L1538.2,534.8 L1538.3,534.0 L1538.4,533.2 L1538.6,532.4 L1538.8,531.6 L1539.1,530.8 L1539.5,530.0 L1539.9,529.2 L1540.3,528.4 L1540.7,527.6 L1541.1,526.8 L1541.6,526.0 L1542.0,525.2 L1542.6,524.4 L1543.2,523.6 L1543.9,522.8 L1544.7,522.0 L1545.4,521.2 L1546.2,520.4 L1547.0,519.6 L1547.8,518.8 L1548.6,518.0 L1549.4,517.2 L1550.3,516.4 L1551.2,515.6 L1552.1,514.8 L1553.1,514.0 L1554.0,513.2 L1555.0,512.4 L1555.9,511.6 L1556.8,510.8 L1557.7,510.0 L1558.5,509.2 L1559.3,508.4 L1560.1,507.6 L1560.9,506.8 L1561.7,506.0 L1562.4,505.2 L1563.2,504.4 L1563.9,503.6 L1564.5,502.8 L1565.1,502.0 L1565.6,501.2 L1566.0,500.4 L1566.4,499.6 L1566.8,498.8 L1567.2,498.0 L1567.5,497.2 L1567.8,496.4 L1568.1,495.6 L1568.4,494.8 L1568.6,494.0 L1568.8,493.2 L1569.0,492.4 L1569.1,491.6 L1569.2,490.8 L1569.3,490.0 L1569.4,489.2 L1569.5,488.4 L1569.6,487.6 L1569.7,486.8 L1569.8,486.0 L1569.9,485.2 L1569.9,484.4 L1570.1,483.6 L1570.2,482.8 L1570.3,482.0 L1570.4,481.2 L1570.6,480.4 L1570.7,479.6 L1570.8,478.8 L1571.0,478.0 L1571.1,477.2 L1571.3,476.4 L1571.4,475.6 L1571.5,474.8 L1571.6,474.0 L1571.7,473.2 L1571.8,472.4 L1571.9,471.6 L1572.0,470.8 L1572.1,470.0 L1572.2,469.2 L1572.3,468.4 L1572.3,467.6 L1572.4,466.8 L1572.5,466.0 L1572.6,465.2 L1572.6,464.4 L1572.7,463.6 L1572.8,462.8 L1572.9,462.0 L1572.9,461.2 L1573.0,460.4 L1573.1,459.6 L1573.1,458.8 L1573.2,458.0 L1573.3,457.2 L1573.3,456.4 L1573.4,455.6 L1573.5,454.8 L1573.5,454.0 L1573.5,453.2 L1573.5,452.4 L1573.5,451.6 L1573.5,450.8 L1573.5,450.0 L1573.5,449.2 L1573.5,448.4 L1573.5,447.6 L1573.5,446.8 L1573.5,446.0 L1573.5,445.2 L1573.5,444.4 L1573.5,443.6Z" fill="#000" stroke="#000" stroke-width="0.5" stroke-linejoin="round"/>
<clipPath id="bc4"><path d="M1575.0,443.6 L1575.0,444.4 L1575.0,445.2 L1575.0,446.0 L1575.0,446.8 L1575.0,447.6 L1575.0,448.4 L1575.0,449.2 L1575.0,450.0 L1575.0,450.8 L1575.0,451.6 L1575.0,452.4 L1575.0,453.2 L1575.0,454.0 L1575.1,454.8 L1575.1,455.6 L1575.2,456.4 L1575.2,457.2 L1575.3,458.0 L1575.4,458.8 L1575.4,459.6 L1575.5,460.4 L1575.6,461.2 L1575.7,462.0 L1575.7,462.8 L1575.8,463.6 L1575.9,464.4 L1575.9,465.2 L1576.0,466.0 L1576.1,466.8 L1576.2,467.6 L1576.3,468.4 L1576.3,469.2 L1576.4,470.0 L1576.5,470.8 L1576.6,471.6 L1576.7,472.4 L1576.8,473.2 L1576.9,474.0 L1577.0,474.8 L1577.1,475.6 L1577.3,476.4 L1577.4,477.2 L1577.5,478.0 L1577.7,478.8 L1577.8,479.6 L1577.9,480.4 L1578.1,481.2 L1578.2,482.0 L1578.3,482.8 L1578.5,483.6 L1578.6,484.4 L1578.7,485.2 L1578.8,486.0 L1578.8,486.8 L1578.9,487.6 L1579.0,488.4 L1579.1,489.2 L1579.2,490.0 L1579.3,490.8 L1579.4,491.6 L1579.6,492.4 L1579.7,493.2 L1579.9,494.0 L1580.2,494.8 L1580.4,495.6 L1580.7,496.4 L1581.0,497.2 L1581.4,498.0 L1581.7,498.8 L1582.1,499.6 L1582.5,500.4 L1582.9,501.2 L1583.4,502.0 L1584.0,502.8 L1584.6,503.6 L1585.3,504.4 L1586.1,505.2 L1586.8,506.0 L1587.6,506.8 L1588.4,507.6 L1589.2,508.4 L1590.0,509.2 L1590.9,510.0 L1591.7,510.8 L1592.6,511.6 L1593.5,512.4 L1594.5,513.2 L1595.5,514.0 L1596.4,514.8 L1597.3,515.6 L1598.2,516.4 L1599.1,517.2 L1599.9,518.0 L1600.7,518.8 L1601.5,519.6 L1602.3,520.4 L1603.1,521.2 L1603.9,522.0 L1604.6,522.8 L1605.3,523.6 L1605.9,524.4 L1606.5,525.2 L1607.0,526.0 L1607.4,526.8 L1607.8,527.6 L1608.2,528.4 L1608.6,529.2 L1609.0,530.0 L1609.4,530.8 L1609.7,531.6 L1609.9,532.4 L1610.1,533.2 L1610.3,534.0 L1610.3,534.8 L1610.3,535.6 L1610.2,536.4 L1610.1,537.2 L1609.9,538.0 L1609.7,538.8 L1609.5,539.6 L1609.2,540.4 L1608.9,541.2 L1608.6,542.0 L1608.3,542.8 L1608.0,543.6 L1607.6,544.4 L1607.0,545.2 L1606.4,546.0 L1605.7,546.8 L1604.9,547.6 L1604.2,548.4 L1603.5,549.2 L1602.9,550.0 L1602.3,550.8 L1601.9,551.6 L1601.5,552.4 L1601.2,553.2 L1600.9,554.0 L1600.6,554.8 L1600.3,555.6 L1600.1,556.4 L1599.9,557.2 L1599.7,558.0 L1599.5,558.8 L1599.4,559.6 L1599.3,560.4 L1599.2,561.2 L1599.1,562.0 L1599.0,562.8 L1599.0,563.6 L1598.9,564.4 L1598.9,565.2 L1598.8,566.0 L1598.8,566.8 L1598.7,567.6 L1598.7,568.4 L1598.6,569.2 L1598.5,570.0 L1598.4,570.8 L1598.3,571.6 L1598.2,572.4 L1598.2,573.2 L1598.0,574.0 L1597.9,574.8 L1597.8,575.6 L1597.7,576.4 L1597.6,577.2 L1597.4,578.0 L1597.3,578.8 L1597.1,579.6 L1596.9,580.4 L1596.7,581.2 L1596.5,582.0 L1596.3,582.8 L1596.1,583.6 L1595.9,584.4 L1595.6,585.2 L1595.3,586.0 L1595.0,586.8 L1594.7,587.6 L1594.3,588.4 L1593.9,589.2 L1593.5,590.0 L1593.0,590.8 L1592.6,591.6 L1592.1,592.4 L1591.7,593.2 L1591.3,594.0 L1590.9,594.8 L1590.5,595.6 L1590.0,596.4 L1589.6,597.2 L1589.2,598.0 L1588.8,598.8 L1588.4,599.6 L1588.0,600.4 L1587.6,601.2 L1587.2,602.0 L1586.9,602.8 L1586.6,603.6 L1586.2,604.4 L1585.9,605.2 L1585.6,606.0 L1585.3,606.8 L1585.0,607.6 L1584.7,608.4 L1584.4,609.2 L1584.1,610.0 L1583.9,610.8 L1583.6,611.6 L1583.4,612.4 L1583.2,613.2 L1583.0,614.0 L1582.8,614.8 L1582.6,615.6 L1582.4,616.4 L1582.2,617.2 L1582.1,618.0 L1581.9,618.8 L1581.7,619.6 L1581.5,620.4 L1581.3,621.2 L1581.1,622.0 L1580.9,622.8 L1580.7,623.6 L1580.5,624.4 L1580.3,625.2 L1580.1,626.0 L1579.9,626.8 L1579.7,627.6 L1579.5,628.4 L1579.3,629.2 L1579.0,630.0 L1578.8,630.8 L1578.6,631.6 L1578.4,632.4 L1578.2,633.2 L1578.0,634.0 L1577.8,634.8 L1577.6,635.6 L1577.5,636.4 L1577.3,637.2 L1577.2,638.0 L1577.0,638.8 L1576.9,639.6 L1576.8,640.4 L1576.7,641.2 L1576.6,642.0 L1576.5,642.8 L1576.4,643.6 L1576.3,644.4 L1576.2,645.2 L1576.1,646.0 L1576.0,646.8 L1575.9,647.6 L1575.8,648.4 L1575.7,649.2 L1575.7,650.0 L1575.6,650.8 L1575.5,651.6 L1575.4,652.4 L1575.4,653.2 L1575.3,654.0 L1575.2,654.8 L1575.1,655.6 L1575.1,656.4 L1575.0,657.2 L1575.0,658.0 L1575.0,658.8 L1575.0,659.6 L1575.0,660.4 L1575.0,661.2 L1575.0,662.0 L1575.0,662.8 L1575.0,663.6 L1575.0,664.4 L1575.0,665.2 L1575.0,666.0 L1575.0,666.8 L1575.0,667.6 L1575.0,668.4 L1575.0,669.2 L1575.0,670.0 L1575.0,670.0 L1573.5,670.0 L1573.5,670.0 L1573.5,669.2 L1573.5,668.4 L1573.5,667.6 L1573.5,666.8 L1573.5,666.0 L1573.5,665.2 L1573.5,664.4 L1573.5,663.6 L1573.5,662.8 L1573.5,662.0 L1573.5,661.2 L1573.5,660.4 L1573.5,659.6 L1573.5,658.8 L1573.5,658.0 L1573.5,657.2 L1573.4,656.4 L1573.4,655.6 L1573.3,654.8 L1573.2,654.0 L1573.2,653.2 L1573.1,652.4 L1573.0,651.6 L1572.9,650.8 L1572.8,650.0 L1572.8,649.2 L1572.7,648.4 L1572.6,647.6 L1572.5,646.8 L1572.4,646.0 L1572.4,645.2 L1572.3,644.4 L1572.2,643.6 L1572.1,642.8 L1572.0,642.0 L1571.8,641.2 L1571.7,640.4 L1571.6,639.6 L1571.5,638.8 L1571.3,638.0 L1571.2,637.2 L1571.1,636.4 L1570.9,635.6 L1570.7,634.8 L1570.5,634.0 L1570.3,633.2 L1570.1,632.4 L1569.9,631.6 L1569.7,630.8 L1569.5,630.0 L1569.3,629.2 L1569.1,628.4 L1568.8,627.6 L1568.6,626.8 L1568.4,626.0 L1568.2,625.2 L1568.0,624.4 L1567.8,623.6 L1567.6,622.8 L1567.4,622.0 L1567.2,621.2 L1567.0,620.4 L1566.8,619.6 L1566.7,618.8 L1566.5,618.0 L1566.3,617.2 L1566.1,616.4 L1565.9,615.6 L1565.7,614.8 L1565.5,614.0 L1565.3,613.2 L1565.1,612.4 L1564.9,611.6 L1564.6,610.8 L1564.4,610.0 L1564.1,609.2 L1563.8,608.4 L1563.6,607.6 L1563.3,606.8 L1562.9,606.0 L1562.6,605.2 L1562.3,604.4 L1562.0,603.6 L1561.6,602.8 L1561.3,602.0 L1560.9,601.2 L1560.5,600.4 L1560.1,599.6 L1559.7,598.8 L1559.3,598.0 L1558.9,597.2 L1558.5,596.4 L1558.1,595.6 L1557.6,594.8 L1557.2,594.0 L1556.8,593.2 L1556.4,592.4 L1556.0,591.6 L1555.5,590.8 L1555.1,590.0 L1554.6,589.2 L1554.2,588.4 L1553.8,587.6 L1553.5,586.8 L1553.2,586.0 L1552.9,585.2 L1552.7,584.4 L1552.4,583.6 L1552.2,582.8 L1552.0,582.0 L1551.8,581.2 L1551.6,580.4 L1551.4,579.6 L1551.2,578.8 L1551.1,578.0 L1550.9,577.2 L1550.8,576.4 L1550.7,575.6 L1550.6,574.8 L1550.5,574.0 L1550.4,573.2 L1550.3,572.4 L1550.2,571.6 L1550.1,570.8 L1550.0,570.0 L1549.9,569.2 L1549.9,568.4 L1549.8,567.6 L1549.7,566.8 L1549.7,566.0 L1549.6,565.2 L1549.6,564.4 L1549.5,563.6 L1549.5,562.8 L1549.4,562.0 L1549.4,561.2 L1549.3,560.4 L1549.2,559.6 L1549.0,558.8 L1548.9,558.0 L1548.7,557.2 L1548.4,556.4 L1548.2,555.6 L1547.9,554.8 L1547.6,554.0 L1547.3,553.2 L1547.0,552.4 L1546.6,551.6 L1546.2,550.8 L1545.7,550.0 L1545.0,549.2 L1544.3,548.4 L1543.6,547.6 L1542.8,546.8 L1542.1,546.0 L1541.5,545.2 L1540.9,544.4 L1540.5,543.6 L1540.2,542.8 L1539.9,542.0 L1539.6,541.2 L1539.3,540.4 L1539.1,539.6 L1538.8,538.8 L1538.6,538.0 L1538.5,537.2 L1538.3,536.4 L1538.2,535.6 L1538.2,534.8 L1538.3,534.0 L1538.4,533.2 L1538.6,532.4 L1538.8,531.6 L1539.1,530.8 L1539.5,530.0 L1539.9,529.2 L1540.3,528.4 L1540.7,527.6 L1541.1,526.8 L1541.6,526.0 L1542.0,525.2 L1542.6,524.4 L1543.2,523.6 L1543.9,522.8 L1544.7,522.0 L1545.4,521.2 L1546.2,520.4 L1547.0,519.6 L1547.8,518.8 L1548.6,518.0 L1549.4,517.2 L1550.3,516.4 L1551.2,515.6 L1552.1,514.8 L1553.1,514.0 L1554.0,513.2 L1555.0,512.4 L1555.9,511.6 L1556.8,510.8 L1557.7,510.0 L1558.5,509.2 L1559.3,508.4 L1560.1,507.6 L1560.9,506.8 L1561.7,506.0 L1562.4,505.2 L1563.2,504.4 L1563.9,503.6 L1564.5,502.8 L1565.1,502.0 L1565.6,501.2 L1566.0,500.4 L1566.4,499.6 L1566.8,498.8 L1567.2,498.0 L1567.5,497.2 L1567.8,496.4 L1568.1,495.6 L1568.4,494.8 L1568.6,494.0 L1568.8,493.2 L1569.0,492.4 L1569.1,491.6 L1569.2,490.8 L1569.3,490.0 L1569.4,489.2 L1569.5,488.4 L1569.6,487.6 L1569.7,486.8 L1569.8,486.0 L1569.9,485.2 L1569.9,484.4 L1570.1,483.6 L1570.2,482.8 L1570.3,482.0 L1570.4,481.2 L1570.6,480.4 L1570.7,479.6 L1570.8,478.8 L1571.0,478.0 L1571.1,477.2 L1571.3,476.4 L1571.4,475.6 L1571.5,474.8 L1571.6,474.0 L1571.7,473.2 L1571.8,472.4 L1571.9,471.6 L1572.0,470.8 L1572.1,470.0 L1572.2,469.2 L1572.3,468.4 L1572.3,467.6 L1572.4,466.8 L1572.5,466.0 L1572.6,465.2 L1572.6,464.4 L1572.7,463.6 L1572.8,462.8 L1572.9,462.0 L1572.9,461.2 L1573.0,460.4 L1573.1,459.6 L1573.1,458.8 L1573.2,458.0 L1573.3,457.2 L1573.3,456.4 L1573.4,455.6 L1573.5,454.8 L1573.5,454.0 L1573.5,453.2 L1573.5,452.4 L1573.5,451.6 L1573.5,450.8 L1573.5,450.0 L1573.5,449.2 L1573.5,448.4 L1573.5,447.6 L1573.5,446.8 L1573.5,446.0 L1573.5,445.2 L1573.5,444.4 L1573.5,443.6Z"/></clipPath>
<g fill="#fff" clip-path="url(#bc4)"><rect x="1566.4" y="484.85" width="15.7" height="2.30"/><rect x="1566.4" y="517.08" width="15.7" height="5.69"/><rect x="1566.4" y="525.13" width="15.7" height="3.14"/><rect x="1566.4" y="535.52" width="15.7" height="6.96"/><rect x="1566.4" y="554.81" width="15.7" height="3.14"/><rect x="1566.4" y="560.11" width="15.7" height="2.30"/><rect x="1566.4" y="566.90" width="15.7" height="3.57"/><rect x="1566.4" y="573.47" width="15.7" height="6.54"/><rect x="1566.4" y="583.43" width="15.7" height="2.30"/><rect x="1566.4" y="588.73" width="15.7" height="2.30"/><rect x="1566.4" y="603.78" width="15.7" height="2.72"/><rect x="1566.4" y="610.99" width="15.7" height="2.30"/><rect x="1566.4" y="625.41" width="15.7" height="2.30"/></g>
<line x1="1530.3" x2="1618.7" y1="553.8" y2="553.8" stroke="#000" stroke-width="3.9" stroke-linecap="round"/>
<g fill="#fff" clip-path="url(#bc4)"><rect x="1566.4" y="484.85" width="15.7" height="2.30"/><rect x="1566.4" y="517.08" width="15.7" height="5.69"/><rect x="1566.4" y="525.13" width="15.7" height="3.14"/><rect x="1566.4" y="535.52" width="15.7" height="6.96"/><rect x="1566.4" y="554.81" width="15.7" height="3.14"/><rect x="1566.4" y="560.11" width="15.7" height="2.30"/><rect x="1566.4" y="566.90" width="15.7" height="3.57"/><rect x="1566.4" y="573.47" width="15.7" height="6.54"/><rect x="1566.4" y="583.43" width="15.7" height="2.30"/><rect x="1566.4" y="588.73" width="15.7" height="2.30"/><rect x="1566.4" y="603.78" width="15.7" height="2.72"/><rect x="1566.4" y="610.99" width="15.7" height="2.30"/><rect x="1566.4" y="625.41" width="15.7" height="2.30"/></g>
<line x1="1118.4" x2="1118.4" y1="745.5" y2="990.2" stroke="#000" stroke-width="2.1" stroke-linecap="butt"/>
<line x1="1112.7" x2="1118.9" y1="746.5" y2="746.5" stroke="#000" stroke-width="2.1"/>
<line x1="1112.7" x2="1118.9" y1="781.2" y2="781.2" stroke="#000" stroke-width="2.1"/>
<line x1="1112.7" x2="1118.9" y1="816.0" y2="816.0" stroke="#000" stroke-width="2.1"/>
<line x1="1112.7" x2="1118.9" y1="850.5" y2="850.5" stroke="#000" stroke-width="2.1"/>
<line x1="1112.7" x2="1118.9" y1="885.6" y2="885.6" stroke="#000" stroke-width="2.1"/>
<line x1="1112.7" x2="1118.9" y1="919.8" y2="919.8" stroke="#000" stroke-width="2.1"/>
<line x1="1112.7" x2="1118.9" y1="955.0" y2="955.0" stroke="#000" stroke-width="2.1"/>
<line x1="1112.7" x2="1118.9" y1="989.2" y2="989.2" stroke="#000" stroke-width="2.1"/>
<text x="1106.2" y="775.2" font-size="28.6" text-anchor="middle" fill="#000" transform="rotate(-90 1106.2 775.2)" textLength="34.6" lengthAdjust="spacingAndGlyphs">1.4</text>
<text x="1106.2" y="848.2" font-size="28.6" text-anchor="middle" fill="#000" transform="rotate(-90 1106.2 848.2)" textLength="34.6" lengthAdjust="spacingAndGlyphs">1.0</text>
<text x="1106.2" y="915.7" font-size="28.6" text-anchor="middle" fill="#000" transform="rotate(-90 1106.2 915.7)" textLength="34.6" lengthAdjust="spacingAndGlyphs">0.6</text>
<text x="1106.2" y="989.5" font-size="28.6" text-anchor="middle" fill="#000" transform="rotate(-90 1106.2 989.5)" textLength="34.4" lengthAdjust="spacingAndGlyphs">0.2</text>
<text x="1074.4" y="842.0" font-size="36" text-anchor="middle" fill="#000" transform="rotate(-90 1074.4 842.0)" textLength="125.3" lengthAdjust="spacingAndGlyphs">Citrulline</text>
<text x="1227.2" y="727.8" font-size="30" text-anchor="middle" textLength="110.1" lengthAdjust="spacingAndGlyphs"><tspan font-style="italic">P</tspan> = 0.02</text>
<path d="M1172.0,746.8 L1172.0,747.6 L1172.1,748.4 L1172.1,749.2 L1172.1,750.0 L1172.1,750.8 L1172.2,751.6 L1172.2,752.4 L1172.3,753.2 L1172.3,754.0 L1172.4,754.8 L1172.4,755.6 L1172.5,756.4 L1172.6,757.2 L1172.6,758.0 L1172.7,758.8 L1172.8,759.6 L1172.9,760.4 L1173.0,761.2 L1173.1,762.0 L1173.2,762.8 L1173.4,763.6 L1173.6,764.4 L1173.8,765.2 L1174.1,766.0 L1174.4,766.8 L1174.7,767.6 L1175.0,768.4 L1175.3,769.2 L1175.6,770.0 L1176.0,770.8 L1176.3,771.6 L1176.7,772.4 L1177.1,773.2 L1177.6,774.0 L1178.0,774.8 L1178.5,775.6 L1179.0,776.4 L1179.4,777.2 L1179.9,778.0 L1180.4,778.8 L1180.9,779.6 L1181.3,780.4 L1181.8,781.2 L1182.3,782.0 L1182.8,782.8 L1183.3,783.6 L1183.9,784.4 L1184.4,785.2 L1184.9,786.0 L1185.4,786.8 L1185.9,787.6 L1186.4,788.4 L1186.9,789.2 L1187.4,790.0 L1187.9,790.8 L1188.5,791.6 L1189.0,792.4 L1189.5,793.2 L1190.0,794.0 L1190.4,794.8 L1190.9,795.6 L1191.4,796.4 L1191.8,797.2 L1192.3,798.0 L1192.7,798.8 L1193.1,799.6 L1193.6,800.4 L1194.0,801.2 L1194.4,802.0 L1194.7,802.8 L1195.0,803.6 L1195.3,804.4 L1195.6,805.2 L1195.9,806.0 L1196.1,806.8 L1196.3,807.6 L1196.5,808.4 L1196.8,809.2 L1196.9,810.0 L1197.1,810.8 L1197.3,811.6 L1197.4,812.4 L1197.5,813.2 L1197.6,814.0 L1197.7,814.8 L1197.8,815.6 L1197.9,816.4 L1197.9,817.2 L1197.9,818.0 L1197.8,818.8 L1197.7,819.6 L1197.6,820.4 L1197.4,821.2 L1197.3,822.0 L1197.1,822.8 L1196.9,823.6 L1196.7,824.4 L1196.5,825.2 L1196.3,826.0 L1196.1,826.8 L1195.8,827.6 L1195.5,828.4 L1195.2,829.2 L1194.9,830.0 L1194.6,830.8 L1194.3,831.6 L1194.1,832.4 L1193.9,833.2 L1193.7,834.0 L1193.6,834.8 L1193.4,835.6 L1193.3,836.4 L1193.2,837.2 L1193.1,838.0 L1193.0,838.8 L1193.0,839.6 L1192.9,840.4 L1192.8,841.2 L1192.8,842.0 L1192.8,842.8 L1192.9,843.6 L1193.0,844.4 L1193.2,845.2 L1193.4,846.0 L1193.6,846.8 L1193.9,847.6 L1194.3,848.4 L1194.6,849.2 L1194.9,850.0 L1195.2,850.8 L1195.6,851.6 L1196.0,852.4 L1196.4,853.2 L1196.9,854.0 L1197.4,854.8 L1198.0,855.6 L1198.5,856.4 L1199.0,857.2 L1199.5,858.0 L1199.9,858.8 L1200.2,859.6 L1200.6,860.4 L1200.9,861.2 L1201.2,862.0 L1201.4,862.8 L1201.7,863.6 L1202.0,864.4 L1202.2,865.2 L1202.4,866.0 L1202.6,866.8 L1202.7,867.6 L1202.8,868.4 L1202.9,869.2 L1203.0,870.0 L1203.1,870.8 L1203.2,871.6 L1203.2,872.4 L1203.2,873.2 L1203.1,874.0 L1203.0,874.8 L1202.8,875.6 L1202.6,876.4 L1202.4,877.2 L1202.2,878.0 L1201.9,878.8 L1201.7,879.6 L1201.4,880.4 L1201.2,881.2 L1200.8,882.0 L1200.5,882.8 L1200.0,883.6 L1199.6,884.4 L1199.1,885.2 L1198.6,886.0 L1198.1,886.8 L1197.5,887.6 L1197.0,888.4 L1196.5,889.2 L1195.9,890.0 L1195.4,890.8 L1194.8,891.6 L1194.2,892.4 L1193.5,893.2 L1192.9,894.0 L1192.3,894.8 L1191.7,895.6 L1191.0,896.4 L1190.5,897.2 L1189.9,898.0 L1189.3,898.8 L1188.7,899.6 L1188.2,900.4 L1187.6,901.2 L1187.1,902.0 L1186.6,902.8 L1186.0,903.6 L1185.5,904.4 L1185.0,905.2 L1184.5,906.0 L1184.0,906.8 L1183.5,907.6 L1183.0,908.4 L1182.5,909.2 L1182.0,910.0 L1181.6,910.8 L1181.1,911.6 L1180.7,912.4 L1180.2,913.2 L1179.8,914.0 L1179.4,914.8 L1179.0,915.6 L1178.6,916.4 L1178.3,917.2 L1177.9,918.0 L1177.5,918.8 L1177.2,919.6 L1176.9,920.4 L1176.5,921.2 L1176.3,922.0 L1176.0,922.8 L1175.7,923.6 L1175.5,924.4 L1175.2,925.2 L1175.0,926.0 L1174.8,926.8 L1174.6,927.6 L1174.4,928.4 L1174.2,929.2 L1174.0,930.0 L1173.9,930.8 L1173.7,931.6 L1173.6,932.4 L1173.5,933.2 L1173.4,934.0 L1173.3,934.8 L1173.2,935.6 L1173.1,936.4 L1173.0,937.2 L1172.9,938.0 L1172.8,938.8 L1172.7,939.6 L1172.7,940.4 L1172.6,941.2 L1172.5,942.0 L1172.5,942.8 L1172.4,943.6 L1172.4,944.4 L1172.3,945.2 L1172.3,946.0 L1172.2,946.8 L1172.2,947.6 L1172.1,948.4 L1172.1,949.2 L1172.1,950.0 L1172.0,950.8 L1172.0,951.2 L1172.0,951.2 L1172.0,950.8 L1172.0,950.0 L1172.0,949.2 L1172.0,948.4 L1171.9,947.6 L1171.9,946.8 L1171.8,946.0 L1171.8,945.2 L1171.7,944.4 L1171.7,943.6 L1171.6,942.8 L1171.5,942.0 L1171.5,941.2 L1171.4,940.4 L1171.4,939.6 L1171.3,938.8 L1171.2,938.0 L1171.1,937.2 L1171.0,936.4 L1170.9,935.6 L1170.8,934.8 L1170.7,934.0 L1170.6,933.2 L1170.5,932.4 L1170.3,931.6 L1170.2,930.8 L1170.0,930.0 L1169.9,929.2 L1169.7,928.4 L1169.5,927.6 L1169.3,926.8 L1169.1,926.0 L1168.8,925.2 L1168.6,924.4 L1168.4,923.6 L1168.1,922.8 L1167.8,922.0 L1167.5,921.2 L1167.2,920.4 L1166.9,919.6 L1166.5,918.8 L1166.2,918.0 L1165.8,917.2 L1165.4,916.4 L1165.1,915.6 L1164.7,914.8 L1164.3,914.0 L1163.9,913.2 L1163.4,912.4 L1163.0,911.6 L1162.5,910.8 L1162.0,910.0 L1161.6,909.2 L1161.1,908.4 L1160.6,907.6 L1160.1,906.8 L1159.6,906.0 L1159.1,905.2 L1158.6,904.4 L1158.1,903.6 L1157.5,902.8 L1157.0,902.0 L1156.4,901.2 L1155.9,900.4 L1155.3,899.6 L1154.8,898.8 L1154.2,898.0 L1153.6,897.2 L1153.0,896.4 L1152.4,895.6 L1151.8,894.8 L1151.2,894.0 L1150.5,893.2 L1149.9,892.4 L1149.3,891.6 L1148.7,890.8 L1148.2,890.0 L1147.6,889.2 L1147.1,888.4 L1146.6,887.6 L1146.0,886.8 L1145.5,886.0 L1145.0,885.2 L1144.5,884.4 L1144.0,883.6 L1143.6,882.8 L1143.2,882.0 L1142.9,881.2 L1142.7,880.4 L1142.4,879.6 L1142.1,878.8 L1141.9,878.0 L1141.7,877.2 L1141.5,876.4 L1141.3,875.6 L1141.1,874.8 L1141.0,874.0 L1140.9,873.2 L1140.9,872.4 L1140.9,871.6 L1140.9,870.8 L1141.0,870.0 L1141.1,869.2 L1141.3,868.4 L1141.4,867.6 L1141.5,866.8 L1141.7,866.0 L1141.9,865.2 L1142.1,864.4 L1142.4,863.6 L1142.6,862.8 L1142.9,862.0 L1143.2,861.2 L1143.5,860.4 L1143.8,859.6 L1144.2,858.8 L1144.6,858.0 L1145.1,857.2 L1145.6,856.4 L1146.1,855.6 L1146.6,854.8 L1147.2,854.0 L1147.7,853.2 L1148.1,852.4 L1148.5,851.6 L1148.8,850.8 L1149.2,850.0 L1149.5,849.2 L1149.8,848.4 L1150.1,847.6 L1150.4,846.8 L1150.7,846.0 L1150.9,845.2 L1151.1,844.4 L1151.2,843.6 L1151.3,842.8 L1151.3,842.0 L1151.2,841.2 L1151.2,840.4 L1151.1,839.6 L1151.0,838.8 L1151.0,838.0 L1150.9,837.2 L1150.7,836.4 L1150.6,835.6 L1150.5,834.8 L1150.4,834.0 L1150.2,833.2 L1150.0,832.4 L1149.8,831.6 L1149.5,830.8 L1149.2,830.0 L1148.8,829.2 L1148.5,828.4 L1148.2,827.6 L1148.0,826.8 L1147.7,826.0 L1147.6,825.2 L1147.4,824.4 L1147.2,823.6 L1147.0,822.8 L1146.8,822.0 L1146.6,821.2 L1146.5,820.4 L1146.4,819.6 L1146.3,818.8 L1146.2,818.0 L1146.2,817.2 L1146.2,816.4 L1146.3,815.6 L1146.3,814.8 L1146.5,814.0 L1146.6,813.2 L1146.7,812.4 L1146.8,811.6 L1147.0,810.8 L1147.1,810.0 L1147.3,809.2 L1147.5,808.4 L1147.7,807.6 L1148.0,806.8 L1148.2,806.0 L1148.5,805.2 L1148.7,804.4 L1149.0,803.6 L1149.4,802.8 L1149.7,802.0 L1150.1,801.2 L1150.5,800.4 L1150.9,799.6 L1151.4,798.8 L1151.8,798.0 L1152.3,797.2 L1152.7,796.4 L1153.2,795.6 L1153.6,794.8 L1154.1,794.0 L1154.6,793.2 L1155.1,792.4 L1155.6,791.6 L1156.1,790.8 L1156.7,790.0 L1157.2,789.2 L1157.7,788.4 L1158.2,787.6 L1158.7,786.8 L1159.2,786.0 L1159.7,785.2 L1160.2,784.4 L1160.7,783.6 L1161.2,782.8 L1161.7,782.0 L1162.2,781.2 L1162.7,780.4 L1163.2,779.6 L1163.7,778.8 L1164.2,778.0 L1164.6,777.2 L1165.1,776.4 L1165.6,775.6 L1166.1,774.8 L1166.5,774.0 L1167.0,773.2 L1167.4,772.4 L1167.8,771.6 L1168.1,770.8 L1168.4,770.0 L1168.8,769.2 L1169.1,768.4 L1169.4,767.6 L1169.7,766.8 L1170.0,766.0 L1170.3,765.2 L1170.5,764.4 L1170.7,763.6 L1170.9,762.8 L1171.0,762.0 L1171.1,761.2 L1171.2,760.4 L1171.3,759.6 L1171.4,758.8 L1171.4,758.0 L1171.5,757.2 L1171.6,756.4 L1171.7,755.6 L1171.7,754.8 L1171.8,754.0 L1171.8,753.2 L1171.9,752.4 L1171.9,751.6 L1172.0,750.8 L1172.0,750.0 L1172.0,749.2 L1172.0,748.4 L1172.0,747.6 L1172.0,746.8Z" fill="#d9d9d9" stroke="#000" stroke-width="2.1" stroke-linejoin="round"/>
<g fill="#000"><rect x="1164.0" y="794.33" width="16.1" height="2.06"/><rect x="1164.0" y="812.88" width="16.1" height="2.27"/><rect x="1164.0" y="815.00" width="16.1" height="2.70"/><rect x="1164.0" y="831.01" width="16.1" height="2.06"/><rect x="1164.0" y="855.71" width="16.1" height="2.70"/><rect x="1164.0" y="869.06" width="16.1" height="2.27"/><rect x="1164.0" y="871.61" width="16.1" height="2.27"/><rect x="1164.0" y="881.36" width="16.1" height="2.27"/><rect x="1164.0" y="883.90" width="16.1" height="2.27"/><rect x="1164.0" y="901.39" width="16.1" height="2.06"/></g>
<line x1="1126.6" x2="1217.7" y1="850.1" y2="850.1" stroke="#000" stroke-width="3.9" stroke-linecap="round"/>
<path d="M1265.0,770.1 L1265.0,770.9 L1265.0,771.7 L1265.0,772.5 L1265.0,773.3 L1265.0,774.1 L1265.0,774.9 L1265.0,775.7 L1265.0,776.5 L1265.0,777.3 L1265.0,778.1 L1265.0,778.9 L1265.0,779.7 L1265.0,780.5 L1265.0,781.3 L1265.0,782.1 L1265.0,782.9 L1265.0,783.7 L1265.0,784.5 L1265.1,785.3 L1265.2,786.1 L1265.2,786.9 L1265.3,787.7 L1265.4,788.5 L1265.5,789.3 L1265.6,790.1 L1265.7,790.9 L1265.8,791.7 L1265.9,792.5 L1266.0,793.3 L1266.1,794.1 L1266.2,794.9 L1266.3,795.7 L1266.5,796.5 L1266.6,797.3 L1266.8,798.1 L1267.0,798.9 L1267.2,799.7 L1267.4,800.5 L1267.6,801.3 L1267.8,802.1 L1268.1,802.9 L1268.3,803.7 L1268.5,804.5 L1268.7,805.3 L1269.0,806.1 L1269.2,806.9 L1269.5,807.7 L1269.7,808.5 L1270.0,809.3 L1270.2,810.1 L1270.4,810.9 L1270.7,811.7 L1270.9,812.5 L1271.1,813.3 L1271.4,814.1 L1271.5,814.9 L1271.7,815.7 L1271.9,816.5 L1272.1,817.3 L1272.3,818.1 L1272.6,818.9 L1272.9,819.7 L1273.3,820.5 L1273.7,821.3 L1274.1,822.1 L1274.6,822.9 L1275.2,823.7 L1275.7,824.5 L1276.3,825.3 L1276.9,826.1 L1277.4,826.9 L1278.0,827.7 L1278.5,828.5 L1279.1,829.3 L1279.7,830.1 L1280.3,830.9 L1280.9,831.7 L1281.5,832.5 L1282.1,833.3 L1282.7,834.1 L1283.3,834.9 L1284.0,835.7 L1284.6,836.5 L1285.3,837.3 L1286.0,838.1 L1286.7,838.9 L1287.4,839.7 L1288.2,840.5 L1288.9,841.3 L1289.6,842.1 L1290.3,842.9 L1291.0,843.7 L1291.6,844.5 L1292.3,845.3 L1292.9,846.1 L1293.5,846.9 L1294.1,847.7 L1294.7,848.5 L1295.3,849.3 L1295.9,850.1 L1296.4,850.9 L1296.9,851.7 L1297.4,852.5 L1297.8,853.3 L1298.2,854.1 L1298.6,854.9 L1299.0,855.7 L1299.4,856.5 L1299.8,857.3 L1300.1,858.1 L1300.4,858.9 L1300.7,859.7 L1301.0,860.5 L1301.3,861.3 L1301.5,862.1 L1301.7,862.9 L1301.9,863.7 L1302.1,864.5 L1302.3,865.3 L1302.4,866.1 L1302.4,866.9 L1302.4,867.7 L1302.3,868.5 L1302.1,869.3 L1301.9,870.1 L1301.7,870.9 L1301.4,871.7 L1301.1,872.5 L1300.7,873.3 L1300.4,874.1 L1300.1,874.9 L1299.7,875.7 L1299.2,876.5 L1298.6,877.3 L1298.0,878.1 L1297.4,878.9 L1296.8,879.7 L1296.2,880.5 L1295.7,881.3 L1295.1,882.1 L1294.5,882.9 L1293.8,883.7 L1293.2,884.5 L1292.5,885.3 L1291.9,886.1 L1291.3,886.9 L1290.7,887.7 L1290.2,888.5 L1289.7,889.3 L1289.2,890.1 L1288.7,890.9 L1288.2,891.7 L1287.8,892.5 L1287.3,893.3 L1286.9,894.1 L1286.5,894.9 L1286.2,895.7 L1285.9,896.5 L1285.6,897.3 L1285.4,898.1 L1285.1,898.9 L1284.9,899.7 L1284.7,900.5 L1284.5,901.3 L1284.4,902.1 L1284.2,902.9 L1284.1,903.7 L1283.9,904.5 L1283.8,905.3 L1283.8,906.1 L1283.7,906.9 L1283.7,907.7 L1283.6,908.5 L1283.6,909.3 L1283.6,910.1 L1283.5,910.9 L1283.5,911.7 L1283.5,912.5 L1283.4,913.3 L1283.4,914.1 L1283.3,914.9 L1283.3,915.7 L1283.2,916.5 L1283.1,917.3 L1283.0,918.1 L1282.9,918.9 L1282.8,919.7 L1282.7,920.5 L1282.6,921.3 L1282.5,922.1 L1282.3,922.9 L1282.2,923.7 L1282.0,924.5 L1281.8,925.3 L1281.6,926.1 L1281.3,926.9 L1281.0,927.7 L1280.7,928.5 L1280.4,929.3 L1280.1,930.1 L1279.8,930.9 L1279.5,931.7 L1279.2,932.5 L1278.8,933.3 L1278.4,934.1 L1278.0,934.9 L1277.6,935.7 L1277.2,936.5 L1276.8,937.3 L1276.3,938.1 L1275.9,938.9 L1275.5,939.7 L1275.1,940.5 L1274.7,941.3 L1274.3,942.1 L1273.9,942.9 L1273.5,943.7 L1273.1,944.5 L1272.6,945.3 L1272.2,946.1 L1271.9,946.9 L1271.5,947.7 L1271.1,948.5 L1270.7,949.3 L1270.3,950.1 L1270.0,950.9 L1269.6,951.7 L1269.2,952.5 L1268.9,953.3 L1268.5,954.1 L1268.2,954.9 L1267.9,955.7 L1267.6,956.5 L1267.4,957.3 L1267.1,958.1 L1266.9,958.9 L1266.7,959.7 L1266.5,960.5 L1266.3,961.3 L1266.1,962.1 L1266.0,962.9 L1265.8,963.7 L1265.7,964.5 L1265.6,965.3 L1265.5,966.1 L1265.4,966.9 L1265.3,967.7 L1265.2,968.5 L1265.1,969.3 L1265.0,970.1 L1265.0,970.9 L1265.0,971.7 L1265.0,972.5 L1265.0,973.3 L1265.0,974.1 L1265.0,974.9 L1265.0,975.7 L1265.0,976.5 L1265.0,977.3 L1265.0,978.1 L1265.0,978.9 L1265.0,979.7 L1265.0,980.5 L1265.0,980.9 L1263.5,980.9 L1263.5,980.5 L1263.5,979.7 L1263.5,978.9 L1263.5,978.1 L1263.5,977.3 L1263.5,976.5 L1263.5,975.7 L1263.5,974.9 L1263.5,974.1 L1263.5,973.3 L1263.5,972.5 L1263.5,971.7 L1263.5,970.9 L1263.5,970.1 L1263.4,969.3 L1263.4,968.5 L1263.3,967.7 L1263.2,966.9 L1263.1,966.1 L1263.0,965.3 L1262.8,964.5 L1262.7,963.7 L1262.6,962.9 L1262.4,962.1 L1262.2,961.3 L1262.0,960.5 L1261.8,959.7 L1261.6,958.9 L1261.4,958.1 L1261.1,957.3 L1260.9,956.5 L1260.6,955.7 L1260.3,954.9 L1260.0,954.1 L1259.7,953.3 L1259.3,952.5 L1258.9,951.7 L1258.6,950.9 L1258.2,950.1 L1257.8,949.3 L1257.4,948.5 L1257.1,947.7 L1256.7,946.9 L1256.3,946.1 L1255.9,945.3 L1255.5,944.5 L1255.1,943.7 L1254.6,942.9 L1254.2,942.1 L1253.8,941.3 L1253.4,940.5 L1253.0,939.7 L1252.6,938.9 L1252.2,938.1 L1251.8,937.3 L1251.3,936.5 L1250.9,935.7 L1250.5,934.9 L1250.1,934.1 L1249.7,933.3 L1249.4,932.5 L1249.0,931.7 L1248.7,930.9 L1248.4,930.1 L1248.1,929.3 L1247.8,928.5 L1247.5,927.7 L1247.2,926.9 L1247.0,926.1 L1246.7,925.3 L1246.5,924.5 L1246.3,923.7 L1246.2,922.9 L1246.1,922.1 L1245.9,921.3 L1245.8,920.5 L1245.7,919.7 L1245.6,918.9 L1245.5,918.1 L1245.4,917.3 L1245.3,916.5 L1245.3,915.7 L1245.2,914.9 L1245.1,914.1 L1245.1,913.3 L1245.1,912.5 L1245.0,911.7 L1245.0,910.9 L1245.0,910.1 L1244.9,909.3 L1244.9,908.5 L1244.9,907.7 L1244.8,906.9 L1244.7,906.1 L1244.7,905.3 L1244.6,904.5 L1244.4,903.7 L1244.3,902.9 L1244.2,902.1 L1244.0,901.3 L1243.8,900.5 L1243.6,899.7 L1243.4,898.9 L1243.2,898.1 L1242.9,897.3 L1242.7,896.5 L1242.3,895.7 L1242.0,894.9 L1241.6,894.1 L1241.2,893.3 L1240.7,892.5 L1240.3,891.7 L1239.8,890.9 L1239.3,890.1 L1238.9,889.3 L1238.4,888.5 L1237.8,887.7 L1237.2,886.9 L1236.6,886.1 L1236.0,885.3 L1235.3,884.5 L1234.7,883.7 L1234.1,882.9 L1233.4,882.1 L1232.8,881.3 L1232.3,880.5 L1231.7,879.7 L1231.1,878.9 L1230.5,878.1 L1229.9,877.3 L1229.4,876.5 L1228.9,875.7 L1228.4,874.9 L1228.1,874.1 L1227.8,873.3 L1227.4,872.5 L1227.1,871.7 L1226.9,870.9 L1226.6,870.1 L1226.4,869.3 L1226.2,868.5 L1226.1,867.7 L1226.1,866.9 L1226.1,866.1 L1226.3,865.3 L1226.4,864.5 L1226.6,863.7 L1226.8,862.9 L1227.0,862.1 L1227.3,861.3 L1227.5,860.5 L1227.8,859.7 L1228.1,858.9 L1228.4,858.1 L1228.7,857.3 L1229.1,856.5 L1229.5,855.7 L1229.9,854.9 L1230.3,854.1 L1230.7,853.3 L1231.2,852.5 L1231.6,851.7 L1232.1,850.9 L1232.7,850.1 L1233.2,849.3 L1233.8,848.5 L1234.4,847.7 L1235.0,846.9 L1235.6,846.1 L1236.3,845.3 L1236.9,844.5 L1237.5,843.7 L1238.2,842.9 L1238.9,842.1 L1239.6,841.3 L1240.4,840.5 L1241.1,839.7 L1241.8,838.9 L1242.5,838.1 L1243.2,837.3 L1243.9,836.5 L1244.6,835.7 L1245.2,834.9 L1245.8,834.1 L1246.4,833.3 L1247.1,832.5 L1247.7,831.7 L1248.3,830.9 L1248.8,830.1 L1249.4,829.3 L1250.0,828.5 L1250.5,827.7 L1251.1,826.9 L1251.6,826.1 L1252.2,825.3 L1252.8,824.5 L1253.3,823.7 L1253.9,822.9 L1254.4,822.1 L1254.8,821.3 L1255.3,820.5 L1255.6,819.7 L1255.9,818.9 L1256.2,818.1 L1256.4,817.3 L1256.6,816.5 L1256.8,815.7 L1257.0,814.9 L1257.2,814.1 L1257.4,813.3 L1257.6,812.5 L1257.8,811.7 L1258.1,810.9 L1258.3,810.1 L1258.6,809.3 L1258.8,808.5 L1259.1,807.7 L1259.3,806.9 L1259.5,806.1 L1259.8,805.3 L1260.0,804.5 L1260.2,803.7 L1260.4,802.9 L1260.7,802.1 L1260.9,801.3 L1261.1,800.5 L1261.3,799.7 L1261.5,798.9 L1261.7,798.1 L1261.9,797.3 L1262.0,796.5 L1262.2,795.7 L1262.3,794.9 L1262.4,794.1 L1262.5,793.3 L1262.7,792.5 L1262.8,791.7 L1262.9,790.9 L1263.0,790.1 L1263.0,789.3 L1263.1,788.5 L1263.2,787.7 L1263.3,786.9 L1263.4,786.1 L1263.4,785.3 L1263.5,784.5 L1263.5,783.7 L1263.5,782.9 L1263.5,782.1 L1263.5,781.3 L1263.5,780.5 L1263.5,779.7 L1263.5,778.9 L1263.5,778.1 L1263.5,777.3 L1263.5,776.5 L1263.5,775.7 L1263.5,774.9 L1263.5,774.1 L1263.5,773.3 L1263.5,772.5 L1263.5,771.7 L1263.5,770.9 L1263.5,770.1Z" fill="#000" stroke="#000" stroke-width="0.5" stroke-linejoin="round"/>
<clipPath id="bc5"><path d="M1265.0,770.1 L1265.0,770.9 L1265.0,771.7 L1265.0,772.5 L1265.0,773.3 L1265.0,774.1 L1265.0,774.9 L1265.0,775.7 L1265.0,776.5 L1265.0,777.3 L1265.0,778.1 L1265.0,778.9 L1265.0,779.7 L1265.0,780.5 L1265.0,781.3 L1265.0,782.1 L1265.0,782.9 L1265.0,783.7 L1265.0,784.5 L1265.1,785.3 L1265.2,786.1 L1265.2,786.9 L1265.3,787.7 L1265.4,788.5 L1265.5,789.3 L1265.6,790.1 L1265.7,790.9 L1265.8,791.7 L1265.9,792.5 L1266.0,793.3 L1266.1,794.1 L1266.2,794.9 L1266.3,795.7 L1266.5,796.5 L1266.6,797.3 L1266.8,798.1 L1267.0,798.9 L1267.2,799.7 L1267.4,800.5 L1267.6,801.3 L1267.8,802.1 L1268.1,802.9 L1268.3,803.7 L1268.5,804.5 L1268.7,805.3 L1269.0,806.1 L1269.2,806.9 L1269.5,807.7 L1269.7,808.5 L1270.0,809.3 L1270.2,810.1 L1270.4,810.9 L1270.7,811.7 L1270.9,812.5 L1271.1,813.3 L1271.4,814.1 L1271.5,814.9 L1271.7,815.7 L1271.9,816.5 L1272.1,817.3 L1272.3,818.1 L1272.6,818.9 L1272.9,819.7 L1273.3,820.5 L1273.7,821.3 L1274.1,822.1 L1274.6,822.9 L1275.2,823.7 L1275.7,824.5 L1276.3,825.3 L1276.9,826.1 L1277.4,826.9 L1278.0,827.7 L1278.5,828.5 L1279.1,829.3 L1279.7,830.1 L1280.3,830.9 L1280.9,831.7 L1281.5,832.5 L1282.1,833.3 L1282.7,834.1 L1283.3,834.9 L1284.0,835.7 L1284.6,836.5 L1285.3,837.3 L1286.0,838.1 L1286.7,838.9 L1287.4,839.7 L1288.2,840.5 L1288.9,841.3 L1289.6,842.1 L1290.3,842.9 L1291.0,843.7 L1291.6,844.5 L1292.3,845.3 L1292.9,846.1 L1293.5,846.9 L1294.1,847.7 L1294.7,848.5 L1295.3,849.3 L1295.9,850.1 L1296.4,850.9 L1296.9,851.7 L1297.4,852.5 L1297.8,853.3 L1298.2,854.1 L1298.6,854.9 L1299.0,855.7 L1299.4,856.5 L1299.8,857.3 L1300.1,858.1 L1300.4,858.9 L1300.7,859.7 L1301.0,860.5 L1301.3,861.3 L1301.5,862.1 L1301.7,862.9 L1301.9,863.7 L1302.1,864.5 L1302.3,865.3 L1302.4,866.1 L1302.4,866.9 L1302.4,867.7 L1302.3,868.5 L1302.1,869.3 L1301.9,870.1 L1301.7,870.9 L1301.4,871.7 L1301.1,872.5 L1300.7,873.3 L1300.4,874.1 L1300.1,874.9 L1299.7,875.7 L1299.2,876.5 L1298.6,877.3 L1298.0,878.1 L1297.4,878.9 L1296.8,879.7 L1296.2,880.5 L1295.7,881.3 L1295.1,882.1 L1294.5,882.9 L1293.8,883.7 L1293.2,884.5 L1292.5,885.3 L1291.9,886.1 L1291.3,886.9 L1290.7,887.7 L1290.2,888.5 L1289.7,889.3 L1289.2,890.1 L1288.7,890.9 L1288.2,891.7 L1287.8,892.5 L1287.3,893.3 L1286.9,894.1 L1286.5,894.9 L1286.2,895.7 L1285.9,896.5 L1285.6,897.3 L1285.4,898.1 L1285.1,898.9 L1284.9,899.7 L1284.7,900.5 L1284.5,901.3 L1284.4,902.1 L1284.2,902.9 L1284.1,903.7 L1283.9,904.5 L1283.8,905.3 L1283.8,906.1 L1283.7,906.9 L1283.7,907.7 L1283.6,908.5 L1283.6,909.3 L1283.6,910.1 L1283.5,910.9 L1283.5,911.7 L1283.5,912.5 L1283.4,913.3 L1283.4,914.1 L1283.3,914.9 L1283.3,915.7 L1283.2,916.5 L1283.1,917.3 L1283.0,918.1 L1282.9,918.9 L1282.8,919.7 L1282.7,920.5 L1282.6,921.3 L1282.5,922.1 L1282.3,922.9 L1282.2,923.7 L1282.0,924.5 L1281.8,925.3 L1281.6,926.1 L1281.3,926.9 L1281.0,927.7 L1280.7,928.5 L1280.4,929.3 L1280.1,930.1 L1279.8,930.9 L1279.5,931.7 L1279.2,932.5 L1278.8,933.3 L1278.4,934.1 L1278.0,934.9 L1277.6,935.7 L1277.2,936.5 L1276.8,937.3 L1276.3,938.1 L1275.9,938.9 L1275.5,939.7 L1275.1,940.5 L1274.7,941.3 L1274.3,942.1 L1273.9,942.9 L1273.5,943.7 L1273.1,944.5 L1272.6,945.3 L1272.2,946.1 L1271.9,946.9 L1271.5,947.7 L1271.1,948.5 L1270.7,949.3 L1270.3,950.1 L1270.0,950.9 L1269.6,951.7 L1269.2,952.5 L1268.9,953.3 L1268.5,954.1 L1268.2,954.9 L1267.9,955.7 L1267.6,956.5 L1267.4,957.3 L1267.1,958.1 L1266.9,958.9 L1266.7,959.7 L1266.5,960.5 L1266.3,961.3 L1266.1,962.1 L1266.0,962.9 L1265.8,963.7 L1265.7,964.5 L1265.6,965.3 L1265.5,966.1 L1265.4,966.9 L1265.3,967.7 L1265.2,968.5 L1265.1,969.3 L1265.0,970.1 L1265.0,970.9 L1265.0,971.7 L1265.0,972.5 L1265.0,973.3 L1265.0,974.1 L1265.0,974.9 L1265.0,975.7 L1265.0,976.5 L1265.0,977.3 L1265.0,978.1 L1265.0,978.9 L1265.0,979.7 L1265.0,980.5 L1265.0,980.9 L1263.5,980.9 L1263.5,980.5 L1263.5,979.7 L1263.5,978.9 L1263.5,978.1 L1263.5,977.3 L1263.5,976.5 L1263.5,975.7 L1263.5,974.9 L1263.5,974.1 L1263.5,973.3 L1263.5,972.5 L1263.5,971.7 L1263.5,970.9 L1263.5,970.1 L1263.4,969.3 L1263.4,968.5 L1263.3,967.7 L1263.2,966.9 L1263.1,966.1 L1263.0,965.3 L1262.8,964.5 L1262.7,963.7 L1262.6,962.9 L1262.4,962.1 L1262.2,961.3 L1262.0,960.5 L1261.8,959.7 L1261.6,958.9 L1261.4,958.1 L1261.1,957.3 L1260.9,956.5 L1260.6,955.7 L1260.3,954.9 L1260.0,954.1 L1259.7,953.3 L1259.3,952.5 L1258.9,951.7 L1258.6,950.9 L1258.2,950.1 L1257.8,949.3 L1257.4,948.5 L1257.1,947.7 L1256.7,946.9 L1256.3,946.1 L1255.9,945.3 L1255.5,944.5 L1255.1,943.7 L1254.6,942.9 L1254.2,942.1 L1253.8,941.3 L1253.4,940.5 L1253.0,939.7 L1252.6,938.9 L1252.2,938.1 L1251.8,937.3 L1251.3,936.5 L1250.9,935.7 L1250.5,934.9 L1250.1,934.1 L1249.7,933.3 L1249.4,932.5 L1249.0,931.7 L1248.7,930.9 L1248.4,930.1 L1248.1,929.3 L1247.8,928.5 L1247.5,927.7 L1247.2,926.9 L1247.0,926.1 L1246.7,925.3 L1246.5,924.5 L1246.3,923.7 L1246.2,922.9 L1246.1,922.1 L1245.9,921.3 L1245.8,920.5 L1245.7,919.7 L1245.6,918.9 L1245.5,918.1 L1245.4,917.3 L1245.3,916.5 L1245.3,915.7 L1245.2,914.9 L1245.1,914.1 L1245.1,913.3 L1245.1,912.5 L1245.0,911.7 L1245.0,910.9 L1245.0,910.1 L1244.9,909.3 L1244.9,908.5 L1244.9,907.7 L1244.8,906.9 L1244.7,906.1 L1244.7,905.3 L1244.6,904.5 L1244.4,903.7 L1244.3,902.9 L1244.2,902.1 L1244.0,901.3 L1243.8,900.5 L1243.6,899.7 L1243.4,898.9 L1243.2,898.1 L1242.9,897.3 L1242.7,896.5 L1242.3,895.7 L1242.0,894.9 L1241.6,894.1 L1241.2,893.3 L1240.7,892.5 L1240.3,891.7 L1239.8,890.9 L1239.3,890.1 L1238.9,889.3 L1238.4,888.5 L1237.8,887.7 L1237.2,886.9 L1236.6,886.1 L1236.0,885.3 L1235.3,884.5 L1234.7,883.7 L1234.1,882.9 L1233.4,882.1 L1232.8,881.3 L1232.3,880.5 L1231.7,879.7 L1231.1,878.9 L1230.5,878.1 L1229.9,877.3 L1229.4,876.5 L1228.9,875.7 L1228.4,874.9 L1228.1,874.1 L1227.8,873.3 L1227.4,872.5 L1227.1,871.7 L1226.9,870.9 L1226.6,870.1 L1226.4,869.3 L1226.2,868.5 L1226.1,867.7 L1226.1,866.9 L1226.1,866.1 L1226.3,865.3 L1226.4,864.5 L1226.6,863.7 L1226.8,862.9 L1227.0,862.1 L1227.3,861.3 L1227.5,860.5 L1227.8,859.7 L1228.1,858.9 L1228.4,858.1 L1228.7,857.3 L1229.1,856.5 L1229.5,855.7 L1229.9,854.9 L1230.3,854.1 L1230.7,853.3 L1231.2,852.5 L1231.6,851.7 L1232.1,850.9 L1232.7,850.1 L1233.2,849.3 L1233.8,848.5 L1234.4,847.7 L1235.0,846.9 L1235.6,846.1 L1236.3,845.3 L1236.9,844.5 L1237.5,843.7 L1238.2,842.9 L1238.9,842.1 L1239.6,841.3 L1240.4,840.5 L1241.1,839.7 L1241.8,838.9 L1242.5,838.1 L1243.2,837.3 L1243.9,836.5 L1244.6,835.7 L1245.2,834.9 L1245.8,834.1 L1246.4,833.3 L1247.1,832.5 L1247.7,831.7 L1248.3,830.9 L1248.8,830.1 L1249.4,829.3 L1250.0,828.5 L1250.5,827.7 L1251.1,826.9 L1251.6,826.1 L1252.2,825.3 L1252.8,824.5 L1253.3,823.7 L1253.9,822.9 L1254.4,822.1 L1254.8,821.3 L1255.3,820.5 L1255.6,819.7 L1255.9,818.9 L1256.2,818.1 L1256.4,817.3 L1256.6,816.5 L1256.8,815.7 L1257.0,814.9 L1257.2,814.1 L1257.4,813.3 L1257.6,812.5 L1257.8,811.7 L1258.1,810.9 L1258.3,810.1 L1258.6,809.3 L1258.8,808.5 L1259.1,807.7 L1259.3,806.9 L1259.5,806.1 L1259.8,805.3 L1260.0,804.5 L1260.2,803.7 L1260.4,802.9 L1260.7,802.1 L1260.9,801.3 L1261.1,800.5 L1261.3,799.7 L1261.5,798.9 L1261.7,798.1 L1261.9,797.3 L1262.0,796.5 L1262.2,795.7 L1262.3,794.9 L1262.4,794.1 L1262.5,793.3 L1262.7,792.5 L1262.8,791.7 L1262.9,790.9 L1263.0,790.1 L1263.0,789.3 L1263.1,788.5 L1263.2,787.7 L1263.3,786.9 L1263.4,786.1 L1263.4,785.3 L1263.5,784.5 L1263.5,783.7 L1263.5,782.9 L1263.5,782.1 L1263.5,781.3 L1263.5,780.5 L1263.5,779.7 L1263.5,778.9 L1263.5,778.1 L1263.5,777.3 L1263.5,776.5 L1263.5,775.7 L1263.5,774.9 L1263.5,774.1 L1263.5,773.3 L1263.5,772.5 L1263.5,771.7 L1263.5,770.9 L1263.5,770.1Z"/></clipPath>
<g fill="#fff" clip-path="url(#bc5)"><rect x="1256.4" y="817.75" width="15.7" height="2.30"/><rect x="1256.4" y="834.92" width="15.7" height="2.72"/><rect x="1256.4" y="842.98" width="15.7" height="2.72"/><rect x="1256.4" y="849.97" width="15.7" height="2.30"/><rect x="1256.4" y="853.15" width="15.7" height="2.30"/><rect x="1256.4" y="856.33" width="15.7" height="2.30"/><rect x="1256.4" y="859.51" width="15.7" height="2.30"/><rect x="1256.4" y="871.17" width="15.7" height="4.42"/><rect x="1256.4" y="876.90" width="15.7" height="2.30"/><rect x="1256.4" y="886.01" width="15.7" height="2.30"/><rect x="1256.4" y="893.43" width="15.7" height="2.30"/><rect x="1256.4" y="899.79" width="15.7" height="2.30"/><rect x="1256.4" y="906.15" width="15.7" height="2.30"/><rect x="1256.4" y="910.60" width="15.7" height="2.72"/><rect x="1256.4" y="916.96" width="15.7" height="2.72"/><rect x="1256.4" y="926.29" width="15.7" height="2.30"/><rect x="1256.4" y="929.47" width="15.7" height="2.30"/></g>
<line x1="1218.2" x2="1309.9" y1="877.2" y2="877.2" stroke="#000" stroke-width="3.9" stroke-linecap="round"/>
<g fill="#fff" clip-path="url(#bc5)"><rect x="1256.4" y="817.75" width="15.7" height="2.30"/><rect x="1256.4" y="834.92" width="15.7" height="2.72"/><rect x="1256.4" y="842.98" width="15.7" height="2.72"/><rect x="1256.4" y="849.97" width="15.7" height="2.30"/><rect x="1256.4" y="853.15" width="15.7" height="2.30"/><rect x="1256.4" y="856.33" width="15.7" height="2.30"/><rect x="1256.4" y="859.51" width="15.7" height="2.30"/><rect x="1256.4" y="871.17" width="15.7" height="4.42"/><rect x="1256.4" y="876.90" width="15.7" height="2.30"/><rect x="1256.4" y="886.01" width="15.7" height="2.30"/><rect x="1256.4" y="893.43" width="15.7" height="2.30"/><rect x="1256.4" y="899.79" width="15.7" height="2.30"/><rect x="1256.4" y="906.15" width="15.7" height="2.30"/><rect x="1256.4" y="910.60" width="15.7" height="2.72"/><rect x="1256.4" y="916.96" width="15.7" height="2.72"/><rect x="1256.4" y="926.29" width="15.7" height="2.30"/><rect x="1256.4" y="929.47" width="15.7" height="2.30"/></g>
<line x1="1440.4" x2="1440.4" y1="761.2" y2="981.5" stroke="#000" stroke-width="2.1" stroke-linecap="butt"/>
<line x1="1434.7" x2="1440.9" y1="762.2" y2="762.2" stroke="#000" stroke-width="2.1"/>
<line x1="1434.7" x2="1440.9" y1="795.1" y2="795.1" stroke="#000" stroke-width="2.1"/>
<line x1="1434.7" x2="1440.9" y1="827.4" y2="827.4" stroke="#000" stroke-width="2.1"/>
<line x1="1434.7" x2="1440.9" y1="871.4" y2="871.4" stroke="#000" stroke-width="2.1"/>
<line x1="1434.7" x2="1440.9" y1="904.1" y2="904.1" stroke="#000" stroke-width="2.1"/>
<line x1="1434.7" x2="1440.9" y1="937.4" y2="937.4" stroke="#000" stroke-width="2.1"/>
<line x1="1434.7" x2="1440.9" y1="980.5" y2="980.5" stroke="#000" stroke-width="2.1"/>
<text x="1430.2" y="758.8" font-size="28.6" text-anchor="middle" fill="#000" transform="rotate(-90 1430.2 758.8)" textLength="43.2" lengthAdjust="spacingAndGlyphs">20.0</text>
<text x="1430.2" y="828.4" font-size="28.6" text-anchor="middle" fill="#000" transform="rotate(-90 1430.2 828.4)" textLength="33.6" lengthAdjust="spacingAndGlyphs">5.0</text>
<text x="1430.2" y="903.7" font-size="28.6" text-anchor="middle" fill="#000" transform="rotate(-90 1430.2 903.7)" textLength="32.7" lengthAdjust="spacingAndGlyphs">1.0</text>
<text x="1430.2" y="982.2" font-size="28.6" text-anchor="middle" fill="#000" transform="rotate(-90 1430.2 982.2)" textLength="32.7" lengthAdjust="spacingAndGlyphs">0.2</text>
<text x="1397.0" y="841.8" font-size="36" text-anchor="middle" fill="#000" transform="rotate(-90 1397.0 841.8)" textLength="182.3" lengthAdjust="spacingAndGlyphs">Nicotinamide</text>
<text x="1546.7" y="733.1" font-size="30" text-anchor="middle" textLength="142.8" lengthAdjust="spacingAndGlyphs"><tspan font-style="italic">P</tspan> = 0.0001</text>
<path d="M1493.1,837.1 L1493.2,837.9 L1493.2,838.7 L1493.3,839.5 L1493.4,840.3 L1493.5,841.1 L1493.6,841.9 L1493.7,842.7 L1493.8,843.5 L1493.9,844.3 L1494.1,845.1 L1494.2,845.9 L1494.4,846.7 L1494.5,847.5 L1494.7,848.3 L1494.9,849.1 L1495.1,849.9 L1495.3,850.7 L1495.5,851.5 L1495.7,852.3 L1496.0,853.1 L1496.2,853.9 L1496.3,854.7 L1496.6,855.5 L1496.8,856.3 L1497.0,857.1 L1497.2,857.9 L1497.4,858.7 L1497.6,859.5 L1497.8,860.3 L1497.9,861.1 L1498.1,861.9 L1498.2,862.7 L1498.4,863.5 L1498.5,864.3 L1498.6,865.1 L1498.6,865.9 L1498.5,866.7 L1498.3,867.5 L1498.1,868.3 L1498.0,869.1 L1497.9,869.9 L1497.9,870.7 L1497.8,871.5 L1497.8,872.3 L1497.8,873.1 L1497.9,873.9 L1498.0,874.7 L1498.2,875.5 L1498.5,876.3 L1498.9,877.1 L1499.3,877.9 L1499.7,878.7 L1500.1,879.5 L1500.7,880.3 L1501.5,881.1 L1502.3,881.9 L1503.2,882.7 L1504.2,883.5 L1505.2,884.3 L1506.4,885.1 L1507.7,885.9 L1509.2,886.7 L1510.6,887.5 L1512.0,888.3 L1513.3,889.1 L1514.6,889.9 L1515.9,890.7 L1517.2,891.5 L1518.5,892.3 L1519.8,893.1 L1520.9,893.9 L1522.0,894.7 L1523.0,895.5 L1523.9,896.3 L1524.8,897.1 L1525.7,897.9 L1526.5,898.7 L1527.2,899.5 L1527.9,900.3 L1528.5,901.1 L1528.9,901.9 L1529.2,902.7 L1529.5,903.5 L1529.8,904.3 L1530.0,905.1 L1530.2,905.9 L1530.3,906.7 L1530.3,907.5 L1530.2,908.3 L1530.0,909.1 L1529.7,909.9 L1529.3,910.7 L1528.9,911.5 L1528.4,912.3 L1527.9,913.1 L1527.3,913.9 L1526.5,914.7 L1525.7,915.5 L1524.8,916.3 L1523.9,917.1 L1523.0,917.9 L1522.1,918.7 L1521.3,919.5 L1520.4,920.3 L1519.5,921.1 L1518.6,921.9 L1517.6,922.7 L1516.7,923.5 L1515.8,924.3 L1514.9,925.1 L1514.0,925.9 L1513.2,926.7 L1512.4,927.5 L1511.6,928.3 L1510.8,929.1 L1510.0,929.9 L1509.2,930.7 L1508.4,931.5 L1507.6,932.3 L1506.8,933.1 L1506.0,933.9 L1505.2,934.7 L1504.3,935.5 L1503.5,936.3 L1502.7,937.1 L1501.9,937.9 L1501.2,938.7 L1500.5,939.5 L1499.8,940.3 L1499.1,941.1 L1498.4,941.9 L1497.8,942.7 L1497.1,943.5 L1496.6,944.3 L1496.1,945.1 L1495.7,945.9 L1495.3,946.7 L1495.0,947.5 L1494.7,948.3 L1494.4,949.1 L1494.2,949.9 L1494.0,950.7 L1493.9,951.5 L1493.8,952.3 L1493.7,953.1 L1493.6,953.9 L1493.5,954.7 L1493.5,955.5 L1493.4,956.3 L1493.3,957.1 L1493.3,957.9 L1493.2,958.7 L1493.2,959.5 L1493.2,960.3 L1493.1,961.1 L1493.1,961.9 L1493.1,962.3 L1493.1,962.3 L1493.1,961.9 L1493.1,961.1 L1493.1,960.3 L1493.1,959.5 L1493.0,958.7 L1493.0,957.9 L1492.9,957.1 L1492.9,956.3 L1492.8,955.5 L1492.7,954.7 L1492.6,953.9 L1492.5,953.1 L1492.5,952.3 L1492.4,951.5 L1492.2,950.7 L1492.1,949.9 L1491.9,949.1 L1491.6,948.3 L1491.3,947.5 L1490.9,946.7 L1490.6,945.9 L1490.2,945.1 L1489.7,944.3 L1489.1,943.5 L1488.5,942.7 L1487.8,941.9 L1487.2,941.1 L1486.5,940.3 L1485.8,939.5 L1485.1,938.7 L1484.3,937.9 L1483.6,937.1 L1482.7,936.3 L1481.9,935.5 L1481.1,934.7 L1480.2,933.9 L1479.4,933.1 L1478.6,932.3 L1477.8,931.5 L1477.0,930.7 L1476.2,929.9 L1475.5,929.1 L1474.7,928.3 L1473.9,927.5 L1473.0,926.7 L1472.2,925.9 L1471.3,925.1 L1470.5,924.3 L1469.5,923.5 L1468.6,922.7 L1467.7,921.9 L1466.8,921.1 L1465.9,920.3 L1465.0,919.5 L1464.1,918.7 L1463.2,917.9 L1462.3,917.1 L1461.4,916.3 L1460.5,915.5 L1459.7,914.7 L1459.0,913.9 L1458.3,913.1 L1457.8,912.3 L1457.4,911.5 L1457.0,910.7 L1456.6,909.9 L1456.2,909.1 L1456.0,908.3 L1455.9,907.5 L1456.0,906.7 L1456.1,905.9 L1456.3,905.1 L1456.5,904.3 L1456.7,903.5 L1457.0,902.7 L1457.3,901.9 L1457.8,901.1 L1458.4,900.3 L1459.0,899.5 L1459.8,898.7 L1460.6,897.9 L1461.5,897.1 L1462.3,896.3 L1463.2,895.5 L1464.2,894.7 L1465.3,893.9 L1466.5,893.1 L1467.7,892.3 L1469.0,891.5 L1470.3,890.7 L1471.6,889.9 L1472.9,889.1 L1474.2,888.3 L1475.6,887.5 L1477.1,886.7 L1478.5,885.9 L1479.8,885.1 L1481.0,884.3 L1482.0,883.5 L1483.0,882.7 L1483.9,881.9 L1484.8,881.1 L1485.5,880.3 L1486.1,879.5 L1486.6,878.7 L1487.0,877.9 L1487.4,877.1 L1487.7,876.3 L1488.0,875.5 L1488.2,874.7 L1488.4,873.9 L1488.4,873.1 L1488.4,872.3 L1488.4,871.5 L1488.4,870.7 L1488.3,869.9 L1488.3,869.1 L1488.2,868.3 L1488.0,867.5 L1487.8,866.7 L1487.6,865.9 L1487.6,865.1 L1487.7,864.3 L1487.8,863.5 L1488.0,862.7 L1488.2,861.9 L1488.3,861.1 L1488.5,860.3 L1488.7,859.5 L1488.9,858.7 L1489.1,857.9 L1489.3,857.1 L1489.5,856.3 L1489.7,855.5 L1489.9,854.7 L1490.1,853.9 L1490.3,853.1 L1490.5,852.3 L1490.7,851.5 L1490.9,850.7 L1491.1,849.9 L1491.3,849.1 L1491.5,848.3 L1491.7,847.5 L1491.9,846.7 L1492.0,845.9 L1492.2,845.1 L1492.3,844.3 L1492.4,843.5 L1492.5,842.7 L1492.6,841.9 L1492.7,841.1 L1492.8,840.3 L1492.9,839.5 L1493.0,838.7 L1493.1,837.9 L1493.1,837.1Z" fill="#d9d9d9" stroke="#000" stroke-width="2.1" stroke-linejoin="round"/>
<g fill="#000"><rect x="1485.6" y="864.60" width="15.1" height="2.01"/><rect x="1485.3" y="892.41" width="15.7" height="3.35"/><rect x="1485.3" y="899.44" width="15.7" height="2.68"/><rect x="1485.3" y="902.62" width="15.7" height="2.34"/><rect x="1485.3" y="909.32" width="15.7" height="3.01"/><rect x="1485.3" y="914.52" width="15.7" height="2.68"/><rect x="1485.3" y="922.56" width="15.7" height="3.35"/><rect x="1485.3" y="925.91" width="15.7" height="2.34"/><rect x="1485.3" y="932.10" width="15.7" height="2.68"/></g>
<line x1="1448.0" x2="1538.6" y1="907.1" y2="907.1" stroke="#000" stroke-width="3.9" stroke-linecap="round"/>
<path d="M1585.2,758.7 L1585.2,759.5 L1585.2,760.3 L1585.2,761.1 L1585.2,761.9 L1585.2,762.7 L1585.2,763.5 L1585.2,764.3 L1585.2,765.1 L1585.2,765.9 L1585.2,766.7 L1585.4,767.5 L1585.5,768.3 L1585.6,769.1 L1585.7,769.9 L1585.9,770.7 L1586.0,771.5 L1586.2,772.3 L1586.4,773.1 L1586.6,773.9 L1586.8,774.7 L1587.0,775.5 L1587.2,776.3 L1587.4,777.1 L1587.6,777.9 L1587.8,778.7 L1588.0,779.5 L1588.3,780.3 L1588.5,781.1 L1588.7,781.9 L1589.0,782.7 L1589.1,783.5 L1589.3,784.3 L1589.4,785.1 L1589.5,785.9 L1589.6,786.7 L1589.7,787.5 L1589.8,788.3 L1589.8,789.1 L1589.9,789.9 L1589.9,790.7 L1589.9,791.5 L1589.9,792.3 L1589.9,793.1 L1589.8,793.9 L1589.6,794.7 L1589.5,795.5 L1589.5,796.3 L1589.4,797.1 L1589.5,797.9 L1589.5,798.7 L1589.6,799.5 L1589.7,800.3 L1589.8,801.1 L1590.0,801.9 L1590.1,802.7 L1590.3,803.5 L1590.4,804.3 L1590.6,805.1 L1590.8,805.9 L1591.0,806.7 L1591.2,807.5 L1591.4,808.3 L1591.7,809.1 L1592.0,809.9 L1592.3,810.7 L1592.6,811.5 L1592.9,812.3 L1593.4,813.1 L1593.8,813.9 L1594.4,814.7 L1595.0,815.5 L1595.5,816.3 L1596.1,817.1 L1596.6,817.9 L1597.0,818.7 L1597.4,819.5 L1597.7,820.3 L1598.1,821.1 L1598.4,821.9 L1598.7,822.7 L1599.0,823.5 L1599.2,824.3 L1599.4,825.1 L1599.6,825.9 L1599.7,826.7 L1599.8,827.5 L1599.9,828.3 L1600.0,829.1 L1600.0,829.9 L1600.1,830.7 L1600.2,831.5 L1600.4,832.3 L1600.5,833.1 L1600.7,833.9 L1600.9,834.7 L1601.0,835.5 L1601.3,836.3 L1601.5,837.1 L1601.7,837.9 L1602.0,838.7 L1602.3,839.5 L1602.6,840.3 L1603.0,841.1 L1603.4,841.9 L1603.8,842.7 L1604.2,843.5 L1604.7,844.3 L1605.1,845.1 L1605.6,845.9 L1606.1,846.7 L1606.6,847.5 L1607.2,848.3 L1607.7,849.1 L1608.2,849.9 L1608.7,850.7 L1609.2,851.5 L1609.6,852.3 L1610.0,853.1 L1610.4,853.9 L1610.8,854.7 L1611.1,855.5 L1611.2,856.3 L1611.1,857.1 L1610.9,857.9 L1610.6,858.7 L1610.2,859.5 L1609.8,860.3 L1609.3,861.1 L1608.9,861.9 L1608.4,862.7 L1607.9,863.5 L1607.4,864.3 L1606.8,865.1 L1606.1,865.9 L1605.5,866.7 L1604.8,867.5 L1604.2,868.3 L1603.5,869.1 L1602.8,869.9 L1602.1,870.7 L1601.3,871.5 L1600.5,872.3 L1599.8,873.1 L1599.1,873.9 L1598.4,874.7 L1597.9,875.5 L1597.4,876.3 L1597.0,877.1 L1596.5,877.9 L1596.1,878.7 L1595.8,879.5 L1595.5,880.3 L1595.2,881.1 L1594.9,881.9 L1594.7,882.7 L1594.5,883.5 L1594.4,884.3 L1594.2,885.1 L1594.1,885.9 L1594.0,886.7 L1593.8,887.5 L1593.7,888.3 L1593.6,889.1 L1593.5,889.9 L1593.4,890.7 L1593.3,891.5 L1593.2,892.3 L1593.2,893.1 L1593.1,893.9 L1593.0,894.7 L1592.8,895.5 L1592.7,896.3 L1592.5,897.1 L1592.3,897.9 L1592.0,898.7 L1591.8,899.5 L1591.5,900.3 L1591.2,901.1 L1591.0,901.9 L1590.7,902.7 L1590.4,903.5 L1590.0,904.3 L1589.7,905.1 L1589.4,905.9 L1589.0,906.7 L1588.7,907.5 L1588.4,908.3 L1588.1,909.1 L1587.9,909.9 L1587.6,910.7 L1587.4,911.5 L1587.1,912.3 L1586.9,913.1 L1586.7,913.9 L1586.6,914.7 L1586.5,915.5 L1586.4,916.3 L1586.3,917.1 L1586.3,917.9 L1586.2,918.7 L1586.2,919.5 L1586.1,920.3 L1586.1,921.1 L1586.1,921.9 L1586.1,922.7 L1586.1,923.5 L1586.2,924.3 L1586.4,925.1 L1586.6,925.9 L1586.8,926.7 L1587.0,927.5 L1587.2,928.3 L1587.4,929.1 L1587.6,929.9 L1587.9,930.7 L1588.2,931.5 L1588.5,932.3 L1588.8,933.1 L1589.0,933.9 L1589.2,934.7 L1589.4,935.5 L1589.5,936.3 L1589.5,937.1 L1589.6,937.9 L1589.6,938.7 L1589.7,939.5 L1589.7,940.3 L1589.8,941.1 L1589.8,941.9 L1589.8,942.7 L1589.7,943.5 L1589.7,944.3 L1589.6,945.1 L1589.4,945.9 L1589.3,946.7 L1589.1,947.5 L1589.0,948.3 L1588.7,949.1 L1588.5,949.9 L1588.2,950.7 L1587.9,951.5 L1587.6,952.3 L1587.3,953.1 L1587.0,953.9 L1586.8,954.7 L1586.7,955.5 L1586.5,956.3 L1586.3,957.1 L1586.2,957.9 L1586.0,958.7 L1585.9,959.5 L1585.8,960.3 L1585.6,961.1 L1585.5,961.9 L1585.4,962.7 L1585.3,963.5 L1585.2,964.3 L1585.2,965.1 L1585.2,965.9 L1585.2,966.7 L1585.2,967.5 L1585.2,968.3 L1585.2,969.1 L1585.2,969.9 L1585.2,970.7 L1585.2,971.5 L1585.2,972.3 L1585.2,973.1 L1585.2,973.1 L1583.7,973.1 L1583.7,973.1 L1583.7,972.3 L1583.7,971.5 L1583.7,970.7 L1583.7,969.9 L1583.7,969.1 L1583.7,968.3 L1583.7,967.5 L1583.7,966.7 L1583.7,965.9 L1583.7,965.1 L1583.6,964.3 L1583.5,963.5 L1583.4,962.7 L1583.3,961.9 L1583.2,961.1 L1583.1,960.3 L1582.9,959.5 L1582.8,958.7 L1582.7,957.9 L1582.5,957.1 L1582.3,956.3 L1582.2,955.5 L1582.0,954.7 L1581.8,953.9 L1581.5,953.1 L1581.3,952.3 L1581.0,951.5 L1580.7,950.7 L1580.4,949.9 L1580.1,949.1 L1579.9,948.3 L1579.7,947.5 L1579.5,946.7 L1579.4,945.9 L1579.3,945.1 L1579.2,944.3 L1579.1,943.5 L1579.1,942.7 L1579.1,941.9 L1579.1,941.1 L1579.1,940.3 L1579.1,939.5 L1579.2,938.7 L1579.2,937.9 L1579.3,937.1 L1579.4,936.3 L1579.4,935.5 L1579.6,934.7 L1579.8,933.9 L1580.1,933.1 L1580.4,932.3 L1580.7,931.5 L1581.0,930.7 L1581.2,929.9 L1581.4,929.1 L1581.6,928.3 L1581.8,927.5 L1582.1,926.7 L1582.3,925.9 L1582.4,925.1 L1582.6,924.3 L1582.7,923.5 L1582.7,922.7 L1582.7,921.9 L1582.7,921.1 L1582.7,920.3 L1582.7,919.5 L1582.6,918.7 L1582.6,917.9 L1582.5,917.1 L1582.4,916.3 L1582.4,915.5 L1582.3,914.7 L1582.1,913.9 L1581.9,913.1 L1581.7,912.3 L1581.5,911.5 L1581.2,910.7 L1581.0,909.9 L1580.7,909.1 L1580.5,908.3 L1580.2,907.5 L1579.8,906.7 L1579.5,905.9 L1579.1,905.1 L1578.8,904.3 L1578.5,903.5 L1578.1,902.7 L1577.9,901.9 L1577.6,901.1 L1577.3,900.3 L1577.0,899.5 L1576.8,898.7 L1576.5,897.9 L1576.3,897.1 L1576.2,896.3 L1576.0,895.5 L1575.9,894.7 L1575.8,893.9 L1575.7,893.1 L1575.6,892.3 L1575.5,891.5 L1575.4,890.7 L1575.3,889.9 L1575.2,889.1 L1575.1,888.3 L1575.0,887.5 L1574.9,886.7 L1574.7,885.9 L1574.6,885.1 L1574.5,884.3 L1574.3,883.5 L1574.1,882.7 L1573.9,881.9 L1573.7,881.1 L1573.4,880.3 L1573.0,879.5 L1572.7,878.7 L1572.3,877.9 L1571.9,877.1 L1571.4,876.3 L1570.9,875.5 L1570.4,874.7 L1569.8,873.9 L1569.0,873.1 L1568.3,872.3 L1567.5,871.5 L1566.7,870.7 L1566.0,869.9 L1565.3,869.1 L1564.6,868.3 L1564.0,867.5 L1563.3,866.7 L1562.7,865.9 L1562.1,865.1 L1561.5,864.3 L1560.9,863.5 L1560.4,862.7 L1560.0,861.9 L1559.5,861.1 L1559.0,860.3 L1558.6,859.5 L1558.2,858.7 L1557.9,857.9 L1557.7,857.1 L1557.6,856.3 L1557.7,855.5 L1558.0,854.7 L1558.4,853.9 L1558.8,853.1 L1559.2,852.3 L1559.6,851.5 L1560.1,850.7 L1560.6,849.9 L1561.1,849.1 L1561.7,848.3 L1562.2,847.5 L1562.7,846.7 L1563.2,845.9 L1563.7,845.1 L1564.1,844.3 L1564.6,843.5 L1565.0,842.7 L1565.5,841.9 L1565.9,841.1 L1566.2,840.3 L1566.6,839.5 L1566.8,838.7 L1567.1,837.9 L1567.3,837.1 L1567.6,836.3 L1567.8,835.5 L1568.0,834.7 L1568.2,833.9 L1568.3,833.1 L1568.5,832.3 L1568.6,831.5 L1568.7,830.7 L1568.8,829.9 L1568.9,829.1 L1568.9,828.3 L1569.0,827.5 L1569.1,826.7 L1569.2,825.9 L1569.4,825.1 L1569.6,824.3 L1569.8,823.5 L1570.1,822.7 L1570.4,821.9 L1570.7,821.1 L1571.1,820.3 L1571.5,819.5 L1571.8,818.7 L1572.3,817.9 L1572.7,817.1 L1573.3,816.3 L1573.9,815.5 L1574.4,814.7 L1575.0,813.9 L1575.5,813.1 L1575.9,812.3 L1576.2,811.5 L1576.5,810.7 L1576.8,809.9 L1577.1,809.1 L1577.4,808.3 L1577.6,807.5 L1577.9,806.7 L1578.1,805.9 L1578.3,805.1 L1578.4,804.3 L1578.6,803.5 L1578.7,802.7 L1578.8,801.9 L1579.0,801.1 L1579.1,800.3 L1579.2,799.5 L1579.3,798.7 L1579.4,797.9 L1579.4,797.1 L1579.4,796.3 L1579.3,795.5 L1579.2,794.7 L1579.1,793.9 L1579.0,793.1 L1578.9,792.3 L1578.9,791.5 L1578.9,790.7 L1578.9,789.9 L1579.0,789.1 L1579.1,788.3 L1579.1,787.5 L1579.2,786.7 L1579.3,785.9 L1579.4,785.1 L1579.5,784.3 L1579.7,783.5 L1579.9,782.7 L1580.1,781.9 L1580.3,781.1 L1580.6,780.3 L1580.8,779.5 L1581.0,778.7 L1581.2,777.9 L1581.4,777.1 L1581.6,776.3 L1581.8,775.5 L1582.0,774.7 L1582.3,773.9 L1582.5,773.1 L1582.6,772.3 L1582.8,771.5 L1583.0,770.7 L1583.1,769.9 L1583.2,769.1 L1583.4,768.3 L1583.5,767.5 L1583.6,766.7 L1583.7,765.9 L1583.7,765.1 L1583.7,764.3 L1583.7,763.5 L1583.7,762.7 L1583.7,761.9 L1583.7,761.1 L1583.7,760.3 L1583.7,759.5 L1583.7,758.7Z" fill="#000" stroke="#000" stroke-width="0.5" stroke-linejoin="round"/>
<clipPath id="bc6"><path d="M1585.2,758.7 L1585.2,759.5 L1585.2,760.3 L1585.2,761.1 L1585.2,761.9 L1585.2,762.7 L1585.2,763.5 L1585.2,764.3 L1585.2,765.1 L1585.2,765.9 L1585.2,766.7 L1585.4,767.5 L1585.5,768.3 L1585.6,769.1 L1585.7,769.9 L1585.9,770.7 L1586.0,771.5 L1586.2,772.3 L1586.4,773.1 L1586.6,773.9 L1586.8,774.7 L1587.0,775.5 L1587.2,776.3 L1587.4,777.1 L1587.6,777.9 L1587.8,778.7 L1588.0,779.5 L1588.3,780.3 L1588.5,781.1 L1588.7,781.9 L1589.0,782.7 L1589.1,783.5 L1589.3,784.3 L1589.4,785.1 L1589.5,785.9 L1589.6,786.7 L1589.7,787.5 L1589.8,788.3 L1589.8,789.1 L1589.9,789.9 L1589.9,790.7 L1589.9,791.5 L1589.9,792.3 L1589.9,793.1 L1589.8,793.9 L1589.6,794.7 L1589.5,795.5 L1589.5,796.3 L1589.4,797.1 L1589.5,797.9 L1589.5,798.7 L1589.6,799.5 L1589.7,800.3 L1589.8,801.1 L1590.0,801.9 L1590.1,802.7 L1590.3,803.5 L1590.4,804.3 L1590.6,805.1 L1590.8,805.9 L1591.0,806.7 L1591.2,807.5 L1591.4,808.3 L1591.7,809.1 L1592.0,809.9 L1592.3,810.7 L1592.6,811.5 L1592.9,812.3 L1593.4,813.1 L1593.8,813.9 L1594.4,814.7 L1595.0,815.5 L1595.5,816.3 L1596.1,817.1 L1596.6,817.9 L1597.0,818.7 L1597.4,819.5 L1597.7,820.3 L1598.1,821.1 L1598.4,821.9 L1598.7,822.7 L1599.0,823.5 L1599.2,824.3 L1599.4,825.1 L1599.6,825.9 L1599.7,826.7 L1599.8,827.5 L1599.9,828.3 L1600.0,829.1 L1600.0,829.9 L1600.1,830.7 L1600.2,831.5 L1600.4,832.3 L1600.5,833.1 L1600.7,833.9 L1600.9,834.7 L1601.0,835.5 L1601.3,836.3 L1601.5,837.1 L1601.7,837.9 L1602.0,838.7 L1602.3,839.5 L1602.6,840.3 L1603.0,841.1 L1603.4,841.9 L1603.8,842.7 L1604.2,843.5 L1604.7,844.3 L1605.1,845.1 L1605.6,845.9 L1606.1,846.7 L1606.6,847.5 L1607.2,848.3 L1607.7,849.1 L1608.2,849.9 L1608.7,850.7 L1609.2,851.5 L1609.6,852.3 L1610.0,853.1 L1610.4,853.9 L1610.8,854.7 L1611.1,855.5 L1611.2,856.3 L1611.1,857.1 L1610.9,857.9 L1610.6,858.7 L1610.2,859.5 L1609.8,860.3 L1609.3,861.1 L1608.9,861.9 L1608.4,862.7 L1607.9,863.5 L1607.4,864.3 L1606.8,865.1 L1606.1,865.9 L1605.5,866.7 L1604.8,867.5 L1604.2,868.3 L1603.5,869.1 L1602.8,869.9 L1602.1,870.7 L1601.3,871.5 L1600.5,872.3 L1599.8,873.1 L1599.1,873.9 L1598.4,874.7 L1597.9,875.5 L1597.4,876.3 L1597.0,877.1 L1596.5,877.9 L1596.1,878.7 L1595.8,879.5 L1595.5,880.3 L1595.2,881.1 L1594.9,881.9 L1594.7,882.7 L1594.5,883.5 L1594.4,884.3 L1594.2,885.1 L1594.1,885.9 L1594.0,886.7 L1593.8,887.5 L1593.7,888.3 L1593.6,889.1 L1593.5,889.9 L1593.4,890.7 L1593.3,891.5 L1593.2,892.3 L1593.2,893.1 L1593.1,893.9 L1593.0,894.7 L1592.8,895.5 L1592.7,896.3 L1592.5,897.1 L1592.3,897.9 L1592.0,898.7 L1591.8,899.5 L1591.5,900.3 L1591.2,901.1 L1591.0,901.9 L1590.7,902.7 L1590.4,903.5 L1590.0,904.3 L1589.7,905.1 L1589.4,905.9 L1589.0,906.7 L1588.7,907.5 L1588.4,908.3 L1588.1,909.1 L1587.9,909.9 L1587.6,910.7 L1587.4,911.5 L1587.1,912.3 L1586.9,913.1 L1586.7,913.9 L1586.6,914.7 L1586.5,915.5 L1586.4,916.3 L1586.3,917.1 L1586.3,917.9 L1586.2,918.7 L1586.2,919.5 L1586.1,920.3 L1586.1,921.1 L1586.1,921.9 L1586.1,922.7 L1586.1,923.5 L1586.2,924.3 L1586.4,925.1 L1586.6,925.9 L1586.8,926.7 L1587.0,927.5 L1587.2,928.3 L1587.4,929.1 L1587.6,929.9 L1587.9,930.7 L1588.2,931.5 L1588.5,932.3 L1588.8,933.1 L1589.0,933.9 L1589.2,934.7 L1589.4,935.5 L1589.5,936.3 L1589.5,937.1 L1589.6,937.9 L1589.6,938.7 L1589.7,939.5 L1589.7,940.3 L1589.8,941.1 L1589.8,941.9 L1589.8,942.7 L1589.7,943.5 L1589.7,944.3 L1589.6,945.1 L1589.4,945.9 L1589.3,946.7 L1589.1,947.5 L1589.0,948.3 L1588.7,949.1 L1588.5,949.9 L1588.2,950.7 L1587.9,951.5 L1587.6,952.3 L1587.3,953.1 L1587.0,953.9 L1586.8,954.7 L1586.7,955.5 L1586.5,956.3 L1586.3,957.1 L1586.2,957.9 L1586.0,958.7 L1585.9,959.5 L1585.8,960.3 L1585.6,961.1 L1585.5,961.9 L1585.4,962.7 L1585.3,963.5 L1585.2,964.3 L1585.2,965.1 L1585.2,965.9 L1585.2,966.7 L1585.2,967.5 L1585.2,968.3 L1585.2,969.1 L1585.2,969.9 L1585.2,970.7 L1585.2,971.5 L1585.2,972.3 L1585.2,973.1 L1585.2,973.1 L1583.7,973.1 L1583.7,973.1 L1583.7,972.3 L1583.7,971.5 L1583.7,970.7 L1583.7,969.9 L1583.7,969.1 L1583.7,968.3 L1583.7,967.5 L1583.7,966.7 L1583.7,965.9 L1583.7,965.1 L1583.6,964.3 L1583.5,963.5 L1583.4,962.7 L1583.3,961.9 L1583.2,961.1 L1583.1,960.3 L1582.9,959.5 L1582.8,958.7 L1582.7,957.9 L1582.5,957.1 L1582.3,956.3 L1582.2,955.5 L1582.0,954.7 L1581.8,953.9 L1581.5,953.1 L1581.3,952.3 L1581.0,951.5 L1580.7,950.7 L1580.4,949.9 L1580.1,949.1 L1579.9,948.3 L1579.7,947.5 L1579.5,946.7 L1579.4,945.9 L1579.3,945.1 L1579.2,944.3 L1579.1,943.5 L1579.1,942.7 L1579.1,941.9 L1579.1,941.1 L1579.1,940.3 L1579.1,939.5 L1579.2,938.7 L1579.2,937.9 L1579.3,937.1 L1579.4,936.3 L1579.4,935.5 L1579.6,934.7 L1579.8,933.9 L1580.1,933.1 L1580.4,932.3 L1580.7,931.5 L1581.0,930.7 L1581.2,929.9 L1581.4,929.1 L1581.6,928.3 L1581.8,927.5 L1582.1,926.7 L1582.3,925.9 L1582.4,925.1 L1582.6,924.3 L1582.7,923.5 L1582.7,922.7 L1582.7,921.9 L1582.7,921.1 L1582.7,920.3 L1582.7,919.5 L1582.6,918.7 L1582.6,917.9 L1582.5,917.1 L1582.4,916.3 L1582.4,915.5 L1582.3,914.7 L1582.1,913.9 L1581.9,913.1 L1581.7,912.3 L1581.5,911.5 L1581.2,910.7 L1581.0,909.9 L1580.7,909.1 L1580.5,908.3 L1580.2,907.5 L1579.8,906.7 L1579.5,905.9 L1579.1,905.1 L1578.8,904.3 L1578.5,903.5 L1578.1,902.7 L1577.9,901.9 L1577.6,901.1 L1577.3,900.3 L1577.0,899.5 L1576.8,898.7 L1576.5,897.9 L1576.3,897.1 L1576.2,896.3 L1576.0,895.5 L1575.9,894.7 L1575.8,893.9 L1575.7,893.1 L1575.6,892.3 L1575.5,891.5 L1575.4,890.7 L1575.3,889.9 L1575.2,889.1 L1575.1,888.3 L1575.0,887.5 L1574.9,886.7 L1574.7,885.9 L1574.6,885.1 L1574.5,884.3 L1574.3,883.5 L1574.1,882.7 L1573.9,881.9 L1573.7,881.1 L1573.4,880.3 L1573.0,879.5 L1572.7,878.7 L1572.3,877.9 L1571.9,877.1 L1571.4,876.3 L1570.9,875.5 L1570.4,874.7 L1569.8,873.9 L1569.0,873.1 L1568.3,872.3 L1567.5,871.5 L1566.7,870.7 L1566.0,869.9 L1565.3,869.1 L1564.6,868.3 L1564.0,867.5 L1563.3,866.7 L1562.7,865.9 L1562.1,865.1 L1561.5,864.3 L1560.9,863.5 L1560.4,862.7 L1560.0,861.9 L1559.5,861.1 L1559.0,860.3 L1558.6,859.5 L1558.2,858.7 L1557.9,857.9 L1557.7,857.1 L1557.6,856.3 L1557.7,855.5 L1558.0,854.7 L1558.4,853.9 L1558.8,853.1 L1559.2,852.3 L1559.6,851.5 L1560.1,850.7 L1560.6,849.9 L1561.1,849.1 L1561.7,848.3 L1562.2,847.5 L1562.7,846.7 L1563.2,845.9 L1563.7,845.1 L1564.1,844.3 L1564.6,843.5 L1565.0,842.7 L1565.5,841.9 L1565.9,841.1 L1566.2,840.3 L1566.6,839.5 L1566.8,838.7 L1567.1,837.9 L1567.3,837.1 L1567.6,836.3 L1567.8,835.5 L1568.0,834.7 L1568.2,833.9 L1568.3,833.1 L1568.5,832.3 L1568.6,831.5 L1568.7,830.7 L1568.8,829.9 L1568.9,829.1 L1568.9,828.3 L1569.0,827.5 L1569.1,826.7 L1569.2,825.9 L1569.4,825.1 L1569.6,824.3 L1569.8,823.5 L1570.1,822.7 L1570.4,821.9 L1570.7,821.1 L1571.1,820.3 L1571.5,819.5 L1571.8,818.7 L1572.3,817.9 L1572.7,817.1 L1573.3,816.3 L1573.9,815.5 L1574.4,814.7 L1575.0,813.9 L1575.5,813.1 L1575.9,812.3 L1576.2,811.5 L1576.5,810.7 L1576.8,809.9 L1577.1,809.1 L1577.4,808.3 L1577.6,807.5 L1577.9,806.7 L1578.1,805.9 L1578.3,805.1 L1578.4,804.3 L1578.6,803.5 L1578.7,802.7 L1578.8,801.9 L1579.0,801.1 L1579.1,800.3 L1579.2,799.5 L1579.3,798.7 L1579.4,797.9 L1579.4,797.1 L1579.4,796.3 L1579.3,795.5 L1579.2,794.7 L1579.1,793.9 L1579.0,793.1 L1578.9,792.3 L1578.9,791.5 L1578.9,790.7 L1578.9,789.9 L1579.0,789.1 L1579.1,788.3 L1579.1,787.5 L1579.2,786.7 L1579.3,785.9 L1579.4,785.1 L1579.5,784.3 L1579.7,783.5 L1579.9,782.7 L1580.1,781.9 L1580.3,781.1 L1580.6,780.3 L1580.8,779.5 L1581.0,778.7 L1581.2,777.9 L1581.4,777.1 L1581.6,776.3 L1581.8,775.5 L1582.0,774.7 L1582.3,773.9 L1582.5,773.1 L1582.6,772.3 L1582.8,771.5 L1583.0,770.7 L1583.1,769.9 L1583.2,769.1 L1583.4,768.3 L1583.5,767.5 L1583.6,766.7 L1583.7,765.9 L1583.7,765.1 L1583.7,764.3 L1583.7,763.5 L1583.7,762.7 L1583.7,761.9 L1583.7,761.1 L1583.7,760.3 L1583.7,759.5 L1583.7,758.7Z"/></clipPath>
<g fill="#fff" clip-path="url(#bc6)"><rect x="1576.4" y="785.57" width="16.1" height="2.61"/><rect x="1576.4" y="794.78" width="16.1" height="2.61"/><rect x="1576.4" y="813.54" width="16.1" height="1.94"/><rect x="1576.4" y="820.41" width="16.1" height="3.95"/><rect x="1576.4" y="828.28" width="16.1" height="2.61"/><rect x="1576.4" y="832.81" width="16.1" height="1.94"/><rect x="1576.4" y="845.04" width="16.1" height="3.62"/><rect x="1576.4" y="851.23" width="16.1" height="8.64"/><rect x="1576.4" y="860.86" width="16.1" height="7.80"/><rect x="1576.4" y="873.51" width="16.1" height="2.61"/><rect x="1576.4" y="881.89" width="16.1" height="2.61"/><rect x="1576.4" y="889.42" width="16.1" height="2.61"/><rect x="1576.4" y="895.62" width="16.1" height="1.94"/><rect x="1576.4" y="936.49" width="16.1" height="2.28"/><rect x="1576.4" y="944.03" width="16.1" height="2.28"/></g>
<line x1="1539.1" x2="1629.7" y1="856.4" y2="856.4" stroke="#000" stroke-width="3.9" stroke-linecap="round"/>
<g fill="#fff" clip-path="url(#bc6)"><rect x="1576.4" y="785.57" width="16.1" height="2.61"/><rect x="1576.4" y="794.78" width="16.1" height="2.61"/><rect x="1576.4" y="813.54" width="16.1" height="1.94"/><rect x="1576.4" y="820.41" width="16.1" height="3.95"/><rect x="1576.4" y="828.28" width="16.1" height="2.61"/><rect x="1576.4" y="832.81" width="16.1" height="1.94"/><rect x="1576.4" y="845.04" width="16.1" height="3.62"/><rect x="1576.4" y="851.23" width="16.1" height="8.64"/><rect x="1576.4" y="860.86" width="16.1" height="7.80"/><rect x="1576.4" y="873.51" width="16.1" height="2.61"/><rect x="1576.4" y="881.89" width="16.1" height="2.61"/><rect x="1576.4" y="889.42" width="16.1" height="2.61"/><rect x="1576.4" y="895.62" width="16.1" height="1.94"/><rect x="1576.4" y="936.49" width="16.1" height="2.28"/><rect x="1576.4" y="944.03" width="16.1" height="2.28"/></g>
<line x1="1120.0" x2="1120.0" y1="1083.4" y2="1323.6" stroke="#000" stroke-width="2.1" stroke-linecap="butt"/>
<line x1="1114.3" x2="1120.5" y1="1084.4" y2="1084.4" stroke="#000" stroke-width="2.1"/>
<line x1="1114.3" x2="1120.5" y1="1114.4" y2="1114.4" stroke="#000" stroke-width="2.1"/>
<line x1="1114.3" x2="1120.5" y1="1144.9" y2="1144.9" stroke="#000" stroke-width="2.1"/>
<line x1="1114.3" x2="1120.5" y1="1184.6" y2="1184.6" stroke="#000" stroke-width="2.1"/>
<line x1="1114.3" x2="1120.5" y1="1215.1" y2="1215.1" stroke="#000" stroke-width="2.1"/>
<line x1="1114.3" x2="1120.5" y1="1245.2" y2="1245.2" stroke="#000" stroke-width="2.1"/>
<line x1="1114.3" x2="1120.5" y1="1285.3" y2="1285.3" stroke="#000" stroke-width="2.1"/>
<line x1="1114.3" x2="1120.5" y1="1315.8" y2="1315.8" stroke="#000" stroke-width="2.1"/>
<text x="1105.8" y="1102.5" font-size="28.6" text-anchor="middle" fill="#000" transform="rotate(-90 1105.8 1102.5)" textLength="44.2" lengthAdjust="spacingAndGlyphs">10.0</text>
<text x="1105.8" y="1178.1" font-size="28.6" text-anchor="middle" fill="#000" transform="rotate(-90 1105.8 1178.1)" textLength="33.6" lengthAdjust="spacingAndGlyphs">2.0</text>
<text x="1105.8" y="1238.7" font-size="28.6" text-anchor="middle" fill="#000" transform="rotate(-90 1105.8 1238.7)" textLength="32.7" lengthAdjust="spacingAndGlyphs">0.5</text>
<text x="1105.8" y="1308.5" font-size="28.6" text-anchor="middle" fill="#000" transform="rotate(-90 1105.8 1308.5)" textLength="31.7" lengthAdjust="spacingAndGlyphs">0.1</text>
<text x="1074.4" y="1192.3" font-size="36" text-anchor="middle" fill="#000" transform="rotate(-90 1074.4 1192.3)" textLength="133.8" lengthAdjust="spacingAndGlyphs">Isocitrate</text>
<text x="1236.5" y="1056.5" font-size="30" text-anchor="middle" textLength="126.5" lengthAdjust="spacingAndGlyphs"><tspan font-style="italic">P</tspan> = 0.009</text>
<path d="M1175.6,1117.7 L1175.6,1118.5 L1175.7,1119.3 L1175.7,1120.1 L1175.8,1120.9 L1175.9,1121.7 L1175.9,1122.5 L1176.0,1123.3 L1176.1,1124.1 L1176.2,1124.9 L1176.3,1125.7 L1176.4,1126.5 L1176.5,1127.3 L1176.6,1128.1 L1176.8,1128.9 L1176.9,1129.7 L1177.1,1130.5 L1177.2,1131.3 L1177.4,1132.1 L1177.6,1132.9 L1177.8,1133.7 L1177.9,1134.5 L1178.1,1135.3 L1178.3,1136.1 L1178.5,1136.9 L1178.7,1137.7 L1178.9,1138.5 L1179.1,1139.3 L1179.4,1140.1 L1179.6,1140.9 L1179.8,1141.7 L1180.0,1142.5 L1180.2,1143.3 L1180.4,1144.1 L1180.6,1144.9 L1180.8,1145.7 L1181.0,1146.5 L1181.2,1147.3 L1181.4,1148.1 L1181.6,1148.9 L1181.8,1149.7 L1182.0,1150.5 L1182.1,1151.3 L1182.3,1152.1 L1182.5,1152.9 L1182.7,1153.7 L1182.9,1154.5 L1183.1,1155.3 L1183.2,1156.1 L1183.4,1156.9 L1183.6,1157.7 L1183.8,1158.5 L1183.9,1159.3 L1184.1,1160.1 L1184.2,1160.9 L1184.4,1161.7 L1184.5,1162.5 L1184.6,1163.3 L1184.7,1164.1 L1184.9,1164.9 L1185.0,1165.7 L1185.1,1166.5 L1185.3,1167.3 L1185.5,1168.1 L1185.7,1168.9 L1185.9,1169.7 L1186.3,1170.5 L1186.6,1171.3 L1187.0,1172.1 L1187.4,1172.9 L1187.9,1173.7 L1188.3,1174.5 L1188.8,1175.3 L1189.3,1176.1 L1189.7,1176.9 L1190.1,1177.7 L1190.6,1178.5 L1191.1,1179.3 L1191.6,1180.1 L1192.1,1180.9 L1192.6,1181.7 L1193.1,1182.5 L1193.6,1183.3 L1194.1,1184.1 L1194.5,1184.9 L1195.0,1185.7 L1195.4,1186.5 L1195.8,1187.3 L1196.2,1188.1 L1196.6,1188.9 L1197.0,1189.7 L1197.4,1190.5 L1197.7,1191.3 L1198.1,1192.1 L1198.4,1192.9 L1198.7,1193.7 L1198.9,1194.5 L1199.1,1195.3 L1199.4,1196.1 L1199.6,1196.9 L1199.7,1197.7 L1199.9,1198.5 L1200.1,1199.3 L1200.3,1200.1 L1200.4,1200.9 L1200.6,1201.7 L1200.8,1202.5 L1201.0,1203.3 L1201.1,1204.1 L1201.3,1204.9 L1201.4,1205.7 L1201.6,1206.5 L1201.7,1207.3 L1201.9,1208.1 L1202.0,1208.9 L1202.2,1209.7 L1202.4,1210.5 L1202.6,1211.3 L1202.7,1212.1 L1202.9,1212.9 L1203.1,1213.7 L1203.3,1214.5 L1203.5,1215.3 L1203.7,1216.1 L1203.9,1216.9 L1204.1,1217.7 L1204.3,1218.5 L1204.5,1219.3 L1204.7,1220.1 L1204.9,1220.9 L1205.2,1221.7 L1205.4,1222.5 L1205.7,1223.3 L1205.9,1224.1 L1206.2,1224.9 L1206.5,1225.7 L1206.8,1226.5 L1207.1,1227.3 L1207.4,1228.1 L1207.7,1228.9 L1208.1,1229.7 L1208.5,1230.5 L1208.8,1231.3 L1209.2,1232.1 L1209.6,1232.9 L1210.0,1233.7 L1210.3,1234.5 L1210.6,1235.3 L1210.9,1236.1 L1211.2,1236.9 L1211.4,1237.7 L1211.7,1238.5 L1212.0,1239.3 L1212.3,1240.1 L1212.5,1240.9 L1212.7,1241.7 L1212.8,1242.5 L1212.9,1243.3 L1213.0,1244.1 L1212.9,1244.9 L1212.8,1245.7 L1212.6,1246.5 L1212.4,1247.3 L1212.1,1248.1 L1211.7,1248.9 L1211.3,1249.7 L1211.0,1250.5 L1210.6,1251.3 L1210.2,1252.1 L1209.8,1252.9 L1209.3,1253.7 L1208.9,1254.5 L1208.3,1255.3 L1207.8,1256.1 L1207.2,1256.9 L1206.6,1257.7 L1205.9,1258.5 L1205.3,1259.3 L1204.7,1260.1 L1204.1,1260.9 L1203.5,1261.7 L1202.9,1262.5 L1202.2,1263.3 L1201.6,1264.1 L1201.0,1264.9 L1200.3,1265.7 L1199.7,1266.5 L1199.0,1267.3 L1198.3,1268.1 L1197.7,1268.9 L1197.1,1269.7 L1196.4,1270.5 L1195.8,1271.3 L1195.1,1272.1 L1194.5,1272.9 L1193.9,1273.7 L1193.2,1274.5 L1192.6,1275.3 L1191.9,1276.1 L1191.3,1276.9 L1190.7,1277.7 L1190.0,1278.5 L1189.4,1279.3 L1188.7,1280.1 L1188.0,1280.9 L1187.3,1281.7 L1186.7,1282.5 L1186.0,1283.3 L1185.4,1284.1 L1184.8,1284.9 L1184.2,1285.7 L1183.7,1286.5 L1183.1,1287.3 L1182.6,1288.1 L1182.0,1288.9 L1181.5,1289.7 L1181.0,1290.5 L1180.5,1291.3 L1180.1,1292.1 L1179.6,1292.9 L1179.3,1293.7 L1178.9,1294.5 L1178.6,1295.3 L1178.3,1296.1 L1178.0,1296.9 L1177.7,1297.7 L1177.4,1298.5 L1177.2,1299.3 L1177.0,1300.1 L1176.8,1300.9 L1176.6,1301.7 L1176.5,1302.5 L1176.4,1303.3 L1176.3,1304.1 L1176.2,1304.9 L1176.1,1305.7 L1176.0,1306.5 L1176.0,1307.3 L1175.9,1308.1 L1175.8,1308.9 L1175.8,1309.7 L1175.7,1310.5 L1175.7,1311.3 L1175.6,1312.1 L1175.6,1312.9 L1175.6,1313.7 L1175.6,1314.1 L1175.6,1314.1 L1175.6,1313.7 L1175.6,1312.9 L1175.6,1312.1 L1175.5,1311.3 L1175.5,1310.5 L1175.5,1309.7 L1175.4,1308.9 L1175.3,1308.1 L1175.3,1307.3 L1175.2,1306.5 L1175.1,1305.7 L1175.0,1304.9 L1174.9,1304.1 L1174.8,1303.3 L1174.7,1302.5 L1174.6,1301.7 L1174.4,1300.9 L1174.2,1300.1 L1174.0,1299.3 L1173.8,1298.5 L1173.5,1297.7 L1173.2,1296.9 L1172.9,1296.1 L1172.6,1295.3 L1172.3,1294.5 L1172.0,1293.7 L1171.6,1292.9 L1171.2,1292.1 L1170.7,1291.3 L1170.2,1290.5 L1169.7,1289.7 L1169.2,1288.9 L1168.6,1288.1 L1168.1,1287.3 L1167.6,1286.5 L1167.0,1285.7 L1166.4,1284.9 L1165.8,1284.1 L1165.2,1283.3 L1164.5,1282.5 L1163.9,1281.7 L1163.2,1280.9 L1162.5,1280.1 L1161.9,1279.3 L1161.2,1278.5 L1160.6,1277.7 L1159.9,1276.9 L1159.3,1276.1 L1158.6,1275.3 L1158.0,1274.5 L1157.4,1273.7 L1156.7,1272.9 L1156.1,1272.1 L1155.4,1271.3 L1154.8,1270.5 L1154.2,1269.7 L1153.5,1268.9 L1152.9,1268.1 L1152.2,1267.3 L1151.6,1266.5 L1150.9,1265.7 L1150.3,1264.9 L1149.6,1264.1 L1149.0,1263.3 L1148.3,1262.5 L1147.7,1261.7 L1147.1,1260.9 L1146.5,1260.1 L1145.9,1259.3 L1145.3,1258.5 L1144.7,1257.7 L1144.0,1256.9 L1143.5,1256.1 L1142.9,1255.3 L1142.4,1254.5 L1141.9,1253.7 L1141.4,1252.9 L1141.1,1252.1 L1140.7,1251.3 L1140.3,1250.5 L1139.9,1249.7 L1139.5,1248.9 L1139.2,1248.1 L1138.9,1247.3 L1138.6,1246.5 L1138.4,1245.7 L1138.3,1244.9 L1138.3,1244.1 L1138.3,1243.3 L1138.4,1242.5 L1138.5,1241.7 L1138.7,1240.9 L1139.0,1240.1 L1139.2,1239.3 L1139.5,1238.5 L1139.8,1237.7 L1140.1,1236.9 L1140.3,1236.1 L1140.6,1235.3 L1140.9,1234.5 L1141.2,1233.7 L1141.6,1232.9 L1142.0,1232.1 L1142.4,1231.3 L1142.8,1230.5 L1143.1,1229.7 L1143.5,1228.9 L1143.9,1228.1 L1144.2,1227.3 L1144.5,1226.5 L1144.7,1225.7 L1145.0,1224.9 L1145.3,1224.1 L1145.5,1223.3 L1145.8,1222.5 L1146.0,1221.7 L1146.3,1220.9 L1146.5,1220.1 L1146.7,1219.3 L1146.9,1218.5 L1147.2,1217.7 L1147.4,1216.9 L1147.6,1216.1 L1147.8,1215.3 L1147.9,1214.5 L1148.1,1213.7 L1148.3,1212.9 L1148.5,1212.1 L1148.7,1211.3 L1148.8,1210.5 L1149.0,1209.7 L1149.2,1208.9 L1149.3,1208.1 L1149.5,1207.3 L1149.6,1206.5 L1149.8,1205.7 L1150.0,1204.9 L1150.1,1204.1 L1150.3,1203.3 L1150.4,1202.5 L1150.6,1201.7 L1150.8,1200.9 L1151.0,1200.1 L1151.1,1199.3 L1151.3,1198.5 L1151.5,1197.7 L1151.7,1196.9 L1151.9,1196.1 L1152.1,1195.3 L1152.3,1194.5 L1152.6,1193.7 L1152.8,1192.9 L1153.2,1192.1 L1153.5,1191.3 L1153.8,1190.5 L1154.2,1189.7 L1154.6,1188.9 L1155.0,1188.1 L1155.4,1187.3 L1155.8,1186.5 L1156.3,1185.7 L1156.7,1184.9 L1157.1,1184.1 L1157.6,1183.3 L1158.1,1182.5 L1158.6,1181.7 L1159.1,1180.9 L1159.6,1180.1 L1160.1,1179.3 L1160.6,1178.5 L1161.1,1177.7 L1161.5,1176.9 L1162.0,1176.1 L1162.4,1175.3 L1162.9,1174.5 L1163.4,1173.7 L1163.8,1172.9 L1164.2,1172.1 L1164.6,1171.3 L1165.0,1170.5 L1165.3,1169.7 L1165.5,1168.9 L1165.7,1168.1 L1165.9,1167.3 L1166.1,1166.5 L1166.2,1165.7 L1166.4,1164.9 L1166.5,1164.1 L1166.6,1163.3 L1166.7,1162.5 L1166.9,1161.7 L1167.0,1160.9 L1167.1,1160.1 L1167.3,1159.3 L1167.5,1158.5 L1167.6,1157.7 L1167.8,1156.9 L1168.0,1156.1 L1168.2,1155.3 L1168.3,1154.5 L1168.5,1153.7 L1168.7,1152.9 L1168.9,1152.1 L1169.1,1151.3 L1169.3,1150.5 L1169.5,1149.7 L1169.6,1148.9 L1169.8,1148.1 L1170.0,1147.3 L1170.2,1146.5 L1170.4,1145.7 L1170.6,1144.9 L1170.8,1144.1 L1171.0,1143.3 L1171.2,1142.5 L1171.4,1141.7 L1171.6,1140.9 L1171.9,1140.1 L1172.1,1139.3 L1172.3,1138.5 L1172.5,1137.7 L1172.7,1136.9 L1172.9,1136.1 L1173.1,1135.3 L1173.3,1134.5 L1173.5,1133.7 L1173.6,1132.9 L1173.8,1132.1 L1174.0,1131.3 L1174.2,1130.5 L1174.3,1129.7 L1174.5,1128.9 L1174.6,1128.1 L1174.7,1127.3 L1174.8,1126.5 L1174.9,1125.7 L1175.0,1124.9 L1175.1,1124.1 L1175.2,1123.3 L1175.3,1122.5 L1175.4,1121.7 L1175.4,1120.9 L1175.5,1120.1 L1175.5,1119.3 L1175.6,1118.5 L1175.6,1117.7Z" fill="#d9d9d9" stroke="#000" stroke-width="2.1" stroke-linejoin="round"/>
<g fill="#000"><rect x="1168.1" y="1158.62" width="15.1" height="1.84"/><rect x="1167.7" y="1188.94" width="15.7" height="2.51"/><rect x="1167.7" y="1195.14" width="15.7" height="2.51"/><rect x="1167.7" y="1211.38" width="15.7" height="2.51"/><rect x="1167.7" y="1215.74" width="15.7" height="2.51"/><rect x="1167.7" y="1232.66" width="15.7" height="2.84"/><rect x="1167.7" y="1247.23" width="15.7" height="2.84"/><rect x="1159.7" y="1269.93" width="31.8" height="2.01"/></g>
<line x1="1128.3" x2="1223.1" y1="1227.9" y2="1227.9" stroke="#000" stroke-width="3.9" stroke-linecap="round"/>
<path d="M1271.8,1086.2 L1271.8,1087.0 L1271.8,1087.8 L1271.8,1088.6 L1271.8,1089.4 L1271.8,1090.2 L1271.8,1091.0 L1271.8,1091.8 L1271.8,1092.6 L1271.8,1093.4 L1271.8,1094.2 L1271.8,1095.0 L1271.9,1095.8 L1271.9,1096.6 L1272.0,1097.4 L1272.1,1098.2 L1272.1,1099.0 L1272.2,1099.8 L1272.3,1100.6 L1272.4,1101.4 L1272.5,1102.2 L1272.5,1103.0 L1272.6,1103.8 L1272.7,1104.6 L1272.8,1105.4 L1272.9,1106.2 L1273.1,1107.0 L1273.2,1107.8 L1273.3,1108.6 L1273.4,1109.4 L1273.6,1110.2 L1273.7,1111.0 L1273.9,1111.8 L1274.0,1112.6 L1274.1,1113.4 L1274.3,1114.2 L1274.5,1115.0 L1274.6,1115.8 L1274.8,1116.6 L1275.0,1117.4 L1275.1,1118.2 L1275.3,1119.0 L1275.5,1119.8 L1275.6,1120.6 L1275.7,1121.4 L1275.9,1122.2 L1276.0,1123.0 L1276.1,1123.8 L1276.2,1124.6 L1276.3,1125.4 L1276.4,1126.2 L1276.5,1127.0 L1276.7,1127.8 L1276.9,1128.6 L1277.1,1129.4 L1277.4,1130.2 L1277.8,1131.0 L1278.2,1131.8 L1278.5,1132.6 L1278.9,1133.4 L1279.2,1134.2 L1279.6,1135.0 L1280.0,1135.8 L1280.4,1136.6 L1280.8,1137.4 L1281.2,1138.2 L1281.7,1139.0 L1282.2,1139.8 L1282.8,1140.6 L1283.5,1141.4 L1284.2,1142.2 L1284.9,1143.0 L1285.7,1143.8 L1286.5,1144.6 L1287.3,1145.4 L1288.1,1146.2 L1288.9,1147.0 L1289.8,1147.8 L1290.8,1148.6 L1291.7,1149.4 L1292.6,1150.2 L1293.6,1151.0 L1294.5,1151.8 L1295.3,1152.6 L1296.2,1153.4 L1297.0,1154.2 L1297.9,1155.0 L1298.7,1155.8 L1299.5,1156.6 L1300.3,1157.4 L1301.0,1158.2 L1301.6,1159.0 L1302.2,1159.8 L1302.8,1160.6 L1303.3,1161.4 L1303.8,1162.2 L1304.3,1163.0 L1304.8,1163.8 L1305.2,1164.6 L1305.6,1165.4 L1306.0,1166.2 L1306.3,1167.0 L1306.6,1167.8 L1307.0,1168.6 L1307.3,1169.4 L1307.5,1170.2 L1307.8,1171.0 L1308.0,1171.8 L1308.2,1172.6 L1308.4,1173.4 L1308.6,1174.2 L1308.7,1175.0 L1308.9,1175.8 L1309.1,1176.6 L1309.2,1177.4 L1309.3,1178.2 L1309.4,1179.0 L1309.5,1179.8 L1309.6,1180.6 L1309.7,1181.4 L1309.8,1182.2 L1309.9,1183.0 L1310.0,1183.8 L1310.1,1184.6 L1310.1,1185.4 L1310.2,1186.2 L1310.2,1187.0 L1310.2,1187.8 L1310.1,1188.6 L1310.1,1189.4 L1310.1,1190.2 L1310.0,1191.0 L1310.0,1191.8 L1309.9,1192.6 L1309.8,1193.4 L1309.7,1194.2 L1309.7,1195.0 L1309.5,1195.8 L1309.3,1196.6 L1309.1,1197.4 L1308.8,1198.2 L1308.4,1199.0 L1308.0,1199.8 L1307.6,1200.6 L1307.2,1201.4 L1306.8,1202.2 L1306.3,1203.0 L1305.8,1203.8 L1305.2,1204.6 L1304.5,1205.4 L1303.9,1206.2 L1303.2,1207.0 L1302.5,1207.8 L1301.8,1208.6 L1301.0,1209.4 L1300.2,1210.2 L1299.4,1211.0 L1298.6,1211.8 L1297.8,1212.6 L1296.9,1213.4 L1296.1,1214.2 L1295.3,1215.0 L1294.5,1215.8 L1293.7,1216.6 L1292.9,1217.4 L1292.1,1218.2 L1291.4,1219.0 L1290.6,1219.8 L1289.9,1220.6 L1289.3,1221.4 L1288.7,1222.2 L1288.1,1223.0 L1287.6,1223.8 L1287.0,1224.6 L1286.5,1225.4 L1286.0,1226.2 L1285.5,1227.0 L1285.0,1227.8 L1284.5,1228.6 L1284.1,1229.4 L1283.6,1230.2 L1283.2,1231.0 L1282.7,1231.8 L1282.3,1232.6 L1281.8,1233.4 L1281.3,1234.2 L1280.7,1235.0 L1280.2,1235.8 L1279.8,1236.6 L1279.4,1237.4 L1279.1,1238.2 L1278.8,1239.0 L1278.5,1239.8 L1278.2,1240.6 L1278.0,1241.4 L1277.9,1242.2 L1277.7,1243.0 L1277.6,1243.8 L1277.5,1244.6 L1277.4,1245.4 L1277.4,1246.2 L1277.3,1247.0 L1277.3,1247.8 L1277.4,1248.6 L1277.4,1249.4 L1277.5,1250.2 L1277.6,1251.0 L1277.7,1251.8 L1277.8,1252.6 L1277.9,1253.4 L1278.0,1254.2 L1278.2,1255.0 L1278.3,1255.8 L1278.5,1256.6 L1278.8,1257.4 L1279.0,1258.2 L1279.2,1259.0 L1279.4,1259.8 L1279.6,1260.6 L1279.8,1261.4 L1280.0,1262.2 L1280.2,1263.0 L1280.4,1263.8 L1280.5,1264.6 L1280.7,1265.4 L1280.8,1266.2 L1280.9,1267.0 L1281.0,1267.8 L1281.1,1268.6 L1281.2,1269.4 L1281.2,1270.2 L1281.3,1271.0 L1281.2,1271.8 L1281.2,1272.6 L1281.0,1273.4 L1280.9,1274.2 L1280.7,1275.0 L1280.4,1275.8 L1280.2,1276.6 L1280.0,1277.4 L1279.7,1278.2 L1279.4,1279.0 L1279.1,1279.8 L1278.7,1280.6 L1278.3,1281.4 L1277.9,1282.2 L1277.6,1283.0 L1277.2,1283.8 L1276.9,1284.6 L1276.5,1285.4 L1276.2,1286.2 L1275.9,1287.0 L1275.5,1287.8 L1275.2,1288.6 L1274.9,1289.4 L1274.7,1290.2 L1274.4,1291.0 L1274.2,1291.8 L1274.0,1292.6 L1273.8,1293.4 L1273.6,1294.2 L1273.4,1295.0 L1273.2,1295.8 L1273.1,1296.6 L1272.9,1297.4 L1272.8,1298.2 L1272.7,1299.0 L1272.5,1299.8 L1272.4,1300.6 L1272.3,1301.4 L1272.2,1302.2 L1272.1,1303.0 L1272.0,1303.8 L1271.9,1304.6 L1271.8,1305.4 L1271.8,1306.2 L1271.8,1307.0 L1271.8,1307.8 L1271.8,1308.6 L1271.8,1309.4 L1271.8,1310.2 L1271.8,1311.0 L1271.8,1311.8 L1271.8,1312.6 L1271.8,1313.4 L1271.8,1314.2 L1271.8,1314.5 L1270.3,1314.5 L1270.3,1314.2 L1270.3,1313.4 L1270.3,1312.6 L1270.3,1311.8 L1270.3,1311.0 L1270.3,1310.2 L1270.3,1309.4 L1270.3,1308.6 L1270.3,1307.8 L1270.3,1307.0 L1270.3,1306.2 L1270.3,1305.4 L1270.2,1304.6 L1270.2,1303.8 L1270.1,1303.0 L1270.0,1302.2 L1269.9,1301.4 L1269.8,1300.6 L1269.6,1299.8 L1269.5,1299.0 L1269.4,1298.2 L1269.2,1297.4 L1269.1,1296.6 L1268.9,1295.8 L1268.8,1295.0 L1268.6,1294.2 L1268.4,1293.4 L1268.2,1292.6 L1268.0,1291.8 L1267.7,1291.0 L1267.5,1290.2 L1267.2,1289.4 L1266.9,1288.6 L1266.6,1287.8 L1266.3,1287.0 L1266.0,1286.2 L1265.6,1285.4 L1265.3,1284.6 L1264.9,1283.8 L1264.6,1283.0 L1264.2,1282.2 L1263.9,1281.4 L1263.5,1280.6 L1263.1,1279.8 L1262.8,1279.0 L1262.4,1278.2 L1262.2,1277.4 L1261.9,1276.6 L1261.7,1275.8 L1261.5,1275.0 L1261.3,1274.2 L1261.1,1273.4 L1261.0,1272.6 L1260.9,1271.8 L1260.9,1271.0 L1260.9,1270.2 L1261.0,1269.4 L1261.1,1268.6 L1261.2,1267.8 L1261.2,1267.0 L1261.4,1266.2 L1261.5,1265.4 L1261.6,1264.6 L1261.8,1263.8 L1262.0,1263.0 L1262.2,1262.2 L1262.4,1261.4 L1262.5,1260.6 L1262.7,1259.8 L1262.9,1259.0 L1263.2,1258.2 L1263.4,1257.4 L1263.6,1256.6 L1263.8,1255.8 L1264.0,1255.0 L1264.2,1254.2 L1264.3,1253.4 L1264.4,1252.6 L1264.5,1251.8 L1264.6,1251.0 L1264.7,1250.2 L1264.8,1249.4 L1264.8,1248.6 L1264.8,1247.8 L1264.8,1247.0 L1264.8,1246.2 L1264.7,1245.4 L1264.6,1244.6 L1264.5,1243.8 L1264.4,1243.0 L1264.3,1242.2 L1264.1,1241.4 L1263.9,1240.6 L1263.7,1239.8 L1263.4,1239.0 L1263.1,1238.2 L1262.8,1237.4 L1262.4,1236.6 L1261.9,1235.8 L1261.4,1235.0 L1260.9,1234.2 L1260.4,1233.4 L1259.9,1232.6 L1259.4,1231.8 L1259.0,1231.0 L1258.5,1230.2 L1258.1,1229.4 L1257.6,1228.6 L1257.2,1227.8 L1256.7,1227.0 L1256.2,1226.2 L1255.7,1225.4 L1255.1,1224.6 L1254.6,1223.8 L1254.1,1223.0 L1253.5,1222.2 L1252.9,1221.4 L1252.2,1220.6 L1251.5,1219.8 L1250.8,1219.0 L1250.0,1218.2 L1249.2,1217.4 L1248.4,1216.6 L1247.6,1215.8 L1246.8,1215.0 L1246.1,1214.2 L1245.2,1213.4 L1244.4,1212.6 L1243.6,1211.8 L1242.7,1211.0 L1241.9,1210.2 L1241.1,1209.4 L1240.4,1208.6 L1239.7,1207.8 L1239.0,1207.0 L1238.3,1206.2 L1237.6,1205.4 L1237.0,1204.6 L1236.4,1203.8 L1235.9,1203.0 L1235.4,1202.2 L1234.9,1201.4 L1234.5,1200.6 L1234.1,1199.8 L1233.8,1199.0 L1233.4,1198.2 L1233.1,1197.4 L1232.8,1196.6 L1232.6,1195.8 L1232.5,1195.0 L1232.4,1194.2 L1232.3,1193.4 L1232.3,1192.6 L1232.2,1191.8 L1232.2,1191.0 L1232.1,1190.2 L1232.1,1189.4 L1232.0,1188.6 L1232.0,1187.8 L1232.0,1187.0 L1232.0,1186.2 L1232.0,1185.4 L1232.1,1184.6 L1232.1,1183.8 L1232.2,1183.0 L1232.3,1182.2 L1232.4,1181.4 L1232.5,1180.6 L1232.6,1179.8 L1232.8,1179.0 L1232.9,1178.2 L1233.0,1177.4 L1233.1,1176.6 L1233.3,1175.8 L1233.4,1175.0 L1233.6,1174.2 L1233.8,1173.4 L1234.0,1172.6 L1234.2,1171.8 L1234.4,1171.0 L1234.6,1170.2 L1234.9,1169.4 L1235.2,1168.6 L1235.5,1167.8 L1235.9,1167.0 L1236.2,1166.2 L1236.6,1165.4 L1237.0,1164.6 L1237.4,1163.8 L1237.8,1163.0 L1238.3,1162.2 L1238.8,1161.4 L1239.4,1160.6 L1239.9,1159.8 L1240.5,1159.0 L1241.2,1158.2 L1241.9,1157.4 L1242.6,1156.6 L1243.4,1155.8 L1244.3,1155.0 L1245.1,1154.2 L1246.0,1153.4 L1246.9,1152.6 L1247.7,1151.8 L1248.6,1151.0 L1249.5,1150.2 L1250.5,1149.4 L1251.4,1148.6 L1252.3,1147.8 L1253.2,1147.0 L1254.1,1146.2 L1254.9,1145.4 L1255.7,1144.6 L1256.5,1143.8 L1257.2,1143.0 L1258.0,1142.2 L1258.7,1141.4 L1259.3,1140.6 L1259.9,1139.8 L1260.5,1139.0 L1260.9,1138.2 L1261.4,1137.4 L1261.8,1136.6 L1262.2,1135.8 L1262.6,1135.0 L1262.9,1134.2 L1263.3,1133.4 L1263.7,1132.6 L1264.0,1131.8 L1264.4,1131.0 L1264.7,1130.2 L1265.0,1129.4 L1265.3,1128.6 L1265.5,1127.8 L1265.6,1127.0 L1265.8,1126.2 L1265.9,1125.4 L1266.0,1124.6 L1266.1,1123.8 L1266.2,1123.0 L1266.3,1122.2 L1266.4,1121.4 L1266.6,1120.6 L1266.7,1119.8 L1266.9,1119.0 L1267.0,1118.2 L1267.2,1117.4 L1267.4,1116.6 L1267.5,1115.8 L1267.7,1115.0 L1267.9,1114.2 L1268.0,1113.4 L1268.2,1112.6 L1268.3,1111.8 L1268.4,1111.0 L1268.6,1110.2 L1268.7,1109.4 L1268.9,1108.6 L1269.0,1107.8 L1269.1,1107.0 L1269.2,1106.2 L1269.3,1105.4 L1269.4,1104.6 L1269.5,1103.8 L1269.6,1103.0 L1269.7,1102.2 L1269.8,1101.4 L1269.9,1100.6 L1270.0,1099.8 L1270.0,1099.0 L1270.1,1098.2 L1270.2,1097.4 L1270.2,1096.6 L1270.3,1095.8 L1270.3,1095.0 L1270.3,1094.2 L1270.3,1093.4 L1270.3,1092.6 L1270.3,1091.8 L1270.3,1091.0 L1270.3,1090.2 L1270.3,1089.4 L1270.3,1088.6 L1270.3,1087.8 L1270.3,1087.0 L1270.3,1086.2Z" fill="#000" stroke="#000" stroke-width="0.5" stroke-linejoin="round"/>
<clipPath id="bc7"><path d="M1271.8,1086.2 L1271.8,1087.0 L1271.8,1087.8 L1271.8,1088.6 L1271.8,1089.4 L1271.8,1090.2 L1271.8,1091.0 L1271.8,1091.8 L1271.8,1092.6 L1271.8,1093.4 L1271.8,1094.2 L1271.8,1095.0 L1271.9,1095.8 L1271.9,1096.6 L1272.0,1097.4 L1272.1,1098.2 L1272.1,1099.0 L1272.2,1099.8 L1272.3,1100.6 L1272.4,1101.4 L1272.5,1102.2 L1272.5,1103.0 L1272.6,1103.8 L1272.7,1104.6 L1272.8,1105.4 L1272.9,1106.2 L1273.1,1107.0 L1273.2,1107.8 L1273.3,1108.6 L1273.4,1109.4 L1273.6,1110.2 L1273.7,1111.0 L1273.9,1111.8 L1274.0,1112.6 L1274.1,1113.4 L1274.3,1114.2 L1274.5,1115.0 L1274.6,1115.8 L1274.8,1116.6 L1275.0,1117.4 L1275.1,1118.2 L1275.3,1119.0 L1275.5,1119.8 L1275.6,1120.6 L1275.7,1121.4 L1275.9,1122.2 L1276.0,1123.0 L1276.1,1123.8 L1276.2,1124.6 L1276.3,1125.4 L1276.4,1126.2 L1276.5,1127.0 L1276.7,1127.8 L1276.9,1128.6 L1277.1,1129.4 L1277.4,1130.2 L1277.8,1131.0 L1278.2,1131.8 L1278.5,1132.6 L1278.9,1133.4 L1279.2,1134.2 L1279.6,1135.0 L1280.0,1135.8 L1280.4,1136.6 L1280.8,1137.4 L1281.2,1138.2 L1281.7,1139.0 L1282.2,1139.8 L1282.8,1140.6 L1283.5,1141.4 L1284.2,1142.2 L1284.9,1143.0 L1285.7,1143.8 L1286.5,1144.6 L1287.3,1145.4 L1288.1,1146.2 L1288.9,1147.0 L1289.8,1147.8 L1290.8,1148.6 L1291.7,1149.4 L1292.6,1150.2 L1293.6,1151.0 L1294.5,1151.8 L1295.3,1152.6 L1296.2,1153.4 L1297.0,1154.2 L1297.9,1155.0 L1298.7,1155.8 L1299.5,1156.6 L1300.3,1157.4 L1301.0,1158.2 L1301.6,1159.0 L1302.2,1159.8 L1302.8,1160.6 L1303.3,1161.4 L1303.8,1162.2 L1304.3,1163.0 L1304.8,1163.8 L1305.2,1164.6 L1305.6,1165.4 L1306.0,1166.2 L1306.3,1167.0 L1306.6,1167.8 L1307.0,1168.6 L1307.3,1169.4 L1307.5,1170.2 L1307.8,1171.0 L1308.0,1171.8 L1308.2,1172.6 L1308.4,1173.4 L1308.6,1174.2 L1308.7,1175.0 L1308.9,1175.8 L1309.1,1176.6 L1309.2,1177.4 L1309.3,1178.2 L1309.4,1179.0 L1309.5,1179.8 L1309.6,1180.6 L1309.7,1181.4 L1309.8,1182.2 L1309.9,1183.0 L1310.0,1183.8 L1310.1,1184.6 L1310.1,1185.4 L1310.2,1186.2 L1310.2,1187.0 L1310.2,1187.8 L1310.1,1188.6 L1310.1,1189.4 L1310.1,1190.2 L1310.0,1191.0 L1310.0,1191.8 L1309.9,1192.6 L1309.8,1193.4 L1309.7,1194.2 L1309.7,1195.0 L1309.5,1195.8 L1309.3,1196.6 L1309.1,1197.4 L1308.8,1198.2 L1308.4,1199.0 L1308.0,1199.8 L1307.6,1200.6 L1307.2,1201.4 L1306.8,1202.2 L1306.3,1203.0 L1305.8,1203.8 L1305.2,1204.6 L1304.5,1205.4 L1303.9,1206.2 L1303.2,1207.0 L1302.5,1207.8 L1301.8,1208.6 L1301.0,1209.4 L1300.2,1210.2 L1299.4,1211.0 L1298.6,1211.8 L1297.8,1212.6 L1296.9,1213.4 L1296.1,1214.2 L1295.3,1215.0 L1294.5,1215.8 L1293.7,1216.6 L1292.9,1217.4 L1292.1,1218.2 L1291.4,1219.0 L1290.6,1219.8 L1289.9,1220.6 L1289.3,1221.4 L1288.7,1222.2 L1288.1,1223.0 L1287.6,1223.8 L1287.0,1224.6 L1286.5,1225.4 L1286.0,1226.2 L1285.5,1227.0 L1285.0,1227.8 L1284.5,1228.6 L1284.1,1229.4 L1283.6,1230.2 L1283.2,1231.0 L1282.7,1231.8 L1282.3,1232.6 L1281.8,1233.4 L1281.3,1234.2 L1280.7,1235.0 L1280.2,1235.8 L1279.8,1236.6 L1279.4,1237.4 L1279.1,1238.2 L1278.8,1239.0 L1278.5,1239.8 L1278.2,1240.6 L1278.0,1241.4 L1277.9,1242.2 L1277.7,1243.0 L1277.6,1243.8 L1277.5,1244.6 L1277.4,1245.4 L1277.4,1246.2 L1277.3,1247.0 L1277.3,1247.8 L1277.4,1248.6 L1277.4,1249.4 L1277.5,1250.2 L1277.6,1251.0 L1277.7,1251.8 L1277.8,1252.6 L1277.9,1253.4 L1278.0,1254.2 L1278.2,1255.0 L1278.3,1255.8 L1278.5,1256.6 L1278.8,1257.4 L1279.0,1258.2 L1279.2,1259.0 L1279.4,1259.8 L1279.6,1260.6 L1279.8,1261.4 L1280.0,1262.2 L1280.2,1263.0 L1280.4,1263.8 L1280.5,1264.6 L1280.7,1265.4 L1280.8,1266.2 L1280.9,1267.0 L1281.0,1267.8 L1281.1,1268.6 L1281.2,1269.4 L1281.2,1270.2 L1281.3,1271.0 L1281.2,1271.8 L1281.2,1272.6 L1281.0,1273.4 L1280.9,1274.2 L1280.7,1275.0 L1280.4,1275.8 L1280.2,1276.6 L1280.0,1277.4 L1279.7,1278.2 L1279.4,1279.0 L1279.1,1279.8 L1278.7,1280.6 L1278.3,1281.4 L1277.9,1282.2 L1277.6,1283.0 L1277.2,1283.8 L1276.9,1284.6 L1276.5,1285.4 L1276.2,1286.2 L1275.9,1287.0 L1275.5,1287.8 L1275.2,1288.6 L1274.9,1289.4 L1274.7,1290.2 L1274.4,1291.0 L1274.2,1291.8 L1274.0,1292.6 L1273.8,1293.4 L1273.6,1294.2 L1273.4,1295.0 L1273.2,1295.8 L1273.1,1296.6 L1272.9,1297.4 L1272.8,1298.2 L1272.7,1299.0 L1272.5,1299.8 L1272.4,1300.6 L1272.3,1301.4 L1272.2,1302.2 L1272.1,1303.0 L1272.0,1303.8 L1271.9,1304.6 L1271.8,1305.4 L1271.8,1306.2 L1271.8,1307.0 L1271.8,1307.8 L1271.8,1308.6 L1271.8,1309.4 L1271.8,1310.2 L1271.8,1311.0 L1271.8,1311.8 L1271.8,1312.6 L1271.8,1313.4 L1271.8,1314.2 L1271.8,1314.5 L1270.3,1314.5 L1270.3,1314.2 L1270.3,1313.4 L1270.3,1312.6 L1270.3,1311.8 L1270.3,1311.0 L1270.3,1310.2 L1270.3,1309.4 L1270.3,1308.6 L1270.3,1307.8 L1270.3,1307.0 L1270.3,1306.2 L1270.3,1305.4 L1270.2,1304.6 L1270.2,1303.8 L1270.1,1303.0 L1270.0,1302.2 L1269.9,1301.4 L1269.8,1300.6 L1269.6,1299.8 L1269.5,1299.0 L1269.4,1298.2 L1269.2,1297.4 L1269.1,1296.6 L1268.9,1295.8 L1268.8,1295.0 L1268.6,1294.2 L1268.4,1293.4 L1268.2,1292.6 L1268.0,1291.8 L1267.7,1291.0 L1267.5,1290.2 L1267.2,1289.4 L1266.9,1288.6 L1266.6,1287.8 L1266.3,1287.0 L1266.0,1286.2 L1265.6,1285.4 L1265.3,1284.6 L1264.9,1283.8 L1264.6,1283.0 L1264.2,1282.2 L1263.9,1281.4 L1263.5,1280.6 L1263.1,1279.8 L1262.8,1279.0 L1262.4,1278.2 L1262.2,1277.4 L1261.9,1276.6 L1261.7,1275.8 L1261.5,1275.0 L1261.3,1274.2 L1261.1,1273.4 L1261.0,1272.6 L1260.9,1271.8 L1260.9,1271.0 L1260.9,1270.2 L1261.0,1269.4 L1261.1,1268.6 L1261.2,1267.8 L1261.2,1267.0 L1261.4,1266.2 L1261.5,1265.4 L1261.6,1264.6 L1261.8,1263.8 L1262.0,1263.0 L1262.2,1262.2 L1262.4,1261.4 L1262.5,1260.6 L1262.7,1259.8 L1262.9,1259.0 L1263.2,1258.2 L1263.4,1257.4 L1263.6,1256.6 L1263.8,1255.8 L1264.0,1255.0 L1264.2,1254.2 L1264.3,1253.4 L1264.4,1252.6 L1264.5,1251.8 L1264.6,1251.0 L1264.7,1250.2 L1264.8,1249.4 L1264.8,1248.6 L1264.8,1247.8 L1264.8,1247.0 L1264.8,1246.2 L1264.7,1245.4 L1264.6,1244.6 L1264.5,1243.8 L1264.4,1243.0 L1264.3,1242.2 L1264.1,1241.4 L1263.9,1240.6 L1263.7,1239.8 L1263.4,1239.0 L1263.1,1238.2 L1262.8,1237.4 L1262.4,1236.6 L1261.9,1235.8 L1261.4,1235.0 L1260.9,1234.2 L1260.4,1233.4 L1259.9,1232.6 L1259.4,1231.8 L1259.0,1231.0 L1258.5,1230.2 L1258.1,1229.4 L1257.6,1228.6 L1257.2,1227.8 L1256.7,1227.0 L1256.2,1226.2 L1255.7,1225.4 L1255.1,1224.6 L1254.6,1223.8 L1254.1,1223.0 L1253.5,1222.2 L1252.9,1221.4 L1252.2,1220.6 L1251.5,1219.8 L1250.8,1219.0 L1250.0,1218.2 L1249.2,1217.4 L1248.4,1216.6 L1247.6,1215.8 L1246.8,1215.0 L1246.1,1214.2 L1245.2,1213.4 L1244.4,1212.6 L1243.6,1211.8 L1242.7,1211.0 L1241.9,1210.2 L1241.1,1209.4 L1240.4,1208.6 L1239.7,1207.8 L1239.0,1207.0 L1238.3,1206.2 L1237.6,1205.4 L1237.0,1204.6 L1236.4,1203.8 L1235.9,1203.0 L1235.4,1202.2 L1234.9,1201.4 L1234.5,1200.6 L1234.1,1199.8 L1233.8,1199.0 L1233.4,1198.2 L1233.1,1197.4 L1232.8,1196.6 L1232.6,1195.8 L1232.5,1195.0 L1232.4,1194.2 L1232.3,1193.4 L1232.3,1192.6 L1232.2,1191.8 L1232.2,1191.0 L1232.1,1190.2 L1232.1,1189.4 L1232.0,1188.6 L1232.0,1187.8 L1232.0,1187.0 L1232.0,1186.2 L1232.0,1185.4 L1232.1,1184.6 L1232.1,1183.8 L1232.2,1183.0 L1232.3,1182.2 L1232.4,1181.4 L1232.5,1180.6 L1232.6,1179.8 L1232.8,1179.0 L1232.9,1178.2 L1233.0,1177.4 L1233.1,1176.6 L1233.3,1175.8 L1233.4,1175.0 L1233.6,1174.2 L1233.8,1173.4 L1234.0,1172.6 L1234.2,1171.8 L1234.4,1171.0 L1234.6,1170.2 L1234.9,1169.4 L1235.2,1168.6 L1235.5,1167.8 L1235.9,1167.0 L1236.2,1166.2 L1236.6,1165.4 L1237.0,1164.6 L1237.4,1163.8 L1237.8,1163.0 L1238.3,1162.2 L1238.8,1161.4 L1239.4,1160.6 L1239.9,1159.8 L1240.5,1159.0 L1241.2,1158.2 L1241.9,1157.4 L1242.6,1156.6 L1243.4,1155.8 L1244.3,1155.0 L1245.1,1154.2 L1246.0,1153.4 L1246.9,1152.6 L1247.7,1151.8 L1248.6,1151.0 L1249.5,1150.2 L1250.5,1149.4 L1251.4,1148.6 L1252.3,1147.8 L1253.2,1147.0 L1254.1,1146.2 L1254.9,1145.4 L1255.7,1144.6 L1256.5,1143.8 L1257.2,1143.0 L1258.0,1142.2 L1258.7,1141.4 L1259.3,1140.6 L1259.9,1139.8 L1260.5,1139.0 L1260.9,1138.2 L1261.4,1137.4 L1261.8,1136.6 L1262.2,1135.8 L1262.6,1135.0 L1262.9,1134.2 L1263.3,1133.4 L1263.7,1132.6 L1264.0,1131.8 L1264.4,1131.0 L1264.7,1130.2 L1265.0,1129.4 L1265.3,1128.6 L1265.5,1127.8 L1265.6,1127.0 L1265.8,1126.2 L1265.9,1125.4 L1266.0,1124.6 L1266.1,1123.8 L1266.2,1123.0 L1266.3,1122.2 L1266.4,1121.4 L1266.6,1120.6 L1266.7,1119.8 L1266.9,1119.0 L1267.0,1118.2 L1267.2,1117.4 L1267.4,1116.6 L1267.5,1115.8 L1267.7,1115.0 L1267.9,1114.2 L1268.0,1113.4 L1268.2,1112.6 L1268.3,1111.8 L1268.4,1111.0 L1268.6,1110.2 L1268.7,1109.4 L1268.9,1108.6 L1269.0,1107.8 L1269.1,1107.0 L1269.2,1106.2 L1269.3,1105.4 L1269.4,1104.6 L1269.5,1103.8 L1269.6,1103.0 L1269.7,1102.2 L1269.8,1101.4 L1269.9,1100.6 L1270.0,1099.8 L1270.0,1099.0 L1270.1,1098.2 L1270.2,1097.4 L1270.2,1096.6 L1270.3,1095.8 L1270.3,1095.0 L1270.3,1094.2 L1270.3,1093.4 L1270.3,1092.6 L1270.3,1091.8 L1270.3,1091.0 L1270.3,1090.2 L1270.3,1089.4 L1270.3,1088.6 L1270.3,1087.8 L1270.3,1087.0 L1270.3,1086.2Z"/></clipPath>
<g fill="#fff" clip-path="url(#bc7)"><rect x="1262.5" y="1127.32" width="17.1" height="2.24"/><rect x="1262.5" y="1153.26" width="17.1" height="3.88"/><rect x="1262.5" y="1159.34" width="17.1" height="2.24"/><rect x="1262.5" y="1166.56" width="17.1" height="5.85"/><rect x="1262.5" y="1178.06" width="17.1" height="2.57"/><rect x="1262.5" y="1182.16" width="17.1" height="2.57"/><rect x="1262.5" y="1191.03" width="17.1" height="3.88"/><rect x="1262.5" y="1196.45" width="17.1" height="11.77"/><rect x="1262.5" y="1210.24" width="17.1" height="2.24"/><rect x="1262.5" y="1214.84" width="17.1" height="2.24"/><rect x="1262.5" y="1222.56" width="17.1" height="2.24"/><rect x="1262.5" y="1230.44" width="17.1" height="2.90"/><rect x="1259.6" y="1270.18" width="23.0" height="2.24"/></g>
<line x1="1223.1" x2="1319.2" y1="1194.4" y2="1194.4" stroke="#000" stroke-width="3.9" stroke-linecap="round"/>
<g fill="#fff" clip-path="url(#bc7)"><rect x="1262.5" y="1127.32" width="17.1" height="2.24"/><rect x="1262.5" y="1153.26" width="17.1" height="3.88"/><rect x="1262.5" y="1159.34" width="17.1" height="2.24"/><rect x="1262.5" y="1166.56" width="17.1" height="5.85"/><rect x="1262.5" y="1178.06" width="17.1" height="2.57"/><rect x="1262.5" y="1182.16" width="17.1" height="2.57"/><rect x="1262.5" y="1191.03" width="17.1" height="3.88"/><rect x="1262.5" y="1196.45" width="17.1" height="11.77"/><rect x="1262.5" y="1210.24" width="17.1" height="2.24"/><rect x="1262.5" y="1214.84" width="17.1" height="2.24"/><rect x="1262.5" y="1222.56" width="17.1" height="2.24"/><rect x="1262.5" y="1230.44" width="17.1" height="2.90"/><rect x="1259.6" y="1270.18" width="23.0" height="2.24"/></g>
<line x1="1444.1" x2="1444.1" y1="1092.5" y2="1332.5" stroke="#000" stroke-width="2.1" stroke-linecap="butt"/>
<line x1="1438.4" x2="1444.6" y1="1093.5" y2="1093.5" stroke="#000" stroke-width="2.1"/>
<line x1="1438.4" x2="1444.6" y1="1176.8" y2="1176.8" stroke="#000" stroke-width="2.1"/>
<line x1="1438.4" x2="1444.6" y1="1239.7" y2="1239.7" stroke="#000" stroke-width="2.1"/>
<line x1="1438.4" x2="1444.6" y1="1302.5" y2="1302.5" stroke="#000" stroke-width="2.1"/>
<text x="1429.9" y="1090.8" font-size="28.6" text-anchor="middle" fill="#000" transform="rotate(-90 1429.9 1090.8)" textLength="32.7" lengthAdjust="spacingAndGlyphs">5.0</text>
<text x="1429.9" y="1174.4" font-size="28.6" text-anchor="middle" fill="#000" transform="rotate(-90 1429.9 1174.4)" textLength="33.6" lengthAdjust="spacingAndGlyphs">2.0</text>
<text x="1429.9" y="1236.8" font-size="28.6" text-anchor="middle" fill="#000" transform="rotate(-90 1429.9 1236.8)" textLength="32.7" lengthAdjust="spacingAndGlyphs">1.0</text>
<text x="1429.9" y="1299.7" font-size="28.6" text-anchor="middle" fill="#000" transform="rotate(-90 1429.9 1299.7)" textLength="32.7" lengthAdjust="spacingAndGlyphs">0.5</text>
<text x="1396.6" y="1198.0" font-size="36" text-anchor="middle" fill="#000" transform="rotate(-90 1396.6 1198.0)" textLength="186.0" lengthAdjust="spacingAndGlyphs">cis-Aconitate</text>
<text x="1536.0" y="1053.7" font-size="30" text-anchor="middle" textLength="142.8" lengthAdjust="spacingAndGlyphs"><tspan font-style="italic">P</tspan> = 0.0014</text>
<path d="M1498.4,1180.9 L1498.4,1181.7 L1498.4,1182.5 L1498.4,1183.3 L1498.5,1184.1 L1498.6,1184.9 L1498.6,1185.7 L1498.7,1186.5 L1498.8,1187.3 L1499.0,1188.1 L1499.1,1188.9 L1499.2,1189.7 L1499.4,1190.5 L1499.5,1191.3 L1499.7,1192.1 L1500.1,1192.9 L1500.5,1193.7 L1501.0,1194.5 L1501.6,1195.3 L1502.3,1196.1 L1502.9,1196.9 L1503.6,1197.7 L1504.3,1198.5 L1505.1,1199.3 L1506.0,1200.1 L1506.9,1200.9 L1507.9,1201.7 L1508.9,1202.5 L1509.9,1203.3 L1510.9,1204.1 L1511.9,1204.9 L1512.7,1205.7 L1513.6,1206.5 L1514.5,1207.3 L1515.4,1208.1 L1516.2,1208.9 L1517.0,1209.7 L1517.8,1210.5 L1518.5,1211.3 L1519.2,1212.1 L1519.8,1212.9 L1520.4,1213.7 L1520.9,1214.5 L1521.5,1215.3 L1522.0,1216.1 L1522.5,1216.9 L1522.9,1217.7 L1523.2,1218.5 L1523.5,1219.3 L1523.7,1220.1 L1523.9,1220.9 L1524.1,1221.7 L1524.2,1222.5 L1524.4,1223.3 L1524.5,1224.1 L1524.6,1224.9 L1524.7,1225.7 L1524.8,1226.5 L1524.9,1227.3 L1525.0,1228.1 L1525.2,1228.9 L1525.3,1229.7 L1525.4,1230.5 L1525.5,1231.3 L1525.6,1232.1 L1525.7,1232.9 L1525.8,1233.7 L1525.9,1234.5 L1526.0,1235.3 L1526.1,1236.1 L1526.2,1236.9 L1526.3,1237.7 L1526.4,1238.5 L1526.5,1239.3 L1526.6,1240.1 L1526.7,1240.9 L1526.7,1241.7 L1526.7,1242.5 L1526.7,1243.3 L1526.7,1244.1 L1526.6,1244.9 L1526.5,1245.7 L1526.4,1246.5 L1526.3,1247.3 L1526.1,1248.1 L1525.9,1248.9 L1525.8,1249.7 L1525.5,1250.5 L1525.2,1251.3 L1524.7,1252.1 L1524.2,1252.9 L1523.7,1253.7 L1523.1,1254.5 L1522.5,1255.3 L1521.9,1256.1 L1521.3,1256.9 L1520.6,1257.7 L1519.9,1258.5 L1519.1,1259.3 L1518.2,1260.1 L1517.4,1260.9 L1516.5,1261.7 L1515.6,1262.5 L1514.8,1263.3 L1514.0,1264.1 L1513.1,1264.9 L1512.3,1265.7 L1511.4,1266.5 L1510.5,1267.3 L1509.7,1268.1 L1508.9,1268.9 L1508.2,1269.7 L1507.6,1270.5 L1507.1,1271.3 L1506.5,1272.1 L1506.0,1272.9 L1505.4,1273.7 L1505.0,1274.5 L1504.6,1275.3 L1504.3,1276.1 L1504.0,1276.9 L1503.9,1277.7 L1503.8,1278.5 L1503.8,1279.3 L1503.7,1280.1 L1503.6,1280.9 L1503.6,1281.7 L1503.5,1282.5 L1503.5,1283.3 L1503.5,1284.1 L1503.5,1284.9 L1503.5,1285.7 L1503.5,1286.5 L1503.6,1287.3 L1503.6,1288.1 L1503.7,1288.9 L1503.9,1289.7 L1504.1,1290.5 L1504.2,1291.3 L1504.0,1292.1 L1503.8,1292.9 L1503.5,1293.7 L1503.1,1294.5 L1502.8,1295.3 L1502.5,1296.1 L1502.3,1296.9 L1502.0,1297.7 L1501.8,1298.5 L1501.5,1299.3 L1501.3,1300.1 L1501.0,1300.9 L1500.8,1301.7 L1500.6,1302.5 L1500.4,1303.3 L1500.2,1304.1 L1500.0,1304.9 L1499.8,1305.7 L1499.6,1306.5 L1499.4,1307.3 L1499.2,1308.1 L1499.1,1308.9 L1499.0,1309.7 L1498.9,1310.5 L1498.8,1311.3 L1498.8,1312.1 L1498.7,1312.9 L1498.6,1313.7 L1498.6,1314.5 L1498.5,1315.3 L1498.5,1316.1 L1498.5,1316.9 L1498.4,1317.7 L1498.4,1318.5 L1498.4,1319.3 L1498.4,1320.1 L1498.4,1320.5 L1498.4,1320.5 L1498.4,1320.1 L1498.4,1319.3 L1498.3,1318.5 L1498.3,1317.7 L1498.3,1316.9 L1498.3,1316.1 L1498.2,1315.3 L1498.2,1314.5 L1498.1,1313.7 L1498.0,1312.9 L1498.0,1312.1 L1497.9,1311.3 L1497.8,1310.5 L1497.8,1309.7 L1497.7,1308.9 L1497.5,1308.1 L1497.4,1307.3 L1497.2,1306.5 L1497.0,1305.7 L1496.8,1304.9 L1496.6,1304.1 L1496.4,1303.3 L1496.2,1302.5 L1495.9,1301.7 L1495.7,1300.9 L1495.5,1300.1 L1495.2,1299.3 L1495.0,1298.5 L1494.7,1297.7 L1494.5,1296.9 L1494.2,1296.1 L1493.9,1295.3 L1493.6,1294.5 L1493.3,1293.7 L1493.0,1292.9 L1492.7,1292.1 L1492.6,1291.3 L1492.6,1290.5 L1492.9,1289.7 L1493.0,1288.9 L1493.1,1288.1 L1493.2,1287.3 L1493.2,1286.5 L1493.2,1285.7 L1493.3,1284.9 L1493.3,1284.1 L1493.2,1283.3 L1493.2,1282.5 L1493.2,1281.7 L1493.1,1280.9 L1493.1,1280.1 L1493.0,1279.3 L1492.9,1278.5 L1492.8,1277.7 L1492.7,1276.9 L1492.5,1276.1 L1492.2,1275.3 L1491.8,1274.5 L1491.3,1273.7 L1490.8,1272.9 L1490.2,1272.1 L1489.7,1271.3 L1489.1,1270.5 L1488.5,1269.7 L1487.8,1268.9 L1487.0,1268.1 L1486.2,1267.3 L1485.4,1266.5 L1484.5,1265.7 L1483.6,1264.9 L1482.8,1264.1 L1481.9,1263.3 L1481.1,1262.5 L1480.3,1261.7 L1479.4,1260.9 L1478.5,1260.1 L1477.7,1259.3 L1476.9,1258.5 L1476.1,1257.7 L1475.4,1256.9 L1474.8,1256.1 L1474.2,1255.3 L1473.6,1254.5 L1473.0,1253.7 L1472.5,1252.9 L1472.0,1252.1 L1471.6,1251.3 L1471.2,1250.5 L1471.0,1249.7 L1470.8,1248.9 L1470.6,1248.1 L1470.5,1247.3 L1470.3,1246.5 L1470.2,1245.7 L1470.1,1244.9 L1470.1,1244.1 L1470.0,1243.3 L1470.0,1242.5 L1470.0,1241.7 L1470.1,1240.9 L1470.2,1240.1 L1470.3,1239.3 L1470.4,1238.5 L1470.5,1237.7 L1470.6,1236.9 L1470.7,1236.1 L1470.8,1235.3 L1470.9,1234.5 L1470.9,1233.7 L1471.0,1232.9 L1471.1,1232.1 L1471.3,1231.3 L1471.4,1230.5 L1471.5,1229.7 L1471.6,1228.9 L1471.7,1228.1 L1471.8,1227.3 L1471.9,1226.5 L1472.0,1225.7 L1472.1,1224.9 L1472.3,1224.1 L1472.4,1223.3 L1472.5,1222.5 L1472.7,1221.7 L1472.8,1220.9 L1473.0,1220.1 L1473.2,1219.3 L1473.5,1218.5 L1473.9,1217.7 L1474.3,1216.9 L1474.7,1216.1 L1475.3,1215.3 L1475.8,1214.5 L1476.4,1213.7 L1477.0,1212.9 L1477.6,1212.1 L1478.2,1211.3 L1479.0,1210.5 L1479.7,1209.7 L1480.5,1208.9 L1481.4,1208.1 L1482.3,1207.3 L1483.1,1206.5 L1484.0,1205.7 L1484.9,1204.9 L1485.8,1204.1 L1486.8,1203.3 L1487.8,1202.5 L1488.9,1201.7 L1489.8,1200.9 L1490.8,1200.1 L1491.7,1199.3 L1492.4,1198.5 L1493.1,1197.7 L1493.8,1196.9 L1494.5,1196.1 L1495.1,1195.3 L1495.7,1194.5 L1496.2,1193.7 L1496.7,1192.9 L1497.0,1192.1 L1497.2,1191.3 L1497.4,1190.5 L1497.5,1189.7 L1497.7,1188.9 L1497.8,1188.1 L1497.9,1187.3 L1498.0,1186.5 L1498.1,1185.7 L1498.2,1184.9 L1498.2,1184.1 L1498.3,1183.3 L1498.3,1182.5 L1498.4,1181.7 L1498.4,1180.9Z" fill="#d9d9d9" stroke="#000" stroke-width="2.1" stroke-linejoin="round"/>
<g fill="#000"><rect x="1490.2" y="1209.38" width="16.3" height="2.16"/><rect x="1490.2" y="1219.03" width="16.3" height="2.86"/><rect x="1490.2" y="1221.36" width="16.3" height="3.33"/><rect x="1490.2" y="1235.55" width="16.3" height="10.30"/><rect x="1490.2" y="1254.85" width="16.3" height="2.40"/><rect x="1490.2" y="1258.10" width="16.3" height="3.79"/><rect x="1490.2" y="1289.15" width="16.3" height="2.16"/></g>
<line x1="1452.1" x2="1544.9" y1="1241.9" y2="1241.9" stroke="#000" stroke-width="3.9" stroke-linecap="round"/>
<path d="M1592.4,1096.0 L1592.4,1096.8 L1592.4,1097.6 L1592.4,1098.4 L1592.4,1099.2 L1592.4,1100.0 L1592.4,1100.8 L1592.5,1101.6 L1592.7,1102.4 L1592.8,1103.2 L1592.9,1104.0 L1593.0,1104.8 L1593.2,1105.6 L1593.3,1106.4 L1593.4,1107.2 L1593.5,1108.0 L1593.7,1108.8 L1593.8,1109.6 L1594.0,1110.4 L1594.1,1111.2 L1594.2,1112.0 L1594.4,1112.8 L1594.5,1113.6 L1594.6,1114.4 L1594.7,1115.2 L1594.8,1116.0 L1594.9,1116.8 L1594.9,1117.6 L1595.0,1118.4 L1595.1,1119.2 L1595.1,1120.0 L1595.2,1120.8 L1595.2,1121.6 L1595.3,1122.4 L1595.3,1123.2 L1595.3,1124.0 L1595.3,1124.8 L1595.3,1125.6 L1595.3,1126.4 L1595.2,1127.2 L1595.1,1128.0 L1595.0,1128.8 L1594.9,1129.6 L1594.8,1130.4 L1594.7,1131.2 L1594.6,1132.0 L1594.5,1132.8 L1594.4,1133.6 L1594.3,1134.4 L1594.2,1135.2 L1594.2,1136.0 L1594.1,1136.8 L1594.0,1137.6 L1594.0,1138.4 L1593.9,1139.2 L1593.8,1140.0 L1593.8,1140.8 L1593.7,1141.6 L1593.6,1142.4 L1593.6,1143.2 L1593.5,1144.0 L1593.5,1144.8 L1593.4,1145.6 L1593.4,1146.4 L1593.3,1147.2 L1593.3,1148.0 L1593.2,1148.8 L1593.2,1149.6 L1593.1,1150.4 L1593.1,1151.2 L1593.0,1152.0 L1593.0,1152.8 L1592.9,1153.6 L1592.9,1154.4 L1592.9,1155.2 L1592.8,1156.0 L1592.8,1156.8 L1592.8,1157.6 L1592.8,1158.4 L1592.8,1159.2 L1592.8,1160.0 L1592.8,1160.8 L1592.8,1161.6 L1592.9,1162.4 L1592.9,1163.2 L1593.0,1164.0 L1593.0,1164.8 L1593.1,1165.6 L1593.1,1166.4 L1593.2,1167.2 L1593.3,1168.0 L1593.3,1168.8 L1593.4,1169.6 L1593.5,1170.4 L1593.6,1171.2 L1593.7,1172.0 L1593.9,1172.8 L1594.1,1173.6 L1594.4,1174.4 L1594.6,1175.2 L1594.9,1176.0 L1595.2,1176.8 L1595.5,1177.6 L1595.8,1178.4 L1596.1,1179.2 L1596.4,1180.0 L1596.7,1180.8 L1597.0,1181.6 L1597.3,1182.4 L1597.6,1183.2 L1598.0,1184.0 L1598.3,1184.8 L1598.7,1185.6 L1599.1,1186.4 L1599.5,1187.2 L1599.9,1188.0 L1600.3,1188.8 L1600.8,1189.6 L1601.3,1190.4 L1601.8,1191.2 L1602.4,1192.0 L1603.0,1192.8 L1603.6,1193.6 L1604.3,1194.4 L1604.9,1195.2 L1605.6,1196.0 L1606.3,1196.8 L1607.0,1197.6 L1607.8,1198.4 L1608.6,1199.2 L1609.4,1200.0 L1610.2,1200.8 L1611.1,1201.6 L1611.9,1202.4 L1612.8,1203.2 L1613.7,1204.0 L1614.7,1204.8 L1615.6,1205.6 L1616.6,1206.4 L1617.6,1207.2 L1618.6,1208.0 L1619.5,1208.8 L1620.3,1209.6 L1621.1,1210.4 L1621.9,1211.2 L1622.6,1212.0 L1623.3,1212.8 L1624.0,1213.6 L1624.6,1214.4 L1625.3,1215.2 L1625.9,1216.0 L1626.4,1216.8 L1627.0,1217.6 L1627.6,1218.4 L1628.3,1219.2 L1628.8,1220.0 L1629.2,1220.8 L1629.3,1221.6 L1629.3,1222.4 L1629.3,1223.2 L1629.2,1224.0 L1629.2,1224.8 L1629.1,1225.6 L1629.1,1226.4 L1629.0,1227.2 L1628.9,1228.0 L1628.8,1228.8 L1628.6,1229.6 L1628.2,1230.4 L1627.7,1231.2 L1627.2,1232.0 L1626.5,1232.8 L1625.9,1233.6 L1625.2,1234.4 L1624.5,1235.2 L1623.8,1236.0 L1623.0,1236.8 L1622.1,1237.6 L1621.2,1238.4 L1620.2,1239.2 L1619.2,1240.0 L1618.2,1240.8 L1617.2,1241.6 L1616.2,1242.4 L1615.2,1243.2 L1614.1,1244.0 L1613.0,1244.8 L1611.8,1245.6 L1610.7,1246.4 L1609.6,1247.2 L1608.5,1248.0 L1607.5,1248.8 L1606.6,1249.6 L1605.8,1250.4 L1604.9,1251.2 L1604.1,1252.0 L1603.3,1252.8 L1602.6,1253.6 L1601.9,1254.4 L1601.3,1255.2 L1600.7,1256.0 L1600.3,1256.8 L1599.9,1257.6 L1599.5,1258.4 L1599.2,1259.2 L1598.9,1260.0 L1598.6,1260.8 L1598.4,1261.6 L1598.1,1262.4 L1597.8,1263.2 L1597.6,1264.0 L1597.3,1264.8 L1597.1,1265.6 L1596.9,1266.4 L1596.7,1267.2 L1596.5,1268.0 L1596.2,1268.8 L1596.0,1269.6 L1595.8,1270.4 L1595.6,1271.2 L1595.4,1272.0 L1595.2,1272.8 L1594.9,1273.6 L1594.7,1274.4 L1594.5,1275.2 L1594.3,1276.0 L1594.1,1276.8 L1593.9,1277.6 L1593.7,1278.4 L1593.6,1279.2 L1593.4,1280.0 L1593.3,1280.8 L1593.2,1281.6 L1593.1,1282.4 L1592.9,1283.2 L1592.8,1284.0 L1592.7,1284.8 L1592.6,1285.6 L1592.5,1286.4 L1592.4,1287.2 L1592.4,1288.0 L1592.4,1288.8 L1592.4,1289.6 L1592.4,1290.4 L1592.4,1291.2 L1592.4,1292.0 L1592.4,1292.8 L1592.4,1293.6 L1592.4,1294.4 L1592.4,1295.2 L1592.4,1296.0 L1592.4,1296.5 L1590.9,1296.5 L1590.9,1296.0 L1590.9,1295.2 L1590.9,1294.4 L1590.9,1293.6 L1590.9,1292.8 L1590.9,1292.0 L1590.9,1291.2 L1590.9,1290.4 L1590.9,1289.6 L1590.9,1288.8 L1590.9,1288.0 L1590.9,1287.2 L1590.8,1286.4 L1590.7,1285.6 L1590.5,1284.8 L1590.4,1284.0 L1590.3,1283.2 L1590.2,1282.4 L1590.1,1281.6 L1589.9,1280.8 L1589.8,1280.0 L1589.7,1279.2 L1589.5,1278.4 L1589.4,1277.6 L1589.2,1276.8 L1589.0,1276.0 L1588.8,1275.2 L1588.5,1274.4 L1588.3,1273.6 L1588.1,1272.8 L1587.9,1272.0 L1587.7,1271.2 L1587.4,1270.4 L1587.2,1269.6 L1587.0,1268.8 L1586.8,1268.0 L1586.6,1267.2 L1586.4,1266.4 L1586.1,1265.6 L1585.9,1264.8 L1585.7,1264.0 L1585.4,1263.2 L1585.2,1262.4 L1584.9,1261.6 L1584.6,1260.8 L1584.3,1260.0 L1584.0,1259.2 L1583.7,1258.4 L1583.4,1257.6 L1583.0,1256.8 L1582.5,1256.0 L1582.0,1255.2 L1581.4,1254.4 L1580.7,1253.6 L1579.9,1252.8 L1579.2,1252.0 L1578.3,1251.2 L1577.5,1250.4 L1576.6,1249.6 L1575.7,1248.8 L1574.7,1248.0 L1573.7,1247.2 L1572.6,1246.4 L1571.4,1245.6 L1570.3,1244.8 L1569.2,1244.0 L1568.1,1243.2 L1567.1,1242.4 L1566.1,1241.6 L1565.0,1240.8 L1564.0,1240.0 L1563.0,1239.2 L1562.0,1238.4 L1561.1,1237.6 L1560.3,1236.8 L1559.5,1236.0 L1558.8,1235.2 L1558.1,1234.4 L1557.4,1233.6 L1556.7,1232.8 L1556.1,1232.0 L1555.5,1231.2 L1555.0,1230.4 L1554.7,1229.6 L1554.5,1228.8 L1554.4,1228.0 L1554.3,1227.2 L1554.2,1226.4 L1554.1,1225.6 L1554.1,1224.8 L1554.0,1224.0 L1554.0,1223.2 L1554.0,1222.4 L1554.0,1221.6 L1554.1,1220.8 L1554.5,1220.0 L1555.0,1219.2 L1555.6,1218.4 L1556.2,1217.6 L1556.8,1216.8 L1557.4,1216.0 L1558.0,1215.2 L1558.6,1214.4 L1559.3,1213.6 L1559.9,1212.8 L1560.7,1212.0 L1561.4,1211.2 L1562.1,1210.4 L1562.9,1209.6 L1563.8,1208.8 L1564.7,1208.0 L1565.6,1207.2 L1566.6,1206.4 L1567.6,1205.6 L1568.6,1204.8 L1569.5,1204.0 L1570.5,1203.2 L1571.3,1202.4 L1572.2,1201.6 L1573.0,1200.8 L1573.9,1200.0 L1574.7,1199.2 L1575.5,1198.4 L1576.2,1197.6 L1577.0,1196.8 L1577.7,1196.0 L1578.3,1195.2 L1579.0,1194.4 L1579.6,1193.6 L1580.3,1192.8 L1580.9,1192.0 L1581.4,1191.2 L1582.0,1190.4 L1582.5,1189.6 L1582.9,1188.8 L1583.4,1188.0 L1583.8,1187.2 L1584.2,1186.4 L1584.6,1185.6 L1584.9,1184.8 L1585.3,1184.0 L1585.6,1183.2 L1586.0,1182.4 L1586.3,1181.6 L1586.6,1180.8 L1586.9,1180.0 L1587.2,1179.2 L1587.5,1178.4 L1587.8,1177.6 L1588.1,1176.8 L1588.3,1176.0 L1588.6,1175.2 L1588.9,1174.4 L1589.1,1173.6 L1589.3,1172.8 L1589.5,1172.0 L1589.7,1171.2 L1589.8,1170.4 L1589.8,1169.6 L1589.9,1168.8 L1590.0,1168.0 L1590.1,1167.2 L1590.1,1166.4 L1590.2,1165.6 L1590.3,1164.8 L1590.3,1164.0 L1590.3,1163.2 L1590.4,1162.4 L1590.4,1161.6 L1590.4,1160.8 L1590.5,1160.0 L1590.5,1159.2 L1590.5,1158.4 L1590.5,1157.6 L1590.4,1156.8 L1590.4,1156.0 L1590.4,1155.2 L1590.4,1154.4 L1590.3,1153.6 L1590.3,1152.8 L1590.2,1152.0 L1590.2,1151.2 L1590.1,1150.4 L1590.1,1149.6 L1590.0,1148.8 L1590.0,1148.0 L1589.9,1147.2 L1589.9,1146.4 L1589.8,1145.6 L1589.8,1144.8 L1589.7,1144.0 L1589.7,1143.2 L1589.6,1142.4 L1589.5,1141.6 L1589.5,1140.8 L1589.4,1140.0 L1589.4,1139.2 L1589.3,1138.4 L1589.2,1137.6 L1589.2,1136.8 L1589.1,1136.0 L1589.0,1135.2 L1588.9,1134.4 L1588.9,1133.6 L1588.8,1132.8 L1588.7,1132.0 L1588.6,1131.2 L1588.5,1130.4 L1588.3,1129.6 L1588.2,1128.8 L1588.1,1128.0 L1588.0,1127.2 L1588.0,1126.4 L1587.9,1125.6 L1587.9,1124.8 L1587.9,1124.0 L1587.9,1123.2 L1588.0,1122.4 L1588.0,1121.6 L1588.1,1120.8 L1588.1,1120.0 L1588.2,1119.2 L1588.3,1118.4 L1588.3,1117.6 L1588.4,1116.8 L1588.5,1116.0 L1588.6,1115.2 L1588.7,1114.4 L1588.8,1113.6 L1588.9,1112.8 L1589.0,1112.0 L1589.2,1111.2 L1589.3,1110.4 L1589.4,1109.6 L1589.6,1108.8 L1589.7,1108.0 L1589.8,1107.2 L1590.0,1106.4 L1590.1,1105.6 L1590.2,1104.8 L1590.3,1104.0 L1590.5,1103.2 L1590.6,1102.4 L1590.7,1101.6 L1590.8,1100.8 L1590.9,1100.0 L1590.9,1099.2 L1590.9,1098.4 L1590.9,1097.6 L1590.9,1096.8 L1590.9,1096.0Z" fill="#000" stroke="#000" stroke-width="0.5" stroke-linejoin="round"/>
<clipPath id="bc8"><path d="M1592.4,1096.0 L1592.4,1096.8 L1592.4,1097.6 L1592.4,1098.4 L1592.4,1099.2 L1592.4,1100.0 L1592.4,1100.8 L1592.5,1101.6 L1592.7,1102.4 L1592.8,1103.2 L1592.9,1104.0 L1593.0,1104.8 L1593.2,1105.6 L1593.3,1106.4 L1593.4,1107.2 L1593.5,1108.0 L1593.7,1108.8 L1593.8,1109.6 L1594.0,1110.4 L1594.1,1111.2 L1594.2,1112.0 L1594.4,1112.8 L1594.5,1113.6 L1594.6,1114.4 L1594.7,1115.2 L1594.8,1116.0 L1594.9,1116.8 L1594.9,1117.6 L1595.0,1118.4 L1595.1,1119.2 L1595.1,1120.0 L1595.2,1120.8 L1595.2,1121.6 L1595.3,1122.4 L1595.3,1123.2 L1595.3,1124.0 L1595.3,1124.8 L1595.3,1125.6 L1595.3,1126.4 L1595.2,1127.2 L1595.1,1128.0 L1595.0,1128.8 L1594.9,1129.6 L1594.8,1130.4 L1594.7,1131.2 L1594.6,1132.0 L1594.5,1132.8 L1594.4,1133.6 L1594.3,1134.4 L1594.2,1135.2 L1594.2,1136.0 L1594.1,1136.8 L1594.0,1137.6 L1594.0,1138.4 L1593.9,1139.2 L1593.8,1140.0 L1593.8,1140.8 L1593.7,1141.6 L1593.6,1142.4 L1593.6,1143.2 L1593.5,1144.0 L1593.5,1144.8 L1593.4,1145.6 L1593.4,1146.4 L1593.3,1147.2 L1593.3,1148.0 L1593.2,1148.8 L1593.2,1149.6 L1593.1,1150.4 L1593.1,1151.2 L1593.0,1152.0 L1593.0,1152.8 L1592.9,1153.6 L1592.9,1154.4 L1592.9,1155.2 L1592.8,1156.0 L1592.8,1156.8 L1592.8,1157.6 L1592.8,1158.4 L1592.8,1159.2 L1592.8,1160.0 L1592.8,1160.8 L1592.8,1161.6 L1592.9,1162.4 L1592.9,1163.2 L1593.0,1164.0 L1593.0,1164.8 L1593.1,1165.6 L1593.1,1166.4 L1593.2,1167.2 L1593.3,1168.0 L1593.3,1168.8 L1593.4,1169.6 L1593.5,1170.4 L1593.6,1171.2 L1593.7,1172.0 L1593.9,1172.8 L1594.1,1173.6 L1594.4,1174.4 L1594.6,1175.2 L1594.9,1176.0 L1595.2,1176.8 L1595.5,1177.6 L1595.8,1178.4 L1596.1,1179.2 L1596.4,1180.0 L1596.7,1180.8 L1597.0,1181.6 L1597.3,1182.4 L1597.6,1183.2 L1598.0,1184.0 L1598.3,1184.8 L1598.7,1185.6 L1599.1,1186.4 L1599.5,1187.2 L1599.9,1188.0 L1600.3,1188.8 L1600.8,1189.6 L1601.3,1190.4 L1601.8,1191.2 L1602.4,1192.0 L1603.0,1192.8 L1603.6,1193.6 L1604.3,1194.4 L1604.9,1195.2 L1605.6,1196.0 L1606.3,1196.8 L1607.0,1197.6 L1607.8,1198.4 L1608.6,1199.2 L1609.4,1200.0 L1610.2,1200.8 L1611.1,1201.6 L1611.9,1202.4 L1612.8,1203.2 L1613.7,1204.0 L1614.7,1204.8 L1615.6,1205.6 L1616.6,1206.4 L1617.6,1207.2 L1618.6,1208.0 L1619.5,1208.8 L1620.3,1209.6 L1621.1,1210.4 L1621.9,1211.2 L1622.6,1212.0 L1623.3,1212.8 L1624.0,1213.6 L1624.6,1214.4 L1625.3,1215.2 L1625.9,1216.0 L1626.4,1216.8 L1627.0,1217.6 L1627.6,1218.4 L1628.3,1219.2 L1628.8,1220.0 L1629.2,1220.8 L1629.3,1221.6 L1629.3,1222.4 L1629.3,1223.2 L1629.2,1224.0 L1629.2,1224.8 L1629.1,1225.6 L1629.1,1226.4 L1629.0,1227.2 L1628.9,1228.0 L1628.8,1228.8 L1628.6,1229.6 L1628.2,1230.4 L1627.7,1231.2 L1627.2,1232.0 L1626.5,1232.8 L1625.9,1233.6 L1625.2,1234.4 L1624.5,1235.2 L1623.8,1236.0 L1623.0,1236.8 L1622.1,1237.6 L1621.2,1238.4 L1620.2,1239.2 L1619.2,1240.0 L1618.2,1240.8 L1617.2,1241.6 L1616.2,1242.4 L1615.2,1243.2 L1614.1,1244.0 L1613.0,1244.8 L1611.8,1245.6 L1610.7,1246.4 L1609.6,1247.2 L1608.5,1248.0 L1607.5,1248.8 L1606.6,1249.6 L1605.8,1250.4 L1604.9,1251.2 L1604.1,1252.0 L1603.3,1252.8 L1602.6,1253.6 L1601.9,1254.4 L1601.3,1255.2 L1600.7,1256.0 L1600.3,1256.8 L1599.9,1257.6 L1599.5,1258.4 L1599.2,1259.2 L1598.9,1260.0 L1598.6,1260.8 L1598.4,1261.6 L1598.1,1262.4 L1597.8,1263.2 L1597.6,1264.0 L1597.3,1264.8 L1597.1,1265.6 L1596.9,1266.4 L1596.7,1267.2 L1596.5,1268.0 L1596.2,1268.8 L1596.0,1269.6 L1595.8,1270.4 L1595.6,1271.2 L1595.4,1272.0 L1595.2,1272.8 L1594.9,1273.6 L1594.7,1274.4 L1594.5,1275.2 L1594.3,1276.0 L1594.1,1276.8 L1593.9,1277.6 L1593.7,1278.4 L1593.6,1279.2 L1593.4,1280.0 L1593.3,1280.8 L1593.2,1281.6 L1593.1,1282.4 L1592.9,1283.2 L1592.8,1284.0 L1592.7,1284.8 L1592.6,1285.6 L1592.5,1286.4 L1592.4,1287.2 L1592.4,1288.0 L1592.4,1288.8 L1592.4,1289.6 L1592.4,1290.4 L1592.4,1291.2 L1592.4,1292.0 L1592.4,1292.8 L1592.4,1293.6 L1592.4,1294.4 L1592.4,1295.2 L1592.4,1296.0 L1592.4,1296.5 L1590.9,1296.5 L1590.9,1296.0 L1590.9,1295.2 L1590.9,1294.4 L1590.9,1293.6 L1590.9,1292.8 L1590.9,1292.0 L1590.9,1291.2 L1590.9,1290.4 L1590.9,1289.6 L1590.9,1288.8 L1590.9,1288.0 L1590.9,1287.2 L1590.8,1286.4 L1590.7,1285.6 L1590.5,1284.8 L1590.4,1284.0 L1590.3,1283.2 L1590.2,1282.4 L1590.1,1281.6 L1589.9,1280.8 L1589.8,1280.0 L1589.7,1279.2 L1589.5,1278.4 L1589.4,1277.6 L1589.2,1276.8 L1589.0,1276.0 L1588.8,1275.2 L1588.5,1274.4 L1588.3,1273.6 L1588.1,1272.8 L1587.9,1272.0 L1587.7,1271.2 L1587.4,1270.4 L1587.2,1269.6 L1587.0,1268.8 L1586.8,1268.0 L1586.6,1267.2 L1586.4,1266.4 L1586.1,1265.6 L1585.9,1264.8 L1585.7,1264.0 L1585.4,1263.2 L1585.2,1262.4 L1584.9,1261.6 L1584.6,1260.8 L1584.3,1260.0 L1584.0,1259.2 L1583.7,1258.4 L1583.4,1257.6 L1583.0,1256.8 L1582.5,1256.0 L1582.0,1255.2 L1581.4,1254.4 L1580.7,1253.6 L1579.9,1252.8 L1579.2,1252.0 L1578.3,1251.2 L1577.5,1250.4 L1576.6,1249.6 L1575.7,1248.8 L1574.7,1248.0 L1573.7,1247.2 L1572.6,1246.4 L1571.4,1245.6 L1570.3,1244.8 L1569.2,1244.0 L1568.1,1243.2 L1567.1,1242.4 L1566.1,1241.6 L1565.0,1240.8 L1564.0,1240.0 L1563.0,1239.2 L1562.0,1238.4 L1561.1,1237.6 L1560.3,1236.8 L1559.5,1236.0 L1558.8,1235.2 L1558.1,1234.4 L1557.4,1233.6 L1556.7,1232.8 L1556.1,1232.0 L1555.5,1231.2 L1555.0,1230.4 L1554.7,1229.6 L1554.5,1228.8 L1554.4,1228.0 L1554.3,1227.2 L1554.2,1226.4 L1554.1,1225.6 L1554.1,1224.8 L1554.0,1224.0 L1554.0,1223.2 L1554.0,1222.4 L1554.0,1221.6 L1554.1,1220.8 L1554.5,1220.0 L1555.0,1219.2 L1555.6,1218.4 L1556.2,1217.6 L1556.8,1216.8 L1557.4,1216.0 L1558.0,1215.2 L1558.6,1214.4 L1559.3,1213.6 L1559.9,1212.8 L1560.7,1212.0 L1561.4,1211.2 L1562.1,1210.4 L1562.9,1209.6 L1563.8,1208.8 L1564.7,1208.0 L1565.6,1207.2 L1566.6,1206.4 L1567.6,1205.6 L1568.6,1204.8 L1569.5,1204.0 L1570.5,1203.2 L1571.3,1202.4 L1572.2,1201.6 L1573.0,1200.8 L1573.9,1200.0 L1574.7,1199.2 L1575.5,1198.4 L1576.2,1197.6 L1577.0,1196.8 L1577.7,1196.0 L1578.3,1195.2 L1579.0,1194.4 L1579.6,1193.6 L1580.3,1192.8 L1580.9,1192.0 L1581.4,1191.2 L1582.0,1190.4 L1582.5,1189.6 L1582.9,1188.8 L1583.4,1188.0 L1583.8,1187.2 L1584.2,1186.4 L1584.6,1185.6 L1584.9,1184.8 L1585.3,1184.0 L1585.6,1183.2 L1586.0,1182.4 L1586.3,1181.6 L1586.6,1180.8 L1586.9,1180.0 L1587.2,1179.2 L1587.5,1178.4 L1587.8,1177.6 L1588.1,1176.8 L1588.3,1176.0 L1588.6,1175.2 L1588.9,1174.4 L1589.1,1173.6 L1589.3,1172.8 L1589.5,1172.0 L1589.7,1171.2 L1589.8,1170.4 L1589.8,1169.6 L1589.9,1168.8 L1590.0,1168.0 L1590.1,1167.2 L1590.1,1166.4 L1590.2,1165.6 L1590.3,1164.8 L1590.3,1164.0 L1590.3,1163.2 L1590.4,1162.4 L1590.4,1161.6 L1590.4,1160.8 L1590.5,1160.0 L1590.5,1159.2 L1590.5,1158.4 L1590.5,1157.6 L1590.4,1156.8 L1590.4,1156.0 L1590.4,1155.2 L1590.4,1154.4 L1590.3,1153.6 L1590.3,1152.8 L1590.2,1152.0 L1590.2,1151.2 L1590.1,1150.4 L1590.1,1149.6 L1590.0,1148.8 L1590.0,1148.0 L1589.9,1147.2 L1589.9,1146.4 L1589.8,1145.6 L1589.8,1144.8 L1589.7,1144.0 L1589.7,1143.2 L1589.6,1142.4 L1589.5,1141.6 L1589.5,1140.8 L1589.4,1140.0 L1589.4,1139.2 L1589.3,1138.4 L1589.2,1137.6 L1589.2,1136.8 L1589.1,1136.0 L1589.0,1135.2 L1588.9,1134.4 L1588.9,1133.6 L1588.8,1132.8 L1588.7,1132.0 L1588.6,1131.2 L1588.5,1130.4 L1588.3,1129.6 L1588.2,1128.8 L1588.1,1128.0 L1588.0,1127.2 L1588.0,1126.4 L1587.9,1125.6 L1587.9,1124.8 L1587.9,1124.0 L1587.9,1123.2 L1588.0,1122.4 L1588.0,1121.6 L1588.1,1120.8 L1588.1,1120.0 L1588.2,1119.2 L1588.3,1118.4 L1588.3,1117.6 L1588.4,1116.8 L1588.5,1116.0 L1588.6,1115.2 L1588.7,1114.4 L1588.8,1113.6 L1588.9,1112.8 L1589.0,1112.0 L1589.2,1111.2 L1589.3,1110.4 L1589.4,1109.6 L1589.6,1108.8 L1589.7,1108.0 L1589.8,1107.2 L1590.0,1106.4 L1590.1,1105.6 L1590.2,1104.8 L1590.3,1104.0 L1590.5,1103.2 L1590.6,1102.4 L1590.7,1101.6 L1590.8,1100.8 L1590.9,1100.0 L1590.9,1099.2 L1590.9,1098.4 L1590.9,1097.6 L1590.9,1096.8 L1590.9,1096.0Z"/></clipPath>
<g fill="#fff" clip-path="url(#bc8)"><rect x="1583.3" y="1125.51" width="16.7" height="2.46"/><rect x="1583.3" y="1190.86" width="16.7" height="2.00"/><rect x="1583.3" y="1193.65" width="16.7" height="2.46"/><rect x="1583.3" y="1206.56" width="16.7" height="3.16"/><rect x="1583.3" y="1211.21" width="16.7" height="2.23"/><rect x="1583.3" y="1214.35" width="16.7" height="2.00"/><rect x="1583.3" y="1217.37" width="16.7" height="2.00"/><rect x="1583.3" y="1224.12" width="16.7" height="15.95"/><rect x="1583.3" y="1259.93" width="16.7" height="2.46"/><rect x="1583.3" y="1263.42" width="16.7" height="2.46"/></g>
<line x1="1545.8" x2="1638.4" y1="1221.2" y2="1221.2" stroke="#000" stroke-width="3.9" stroke-linecap="round"/>
<g fill="#fff" clip-path="url(#bc8)"><rect x="1583.3" y="1125.51" width="16.7" height="2.46"/><rect x="1583.3" y="1190.86" width="16.7" height="2.00"/><rect x="1583.3" y="1193.65" width="16.7" height="2.46"/><rect x="1583.3" y="1206.56" width="16.7" height="3.16"/><rect x="1583.3" y="1211.21" width="16.7" height="2.23"/><rect x="1583.3" y="1214.35" width="16.7" height="2.00"/><rect x="1583.3" y="1217.37" width="16.7" height="2.00"/><rect x="1583.3" y="1224.12" width="16.7" height="15.95"/><rect x="1583.3" y="1259.93" width="16.7" height="2.46"/><rect x="1583.3" y="1263.42" width="16.7" height="2.46"/></g>
</g>
</svg>
</body></html>
